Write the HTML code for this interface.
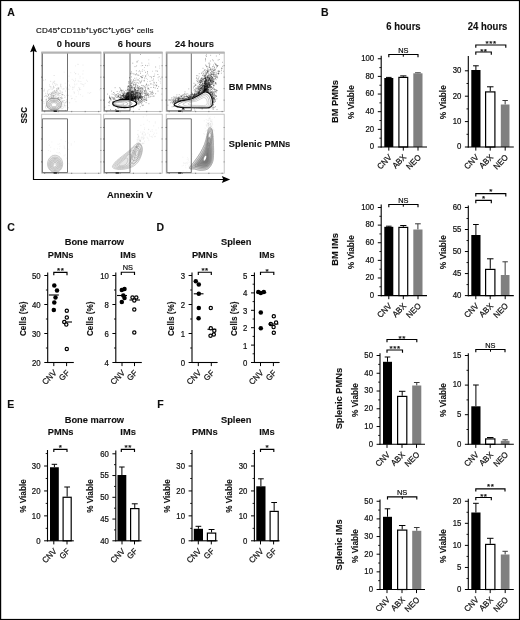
<!DOCTYPE html><html><head><meta charset="utf-8"><title>Figure</title>
<style>html,body{margin:0;padding:0;background:#fff;}svg{display:block;font-family:"Liberation Sans",sans-serif;}</style></head><body>
<svg width="520" height="620" viewBox="0 0 520 620">
<rect x="0" y="0" width="520" height="620" fill="#fff"/>
<defs><filter id="soft" x="0" y="0" width="520" height="620" filterUnits="userSpaceOnUse"><feGaussianBlur stdDeviation="0.3"/></filter></defs>
<g filter="url(#soft)">
<text transform="translate(7.2 16.3) scale(0.935 1)" font-size="11.24" font-weight="bold" text-anchor="start" fill="#111" stroke="#111" stroke-width="0.12">A</text>
<text transform="translate(321 16.3) scale(0.935 1)" font-size="11.24" font-weight="bold" text-anchor="start" fill="#111" stroke="#111" stroke-width="0.12">B</text>
<text transform="translate(7.2 230.6) scale(0.935 1)" font-size="11.24" font-weight="bold" text-anchor="start" fill="#111" stroke="#111" stroke-width="0.12">C</text>
<text transform="translate(156.5 230.6) scale(0.935 1)" font-size="11.24" font-weight="bold" text-anchor="start" fill="#111" stroke="#111" stroke-width="0.12">D</text>
<text transform="translate(7.2 408.3) scale(0.935 1)" font-size="11.24" font-weight="bold" text-anchor="start" fill="#111" stroke="#111" stroke-width="0.12">E</text>
<text transform="translate(157.3 408.3) scale(0.935 1)" font-size="11.24" font-weight="bold" text-anchor="start" fill="#111" stroke="#111" stroke-width="0.12">F</text>
<text x="36" y="33" font-size="8" fill="#111" stroke="#111" stroke-width="0.2" textLength="117.5" lengthAdjust="spacing">CD45<tspan font-size="5" dy="-2.6">+</tspan><tspan dy="2.6">CD11b</tspan><tspan font-size="5" dy="-2.6">+</tspan><tspan dy="2.6">Ly6C</tspan><tspan font-size="5" dy="-2.6">+</tspan><tspan dy="2.6">Ly6G</tspan><tspan font-size="5" dy="-2.6">+</tspan><tspan dy="2.6"> cells</tspan></text>
<text transform="translate(73.5 47) scale(0.935 1)" font-size="9.95" font-weight="bold" text-anchor="middle" fill="#111" stroke="#111" stroke-width="0.12">0 hours</text>
<text transform="translate(134.5 47) scale(0.935 1)" font-size="9.95" font-weight="bold" text-anchor="middle" fill="#111" stroke="#111" stroke-width="0.12">6 hours</text>
<text transform="translate(194.5 47) scale(0.935 1)" font-size="9.95" font-weight="bold" text-anchor="middle" fill="#111" stroke="#111" stroke-width="0.12">24 hours</text>
<text transform="translate(228.8 90.2) scale(0.935 1)" font-size="9.95" font-weight="bold" text-anchor="start" fill="#111" stroke="#111" stroke-width="0.12">BM PMNs</text>
<text transform="translate(228.8 147.2) scale(0.935 1)" font-size="9.95" font-weight="bold" text-anchor="start" fill="#111" stroke="#111" stroke-width="0.12">Splenic PMNs</text>
<text transform="translate(129.8 197.6) scale(0.935 1)" font-size="9.95" font-weight="bold" text-anchor="middle" fill="#111" stroke="#111" stroke-width="0.12">Annexin V</text>
<text transform="translate(27.2 115.3) rotate(-90) scale(0.935 1)" font-size="8.56" font-weight="bold" text-anchor="middle" fill="#111" stroke="#111" stroke-width="0.12">SSC</text>
<path d="M33.5 50V179.5H224" fill="none" stroke="#000" stroke-width="1.2"/>
<path d="M33.5 44.3L36.9 52.3L33.5 50.9L30.1 52.3Z" fill="#000"/>
<path d="M230.2 179.5L221.8 176.0L223.3 179.5L221.8 183.0Z" fill="#000"/>
<defs><filter id="fb" x="30" y="40" width="210" height="150" filterUnits="userSpaceOnUse"><feGaussianBlur stdDeviation="0.55"/></filter><filter id="fb2" x="30" y="40" width="210" height="150" filterUnits="userSpaceOnUse"><feGaussianBlur stdDeviation="0.7"/></filter></defs>
<path d="M48.9 104.6h0M59.1 100.8h0M48.4 102.7h0M56.7 107.6h0M48.9 97.6h0M57.7 105h0M61.6 107.1h0M54 101.8h0M66.3 101.8h0M50.9 98.2h0M54.9 103.6h0M52.9 102.7h0M55.8 105.9h0M59.5 103.9h0M46.3 105.9h0M48 102.3h0M47.7 103h0M50.9 103.9h0M69.7 102.8h0M58.4 97.4h0M53.2 105.8h0M54.1 104.6h0M55 98.8h0M57.1 99.6h0M63.1 100.9h0M57.7 103h0M58.9 100.5h0M59.1 102.5h0M60.3 105.6h0M55.1 99.7h0M58 105h0M62.1 101.4h0M57.1 105.1h0M55.8 103.9h0M55.3 100.5h0M49.8 101.3h0M57.2 109.3h0M59 107.4h0M58.1 105.9h0M55.3 106.2h0M62.7 101.6h0M55.6 107.1h0M58.5 98.2h0M65.7 110.5h0M55.3 106.2h0M55.1 99.3h0M54 104.6h0M59.6 106h0M54.8 108.7h0M51 106.3h0M59.6 101.8h0M46.3 99.2h0M55.6 105.2h0M61.6 98.8h0M54.5 105.7h0M53.8 93h0M59.1 99.1h0M52.6 103.9h0M65.9 105.6h0M55 109.5h0M51.3 101h0M57.8 109h0M57.5 104.3h0M46.1 100h0M51.7 100.8h0M57.2 101.6h0M58.1 103.3h0M53 103.5h0M56.5 106.6h0M52.3 102h0M48.2 109.7h0M61.2 102.2h0M52.3 97.8h0M55.3 103.9h0M64.5 104h0M50.9 92.7h0M61 103.8h0M47.1 103.8h0M59.6 105.4h0M53.7 94h0M53.9 96.5h0M57.2 94h0M50.3 108.1h0M62.1 98h0M47.4 106.7h0M58.4 98.9h0M51.3 100.1h0M49 100.1h0M60.3 105.9h0M64 102.6h0M53.9 98.9h0M53.9 97.5h0M46.3 105.9h0M61.1 106.5h0M60.6 104.1h0M51.2 103.4h0M52.8 98.3h0M46.7 96.8h0M54.5 103.6h0M52.3 109h0M55.3 105.4h0M60.1 99.6h0M45.4 106.2h0M51.3 108.5h0M56.1 107.2h0M58 94.3h0M57.8 100.2h0M51 101.2h0M58 106.7h0M59.2 96h0M51.8 93h0M54 105.5h0M51 104h0M55.6 107.2h0M50.7 99.5h0M51 110.4h0M59.5 102.5h0M55.5 103.5h0M55.4 102.1h0M53 97.7h0M51.5 109.9h0M57 103.3h0M53.5 103.3h0M56.1 100.3h0M55.4 104h0M51.1 99.7h0M49.9 98.5h0M58.6 93.1h0M53.3 100.4h0M51.6 103.4h0M59.7 103.3h0M53.9 100.4h0M53.9 106.8h0M52.7 98.2h0M48.7 98.4h0M48.1 107.6h0M56.1 102h0M61.2 100.2h0M58 106.4h0M47.4 96.5h0M50.2 106.8h0M60.5 97.8h0M59.3 101.4h0M52.7 100.7h0M53 95.4h0M49.9 97.8h0M67.1 101.6h0M46.6 101.3h0M57.1 99.9h0M58.8 105.3h0M47 100.8h0M53.4 103.1h0M55.1 101.6h0M55.4 100.5h0M50.4 109.4h0M56.2 104.8h0M47.2 102.3h0M58.3 97.6h0M59.5 101.4h0M56.4 102.4h0M55.5 108.1h0M52.6 109.6h0M50.9 99.1h0M57.8 98.5h0M52.8 106.8h0M60.1 95.5h0M60 102h0M51.7 101.8h0M49.2 101.9h0M53.6 102.4h0M59.9 102h0M47.8 107.4h0M49.6 101.1h0M53.9 101.6h0M49.9 102h0M64.5 100.5h0M53.9 107.7h0M57.9 106.2h0M58.5 94.7h0M50.5 103.5h0M56.8 108.4h0M56.7 102h0M54.7 102.1h0M55.6 105.8h0M52.9 99.6h0M50.6 107.6h0M60.4 107.2h0M58.4 106.5h0M54.5 105.8h0M49.7 102.1h0M51.1 106.1h0M51.8 102.5h0M56.3 108.7h0M50.9 99.1h0M58.3 98.4h0M56.6 100.6h0M54 95.4h0M57.8 100.9h0M56.4 101.5h0M55 109.7h0M54.4 104.9h0M56.9 99.2h0M55.1 100.9h0M48.8 106.7h0M57.6 103.3h0M50.3 94.6h0M56.7 102.6h0M46.8 102.7h0M47.5 102.9h0M55.2 104.5h0M55.5 103.7h0M49.3 101.4h0M52.1 102h0M55.7 105.6h0M62 92.2h0M56.3 102.2h0M65 106.9h0M46.9 104.7h0M52.1 107.2h0M49.6 102.6h0M53.9 102.6h0M51.8 95.3h0M56.6 107.2h0M54.2 98.7h0M55.4 105.4h0M53.7 102.9h0M61 98.3h0M51.9 95h0M51.3 99.9h0M50.1 100.1h0M62.8 102.2h0M54.2 95.7h0M56.4 99.1h0M62 97.8h0M51.8 96.3h0M54.9 98.7h0M54.2 101.4h0M51.7 107h0M58.8 103.3h0M50.4 98.5h0M52.4 99.7h0M51.3 98.4h0M50 102.1h0M61.1 103h0M52.2 96.2h0M55.5 102.9h0M48.9 98.4h0M54.3 107.3h0M57.4 103.9h0M53 104.3h0M49.3 101.5h0M60.3 101.9h0M61.1 102.8h0M55.2 101.4h0M48.1 98.9h0M64.7 105.7h0M57.3 107h0M57.1 107.3h0M53.3 102.1h0M59 101.5h0M48.4 102.1h0M52 105.6h0M51.2 98.5h0M53 109.5h0M54.3 103.7h0M54.5 104.2h0M58.8 108.9h0M46.9 108.7h0M54.5 101.7h0M65.5 102.3h0M63.4 107.1h0M49.8 105.1h0M57.9 102.5h0M43.8 101.6h0M53.6 98.3h0M62.9 102h0M52.7 101.7h0M50.9 99.7h0M54.9 104.3h0M52.2 102.6h0M48.1 105.2h0M51.1 103.9h0M50.3 100.8h0M55.5 97.9h0M65.9 102.8h0M54.2 99.9h0M61.8 108.8h0M55.9 97.3h0M52.2 105.6h0M52.1 98h0M49 99.8h0M54.6 100.3h0M62.7 98.6h0M56.1 103.4h0M53.9 107.4h0M53 101.6h0M52.8 102.6h0M60.4 106.3h0M48.3 101.1h0M50.8 106.4h0M56.2 103.2h0M54.7 83.6h0M57.5 98.6h0M57.8 87.9h0M55.4 92.2h0M51.2 99.5h0M56.9 90.8h0M45.6 79.7h0M51.8 104.9h0M54.7 81.2h0M50.3 100h0M64.2 105.2h0M57 98.4h0M49.2 93.8h0M53.2 91.6h0M55.3 94.3h0M56.9 107h0M59.1 99.9h0M53.7 86.4h0M54.4 100.8h0M49.5 105.8h0M53.2 99.6h0M53.2 88.2h0M66.4 88.9h0M60.1 93.1h0M56.5 91.4h0M52.7 103.4h0M65.7 91.1h0M55.1 103.6h0M51.5 102h0M50.7 101.2h0M57.4 105.5h0M57 88.6h0M58.7 89.3h0M59.1 107.6h0M58.3 93.1h0M61.6 98.2h0M48.2 94.5h0M62.8 94.9h0M55.7 94.6h0M45.7 93.4h0M57 98.5h0M54 82.1h0M61.7 102h0M60.6 106.1h0M52.6 92.8h0M56.7 108.7h0M45.7 95.4h0M51.1 100.9h0M63.1 94.9h0M48.2 97.3h0M53.4 86.2h0M59.9 93.3h0M58.8 87.8h0M61 86.9h0M60.8 84.3h0M62.6 94.4h0M46.4 95.4h0M56.9 90.1h0M52.3 98.9h0M54.1 75.5h0M52.6 100h0M56.6 104.1h0M59.4 99.2h0M61 103.7h0M55.6 92.7h0M60.6 100h0M44.6 89.3h0M57.6 97.8h0M56.5 101.5h0M55.8 108.1h0M51.8 94.2h0M56.8 102.2h0M59.3 107.4h0M52.4 105.2h0M57.6 89.7h0M59.3 93.7h0M51.1 97.5h0M67.7 102.2h0M56.7 90.5h0M48.5 95.5h0M52.8 92.7h0M61.2 97.5h0M48.2 106h0M53.3 87.7h0M56.8 100.4h0M53.1 101.9h0M59.5 90.8h0M43.7 80.3h0M54.3 105.6h0M60.5 106.7h0M65.2 97.1h0M60.8 86.3h0M58.8 99.7h0M54.5 93.9h0M48.9 98h0M62 94.4h0M57.9 92.3h0M56.4 89.9h0M57.1 95.5h0M56.7 92.8h0M48.5 94.7h0M60.7 108.1h0M53.2 102.6h0M59.2 99.7h0M46.5 99.3h0M49.7 105.2h0M59.3 101.3h0M58.8 88.1h0M60.3 97.5h0M54 92h0M49.4 94h0M72 98.4h0M56.1 92.5h0M51.6 93.1h0M50.1 103.1h0M53.5 103.1h0M48.6 103.5h0M54.9 101.7h0M54.4 90.8h0M61.7 94h0M54.2 90.8h0M56.1 94.3h0M56.6 99.4h0M51.2 87.1h0M57.4 103.4h0M58.8 89h0M58.3 99.7h0M56.6 100h0M53.2 98.5h0M60.1 93.5h0M47.1 96.3h0M56.1 84.1h0M51.3 101.1h0M54.2 97.6h0M48.1 103.3h0M64.6 95.6h0M51 88.9h0M59.9 97.7h0M50.6 105.5h0M59.2 101.2h0M45.3 96.3h0M58.4 88.4h0M60.1 107h0M60.7 91.9h0M51.1 103.6h0M60.5 105.6h0M61.6 96.3h0M52.7 84h0M52.5 93.7h0M58.6 99.6h0M47.5 92h0M51.1 103h0M65.5 110.3h0M62.8 108.4h0M48.2 94.6h0M51 95h0M69.4 85.2h0M58.1 88.3h0M62.4 106.1h0M55.4 106.1h0M56.7 93.1h0M52.9 96.2h0M58.4 97.9h0M68 95.6h0M52.4 92h0M50.7 86.9h0M49.6 103.3h0M55.3 95.8h0M56.9 104.5h0M58.4 102.4h0M51.9 95.2h0M50.7 96.3h0M50.5 94.4h0M54 95.5h0M53.5 93.6h0M62.2 94.6h0M49.4 98.4h0M49 89.5h0M55.5 85.3h0M60.7 85.3h0M50.1 101h0M44.1 90.9h0M48.4 95.6h0M44.1 103.3h0M54.2 99.1h0M53.2 82.2h0M54.2 87.6h0M55.1 91h0M53.3 95.5h0M59.2 102.4h0M49.5 96.9h0M63 100.5h0M51 96.2h0M53.1 103.6h0M55.2 99.6h0M67.2 87.4h0M49.4 84.9h0M46.2 103h0M56.6 108.4h0M44.1 90.8h0M62.9 104.2h0M59.9 103.1h0M55.2 96.9h0M55.2 102.9h0M54.1 99.2h0M63 89.1h0M50.9 101h0M53.6 95.9h0M66.5 99.9h0M52.7 104.7h0M68.8 89.2h0M51.3 97.8h0M57.9 94.2h0M57.7 91.4h0M51.7 97.7h0M68.1 81.2h0M57.3 106.5h0M59.1 110.5h0M57.5 98h0M54.3 91h0M64 88.7h0M54.3 93.3h0M50.7 81.4h0M52.9 98h0M55.8 102.9h0M54.1 92.5h0M56.7 101.7h0M50 86.4h0M49.4 104.4h0M60.5 90.8h0M55.6 102.9h0M62.3 92.4h0M53.7 106.9h0M68.3 107.7h0M48.7 100.1h0M53.4 96.6h0M51.4 93.6h0M54.9 109.6h0M58.8 100h0M55.1 91.7h0M53.7 105.7h0M56.4 96.9h0M46.1 99.8h0M45.5 107.7h0M51.5 97h0M47.6 93.5h0M49.9 104.9h0M56.4 88.7h0M44.4 96.5h0M52.3 89.2h0M58.2 95.7h0M55.6 92.9h0M51.9 93.8h0M46.2 101.4h0M57.2 84.9h0M55.6 105.1h0M56.3 106.1h0M53.5 97h0M47.9 90.7h0" stroke="#555" stroke-opacity="0.42" stroke-width="0.55" stroke-linecap="round" fill="none"/>
<path d="M64.2 72.2h0M78.7 87.7h0M85.1 83.4h0M70.1 86.7h0M76 101.6h0M90.7 92.6h0M69 76.2h0M78.3 74.2h0M80.7 89.5h0M82.9 84.5h0M70.8 72.7h0M76.1 96.6h0M88 92.8h0M79.5 89.4h0M82.8 96.2h0M83 65.1h0M83.7 86.2h0M73.8 87.8h0M79 81.4h0M65.2 83.2h0M80.9 81.5h0M65.9 87h0M82 84h0M80 78.1h0M72.4 87.8h0M74.5 84h0M99.8 89.8h0M77.9 64.2h0M77.7 90.3h0M72.1 79.4h0M61.2 88.1h0M72.8 89.5h0M86.6 80.2h0M83.9 84.8h0M75.6 78.9h0M71 96.1h0M83.2 70.9h0M82.9 74h0M66.5 95.2h0M68 95h0M78.4 91.9h0M80.6 94.7h0M79.4 88.4h0M78.7 94h0M74.3 93.2h0M87.5 81.3h0M80.1 76.3h0M75 84.9h0M74.6 72.3h0M76.8 84.1h0M79.3 89.8h0M64.6 97.5h0M75.8 73.5h0M74.4 86.9h0M83.1 78h0M78.1 64.4h0M78.2 80.8h0M74 91.7h0M89.6 93.4h0M71.5 98.8h0M74.7 81.6h0M72.9 87h0M80.9 83.6h0M75.5 80.4h0M74.2 92.7h0M73.4 80.4h0M75.5 73.8h0M75.4 65.9h0M79.9 87.9h0M74.9 99.1h0" stroke="#888" stroke-opacity="0.35" stroke-width="0.5" stroke-linecap="round" fill="none"/>
<path d="M61.4 104.3C61.4 105.3 61 106.4 60.4 107.2C59.8 108.1 58.8 108.9 57.7 109.4C56.6 109.9 55.2 110.2 54 110.2C52.8 110.2 51.4 109.9 50.3 109.4C49.2 108.9 48.2 108.1 47.6 107.2C47 106.4 46.6 105.3 46.6 104.3C46.6 103.3 47 102.2 47.6 101.3C48.2 100.5 49.2 99.7 50.3 99.2C51.4 98.7 52.8 98.4 54 98.4C55.2 98.4 56.6 98.7 57.7 99.2C58.8 99.7 59.8 100.5 60.4 101.3C61 102.2 61.4 103.3 61.4 104.3Z" fill="#fff" stroke="#777" stroke-width="0.65"/>
<path d="M60.2 104.7C60.2 105.5 59.9 106.5 59.4 107.2C58.9 107.9 58 108.6 57.1 109C56.2 109.4 55 109.7 54 109.7C53 109.7 51.8 109.4 50.9 109C50 108.6 49.1 107.9 48.6 107.2C48.1 106.5 47.8 105.5 47.8 104.7C47.8 103.9 48.1 102.9 48.6 102.2C49.1 101.5 50 100.8 50.9 100.4C51.8 100 53 99.7 54 99.7C55 99.7 56.2 100 57.1 100.4C58 100.8 58.9 101.5 59.4 102.2C59.9 102.9 60.2 103.9 60.2 104.7Z" fill="none" stroke="#808080" stroke-width="0.55"/>
<path d="M59 104.7C59 105.4 58.8 106.1 58.4 106.7C57.9 107.3 57.2 107.8 56.5 108.2C55.8 108.5 54.8 108.7 54 108.7C53.2 108.7 52.2 108.5 51.5 108.2C50.8 107.8 50.1 107.3 49.6 106.7C49.2 106.1 49 105.4 49 104.7C49 104 49.2 103.3 49.6 102.7C50.1 102.1 50.8 101.6 51.5 101.2C52.2 100.9 53.2 100.7 54 100.7C54.8 100.7 55.8 100.9 56.5 101.2C57.2 101.6 57.9 102.1 58.4 102.7C58.8 103.3 59 104 59 104.7Z" fill="none" stroke="#7d7d7d" stroke-width="0.55"/>
<path d="M57.8 104.7C57.8 105.2 57.7 105.8 57.3 106.2C57 106.7 56.5 107.1 55.9 107.4C55.4 107.6 54.6 107.8 54 107.8C53.4 107.8 52.6 107.6 52.1 107.4C51.5 107.1 51 106.7 50.7 106.2C50.3 105.8 50.2 105.2 50.2 104.7C50.2 104.2 50.3 103.6 50.7 103.2C51 102.7 51.5 102.3 52.1 102C52.6 101.8 53.4 101.6 54 101.6C54.6 101.6 55.4 101.8 55.9 102C56.5 102.3 57 102.7 57.3 103.2C57.7 103.6 57.8 104.2 57.8 104.7Z" fill="none" stroke="#888" stroke-width="0.55"/>
<path d="M56.7 104.7C56.7 105.1 56.5 105.5 56.3 105.8C56.1 106.1 55.7 106.4 55.3 106.5C54.9 106.7 54.4 106.8 54 106.8C53.6 106.8 53.1 106.7 52.7 106.5C52.3 106.4 51.9 106.1 51.7 105.8C51.5 105.5 51.3 105.1 51.3 104.7C51.3 104.3 51.5 103.9 51.7 103.6C51.9 103.3 52.3 103 52.7 102.9C53.1 102.7 53.6 102.6 54 102.6C54.4 102.6 54.9 102.7 55.3 102.9C55.7 103 56.1 103.3 56.3 103.6C56.5 103.9 56.7 104.3 56.7 104.7Z" fill="none" stroke="#999" stroke-width="0.55"/>
<path d="M132.2 94.1h0M131.4 93.2h0M128.2 99.1h0M131.1 94.4h0M132.8 92h0M132.2 94.7h0M141 82.3h0M130.1 94.2h0M138 85.6h0M132.4 87h0M135.5 92.1h0M132.3 82.3h0M146.9 74.7h0M136.3 87.1h0M131.2 94.5h0M128.1 99.9h0M144.4 67.5h0M129 97.8h0M129.3 96.9h0M150.3 83.7h0M128.3 99.4h0M130.6 96.5h0M133.4 84.8h0M137.5 95.4h0M136.2 74.7h0M145.2 86.1h0M135.1 84.4h0M133.1 96.9h0M129.2 97.5h0M130.4 97.5h0M132.6 92.2h0M131.8 91.2h0M141.2 65.8h0M141.7 90.6h0M129.8 97.9h0M130.5 91.6h0M128.7 98.9h0M129.4 97.4h0M134.6 88.5h0M131.3 96h0M160.8 78.7h0M143.7 75.8h0M132.7 90.3h0M132.4 93.9h0M134 89.8h0M130.9 93.4h0M129.3 98.7h0M132.5 97.7h0M138.4 94.9h0M159.7 68.2h0M160.2 81.4h0M132.3 95.9h0M133 92.2h0M130.6 98.7h0M141 76.6h0M129.3 94h0M131.6 92h0M132.2 94.6h0M137.1 92.8h0M131.7 87.9h0M134 85.1h0M147.4 81.6h0M133.1 91.3h0M128.4 98h0M137.2 74.8h0M134.2 88h0M128.4 99.1h0M148.8 63.3h0M147.5 79.4h0M134.9 87.1h0M133.7 87.3h0M141.3 91.9h0M129.6 96.6h0M152.6 71.3h0M134.9 93.5h0M136.4 84.2h0M130.7 97.7h0M159.4 66h0M133.6 74h0M139.5 78.5h0M129 96.5h0M160.8 79h0M142 93.2h0M130.8 95.5h0M139.8 93.6h0M135.7 89.3h0M128.8 98.9h0M154.7 74.1h0M131.3 97.2h0M131.5 89.7h0M135.1 93.5h0M138.2 60.6h0M129.3 97.7h0M129 96.3h0M132 91.6h0M148.1 89.8h0M147 86.9h0M128.7 99.2h0M134 95h0M140.6 71.7h0M129 96.3h0M135.9 94.2h0M131.6 96.8h0M128 99.9h0M129.8 97.6h0M133.4 95.2h0M133.2 89.4h0M129.3 94h0M145.4 87.8h0M139.1 75.3h0M144.6 78.8h0M142.7 69.5h0M159.2 57.7h0M139.4 89.8h0M137.7 86.3h0M141.7 62.9h0M149.1 85.4h0M134.6 91.3h0M133.9 73.6h0M129 98.5h0M134.2 94.4h0M136.6 95.1h0M136 92.2h0M130.6 98.6h0M132.3 83.6h0M138 92.4h0M138 90.3h0M151.6 83.8h0M133.6 80h0M136.7 65.7h0M137.2 87.5h0M132.6 91.5h0M139 93.9h0M136.7 78.1h0M160.7 83.2h0M141.6 92.9h0M134.2 95.8h0M144 87.9h0M148.8 59.8h0M128.8 99h0M129.7 99.2h0M131.5 97.9h0M130.6 97.8h0M131.2 91.2h0M148.5 75.2h0M140 91.7h0M140.4 93.6h0M132.8 83.1h0M143.9 86.2h0M137 88.7h0M141.5 77.7h0M136.5 66.1h0M144.3 70.4h0M131.8 97.3h0M132.2 88.7h0M153.8 87.4h0M133.7 96.5h0M129.2 95.8h0M130.4 93.9h0M131.9 90.7h0M141.9 80.2h0M130.2 95.6h0M129.9 96.7h0M152.9 80.5h0M137.4 93.9h0M143.7 90.5h0M135.8 94.7h0M130.8 87.9h0M128.4 99.5h0M129.8 98.5h0M129.9 97h0M130.7 98.2h0M137.6 80h0M134 94.8h0M140.8 89.4h0M129.7 97.5h0M145.3 88.7h0M145.7 85.3h0M129.8 98.8h0M128.2 99.7h0M143.1 85.5h0M158.1 77.7h0M142.2 93.3h0M130.5 96.4h0M131.6 83.8h0M153.1 84.4h0M149.5 89.3h0M135.6 80h0M129.2 99.4h0M142.1 63.2h0M128.9 97.8h0M128.1 99.7h0M131.6 96.7h0M139.7 91.4h0M147.4 85.8h0M136.3 88.3h0M135.2 84.2h0M130.6 97h0M136 80.8h0M146.4 78.4h0M135.8 94.8h0M131.3 94.6h0M141.7 77.1h0M152 80.3h0M132.3 87.8h0M140.8 81.7h0M128.8 99.4h0M140.9 91.1h0M149.1 65.2h0M131 97.6h0M130.5 97.2h0M139 91.2h0M129.1 97.9h0M139.1 92.5h0M130.5 96.8h0M136.7 84.9h0M129 98.3h0M132 94.7h0M129.3 98.9h0M138.7 80.3h0M132.2 96.5h0M131.6 83.5h0M130.8 94.8h0M134.9 74.3h0M129.5 98h0M128.4 99.6h0M153.8 81.2h0M132.1 97.5h0M137.4 93.7h0M128.6 99.2h0M128.9 98.8h0M134.1 94.5h0M130.5 88.2h0M134.3 94.5h0M130.8 97.6h0M146.4 83.6h0M132 96.2h0M157 85.2h0M133 95.7h0M128.9 98.8h0M138.7 71.7h0M134.4 96.9h0M132.8 87.3h0M131.4 97.5h0M128.2 99.6h0M132.6 97.8h0M147.8 88h0M128.3 99.5h0M130.3 92.5h0M151.4 76.7h0M140.2 83.3h0M146 90.4h0M158.6 80.2h0M136.9 79.9h0M137.5 75.3h0M128.2 99.8h0M128.3 98.6h0M144.9 91.3h0M130.7 87.9h0M128.3 99.8h0" stroke="#333" stroke-opacity="0.42" stroke-width="0.55" stroke-linecap="round" fill="none"/>
<path d="M124 101h0M131.5 101.3h0M131 99.3h0M123.4 95.2h0M137.2 97h0M135.4 96.4h0M120.5 90.7h0M131.6 103.6h0M123.3 100.6h0M125.2 101.1h0M129.6 100.6h0M125.7 99h0M130.7 99.9h0M126.5 99.7h0M127.4 93.8h0M138.4 98h0M138 99h0M119.9 99.4h0M127.7 101.1h0M120.8 105.9h0M129.6 104.1h0M119.6 100.3h0M123.7 102.8h0M132 92.6h0M123.5 101.1h0M138.4 90.3h0M132.4 97.4h0M123.6 98.7h0M135 97.4h0M132.1 103.9h0M140.5 97.2h0M131.1 102.7h0M119.8 97.6h0M140.8 88.2h0M121 105.9h0M127.9 92.6h0M145 95.1h0M123.8 95.7h0M126 101h0M124.7 98.2h0M128.2 100.6h0M132.5 99h0M140.5 100.9h0M117.4 101.5h0M138.9 104.1h0M136.3 98.6h0M132.8 94.2h0M130.4 104.4h0M123.7 104.6h0M135.4 93.2h0M127.5 93.2h0M131.8 96.1h0M127.7 96h0M141.1 97.6h0M134.7 97.4h0M120.6 101.9h0M152.4 91.2h0M129.6 96.4h0M127.6 104.7h0M135.7 100.1h0M121.6 97.9h0M125.3 105.3h0M128.8 102.2h0M132.7 87h0M127 93.9h0M133.5 99.8h0M136.1 96.4h0M135.6 100.1h0M126.4 97.7h0M129.6 101.1h0M126.4 100.9h0M146 99.9h0M135 98.9h0M135.9 97.6h0M122.3 99.4h0M128.3 99.2h0M124.3 94.3h0M145.3 93.8h0M131.3 98.9h0M132.8 99h0M130.7 94.8h0M136 97.8h0M140.3 97.6h0M133.9 91.7h0M135.4 90.8h0M134.2 97.7h0M120.3 102.8h0M132 97.6h0M131.6 101.9h0M122.4 93h0M125.7 95.9h0M136.3 95.7h0M123.8 104.4h0M130.1 93.3h0M132.2 99.7h0M125.5 102.1h0M122.4 98.9h0M135.6 95.3h0M148.9 103.7h0M136 97h0M129.1 96h0M121.9 90.5h0M133.6 101.3h0M137.3 102h0M127.1 96.4h0M142.5 92h0M120.1 99.1h0M136.9 92.4h0M126.3 95.1h0M131.9 103.3h0M128.5 98.3h0M120.4 100.9h0M134.7 96.8h0M143.6 96.6h0M128.5 86.6h0M133.3 96.4h0M124.7 98.9h0M119.3 91.9h0M133.3 93.4h0M145.3 99.9h0M130.4 105.3h0M114.9 98h0M128.4 103.9h0M117.3 97.2h0M131.2 105.1h0M131.8 93.2h0M131.8 95.9h0M132.3 98.7h0M140.5 91.6h0M133.8 101.4h0M117.7 93.8h0M135.9 97.5h0M139.7 92.9h0M126.3 95h0M126.8 101.5h0M128.6 103.6h0M132.3 99.9h0M126.4 99h0M140.7 95.2h0M139.1 109.3h0M129.8 94.6h0M126.7 99.8h0M117.3 102.8h0M121.3 100.4h0M123.4 103.9h0M124.7 97.2h0M126.9 106.1h0M130 92.9h0M138.2 99h0M126.4 93.1h0M126.9 99.7h0M130.4 102.3h0M137.2 90.6h0M127 98h0M137 99.5h0M128.5 92.7h0M146.2 90.9h0M124.5 95.5h0M123.7 99.6h0M138.5 97.2h0M123.2 94h0M138.6 99.2h0M127.4 96.2h0M132.4 101.7h0M120.1 103.2h0M136.3 102.5h0M130.2 95.2h0M128.8 91.6h0M129.1 98.5h0M146.5 93.8h0M124.6 102.7h0M141.3 101.6h0M126.4 98.5h0M132.9 99.2h0M126.7 105.1h0M128.2 99.1h0M120.7 100.7h0M132.7 96.5h0M142.4 105.6h0M121.3 102.1h0M138.5 96.5h0M138.9 103.3h0M129.4 96.1h0M134.3 98.2h0M141.7 95.9h0M138.5 98.6h0M130.2 100.1h0M126.1 102.6h0M145.2 90.5h0M126.5 104.7h0M124.8 101.8h0M125.2 102h0M145 99h0M120.6 98.3h0M131.1 99.9h0M126.9 102.7h0M130.5 93.7h0M113.2 105.6h0M124.2 96.7h0M122.2 95.7h0M120.9 99.2h0M133.8 98.4h0M128.7 105.3h0M135.7 94.6h0M129.1 96.8h0M134 94.8h0M136.5 91.3h0M143.2 99.2h0M123.3 95.4h0M129.4 97.7h0M130.7 93h0M129.8 94.2h0M148.2 95.5h0M132.2 93.9h0M124.2 101.8h0M135.7 100h0M134.1 98.7h0M125.4 94.4h0M135.6 100h0M122 101.5h0M142.1 102.6h0M138.8 98.2h0M122.1 91h0M127.6 94.9h0M140.9 101.1h0M125.9 97.3h0M134.3 100.9h0M122.6 98.5h0M134.6 94.7h0M128.6 95.7h0M129.2 93.2h0M144.2 99.7h0M128.7 94.3h0M121.6 100.3h0M130.6 96.4h0M131.7 97.2h0M121.3 97.1h0M141.9 104.9h0M131.7 96.4h0M131.5 100.7h0M127.4 97.2h0M127.7 95h0M129.2 95.1h0M129.6 95.2h0M140.3 97.8h0M128.9 101.2h0M124.1 99.1h0M128.9 103h0M139 103.9h0M122.8 95.9h0M119 98.1h0M131.5 95.1h0M137.5 96.1h0M131.4 102.4h0M128 89.1h0M123.7 97.4h0M134.2 97.2h0M128.8 97.1h0M138.8 100.4h0M137.4 97.3h0M141.5 99.3h0M140.7 98.1h0M124.3 91.7h0M127.3 98.3h0M134.4 102.2h0M125.2 98.7h0M122.5 101.2h0M120.3 99.6h0M126.5 97.8h0M124.1 104.1h0M149.9 94.8h0M142.3 89.9h0M119.8 99.6h0M122.1 95.5h0M138.8 99.8h0M134.3 98.2h0M132.2 97.8h0M136.4 92.4h0M118.7 96.2h0M133.5 97.9h0M145.5 95.6h0M126.7 101.7h0M131.3 95.1h0M123.4 98.3h0M124.9 99.6h0M132.6 100h0M116.6 100.5h0M131.4 103.8h0M124.4 98.4h0M132.8 100.6h0M124.3 104.4h0M133 93.2h0M131 95.2h0M119.6 106.1h0M127.2 99.9h0M132 94.6h0M125.7 100.9h0M130 93.8h0M139.9 97.7h0M146.8 100h0M135 105.5h0M137.2 96h0M138.5 102.2h0M132 100h0M140 93h0M123.1 100h0M127.8 107.6h0M133.4 101.2h0M128.7 100.7h0M120.7 98.4h0M131.3 93.3h0M135.5 99.1h0M125.6 104.9h0M125.8 98.6h0M124.4 97.4h0M139.2 96.6h0M135.6 94.1h0M151.2 92.4h0M131.1 94.2h0M133.1 100h0M130.9 98.9h0M133.4 93.5h0M125.5 99.2h0M129.7 99.4h0M124.9 96.2h0M125.5 96.3h0M138.4 94h0M121.9 98h0M135.5 96.2h0M140.5 90.7h0M136.6 103.1h0M126.4 97.5h0M129.7 100h0M124.6 102.9h0M139 95.1h0M139.9 97.3h0M120.4 96.7h0M138.4 99.9h0M117.1 91.5h0M127.4 99.1h0M132 105.4h0M130 106.7h0M121.4 101.3h0M121.3 99.4h0M135.6 93.8h0M132.3 100.6h0M137.8 87.2h0M124.8 92.3h0M135.8 91.1h0M133.2 94.9h0M132 97.6h0M122.7 104.8h0M146.2 91.8h0M141.4 99.4h0M146.6 95.7h0M135.3 103.3h0M141.6 96.6h0M130.1 96.9h0M132.1 91.2h0M122.6 99.2h0M135.2 98.1h0M132.1 103.7h0M127.2 94.1h0M129.8 100.8h0M123.1 90.3h0M146.3 92.8h0M141.1 95.5h0M131.6 94.6h0M121.3 98.5h0M136.9 93.9h0M130.3 95.3h0M125.3 97.3h0M132.9 98.5h0M123.5 101h0M119.4 101.7h0M119.7 97.4h0M135.5 96h0M140.3 97.1h0M130.8 96.8h0M124.4 97.8h0M129.5 94.9h0M123 94h0M127 99.3h0M146.6 94.3h0M136.2 99h0M126.6 99.4h0M118.7 96.5h0M123.4 94.1h0M142.6 98.8h0M139 98.8h0M137.6 99.2h0M146.1 102.6h0M119.9 99.7h0M134.5 97.6h0M133.4 105.6h0M123.7 101h0M129.8 105.2h0M123.3 100.1h0M123.8 99.9h0M124.7 100.5h0M121.8 100.3h0M123 100h0M144.4 95.8h0M124.3 93.2h0M127.3 89.1h0M126.3 95h0M132.6 104.6h0M137.8 97h0M138.8 97.8h0M129.8 103.7h0M132.9 97.2h0M137.1 90.8h0M119.9 95.9h0M130.3 93.1h0M127.6 93.7h0M134.8 97.6h0M124.7 104.4h0M128.9 103.4h0M125.7 98.8h0M139.8 93.7h0M133.4 94.1h0M123.5 96.2h0M140.9 96.9h0M122.4 104.3h0M126.7 104.3h0M134.2 94.5h0M124.2 102.6h0M122.2 103.1h0M124.4 106.2h0M130.5 100.7h0M142.7 100.6h0M129.7 102.8h0M145.1 98h0M133.5 103.8h0M122 105.9h0M123.7 99.4h0M134.5 93.1h0M136.2 97.4h0M127.2 97h0M125.8 102.2h0M138.8 89.7h0M134.1 101.1h0M134 105.8h0M131.6 101.8h0M130 97.1h0M144.7 99.7h0M127.4 97.6h0M132.4 96.9h0M142.8 97.8h0M128.8 104.1h0M126.6 102.5h0M123.5 97.5h0M130.5 101.5h0M137.4 97.9h0M130 100.2h0M121.1 100h0M140.7 92.9h0M123.9 93.8h0M123.7 100.9h0M120.9 100.1h0M134.6 89.8h0M137.2 98h0M133.7 92.7h0M136.3 105h0M125.5 93.2h0M122.8 100.1h0M148.5 88.2h0M132.1 96.7h0M140.4 96.3h0M124.7 106h0M133.7 97.8h0M135 97.9h0M128 97h0M138.4 95.8h0M121.6 96.3h0M132.3 102.2h0M125.1 103.1h0M136.1 97.9h0M131.2 99.6h0M120.4 107.7h0M139.7 100.6h0M135.6 91.9h0M132.5 98.4h0M133.9 99.9h0M135.2 101.5h0M127.8 101.2h0M135 102.8h0M132.7 97.5h0M119.5 104.2h0M129.4 95.9h0M136.3 97h0M140.9 94.3h0M132.8 100.6h0M137.5 92.5h0M125.1 93.9h0M128.6 93.9h0M122.6 99.2h0M132.3 98.3h0M125.6 101.2h0M115.7 94.9h0M121.1 99.1h0M125.1 97.6h0M130 96.7h0M135.6 98.2h0M136.7 93.1h0M131.4 91.9h0M132.6 96h0M132.4 98.2h0M128 99.6h0M136.7 93.2h0M134.3 98.3h0M131.9 99.8h0M127.4 96.7h0M122.9 98.1h0M121.8 97.1h0M128.3 98.6h0M133 101.3h0M138.6 94h0M121.2 103.2h0M125.8 90.4h0M129.1 101.5h0M133.2 92h0M133.6 101.5h0M130.9 96.3h0M129.5 90.5h0M136.7 92.7h0M135.5 100.8h0M139.9 102.3h0M126 96.4h0M126.4 97h0M145.2 87.7h0M122.3 103.5h0M133.6 95.8h0M130.3 98.4h0M137.6 97.5h0M141.9 96.8h0M129.3 95.5h0M127.8 90.9h0M124.3 100.4h0M125.4 104.7h0M128.7 96.3h0M135.8 97.1h0M131.6 99h0M135.8 103.5h0M120.9 90h0M132.3 98.6h0M136 92.3h0M135.3 94.8h0M129.4 97.6h0M135.2 98.2h0M126.4 98.2h0M133.8 94.7h0M124.4 93.2h0M120.5 97.5h0M120.9 89.6h0M132.2 92.5h0M139.6 97.6h0M122.8 96.2h0M134.5 98.6h0M120.4 88.3h0M128.3 102.6h0M133.2 94.2h0M122.5 99.4h0M138.2 98.6h0M128.5 96.4h0M120.9 101.6h0M124.2 99.9h0M134.7 96h0M137.4 94.5h0M141.5 103.3h0M141.5 99.4h0M120.2 101h0M137.1 96.1h0M131.2 96.3h0M125.3 95.1h0M131.9 95.5h0M123.3 96.2h0M135.2 96.4h0M146.7 100.5h0M125.3 96.4h0M142.2 93.1h0M126.1 98.6h0M145.7 94.3h0M123.9 97.8h0M130 91.6h0M119.7 102.2h0M126.6 99h0M137.7 103.9h0M125.8 95.7h0M140.2 106.7h0M139.1 101.8h0M120.1 94.9h0M145.6 89.4h0M125.9 95.6h0M122.8 103.2h0M121.2 105.2h0M123.6 92.1h0M126.7 96.3h0M142.1 101.2h0M128 102.1h0M137.6 101.8h0M135.8 99.2h0M133 105.9h0M125.2 99.2h0M124.8 100.2h0M141.7 98.1h0M128.1 100.7h0M143 100.2h0M139.3 97.7h0M129.6 99.2h0M117.5 107.8h0M144.7 93.1h0M140.7 102.2h0M127.1 97.9h0M126.6 99.8h0M131.1 92.5h0M132.6 92.3h0M122.4 98.3h0M127.7 92.7h0M134.1 90.7h0M132 99h0M137.2 96.7h0M120.4 100.3h0M131.8 94.6h0M130.6 98h0M144.3 101.3h0M129 105h0M126.4 95.1h0M133.1 102.1h0M128.8 96.7h0M133.7 102.5h0M154.1 96.1h0M127.1 100.1h0M135.5 97.3h0M138.3 89h0M134 99.5h0M144.7 91.7h0M135.7 100.3h0M122.9 93.9h0M122.3 100.7h0M124.5 101.9h0M128.8 95h0M132 99h0M129.2 99.1h0M137.4 98.2h0M128.9 100.3h0M134.7 94.5h0M131.6 98.5h0M132 104.3h0M135 99h0M132 91.7h0M123.3 100h0M132.2 95.1h0M140 94.7h0M135 96.8h0M134.9 104.5h0M127.7 102.5h0M128.2 96h0M136.8 94.1h0M129 101.5h0M140.6 95.3h0M135.9 98.9h0M127.4 100.9h0M138.3 98.7h0M122.2 102h0M142.4 97.6h0M122.7 99.2h0M136.9 98.6h0M132 98.7h0M146.8 97.6h0M121.3 100.8h0M141.8 101.2h0M123.2 99.1h0M140.6 93.3h0M120.9 100.3h0M143.2 99h0M116.2 94.7h0M122.8 99.6h0M135.8 102h0M130.7 93.6h0M124.7 106.4h0M132.6 104.3h0M131.6 95h0M127.2 92.4h0M139.5 95.4h0M123.3 99.4h0M144.5 90.8h0M124.5 99.9h0M136.1 99.9h0M122.1 99.8h0M147.7 93.1h0M133.2 95.4h0M119.4 100.7h0M116 109.5h0M134 98.1h0M128.7 90.9h0M131 101.1h0M135.5 95.9h0M151.4 94h0M124.1 98.7h0M126.8 95.6h0M143.4 105.2h0M133.5 107.7h0M144.2 93.4h0M135 93.2h0M128.8 91h0M133.2 98.3h0M119.2 101.3h0M127.8 94.9h0M146.1 100.1h0M133.4 93.8h0M119 101.1h0M131 98.4h0M130.7 101h0M119.9 102.3h0M129.8 97.6h0M120.4 95.2h0M126.1 101.5h0M129.1 97.2h0M140.6 94.1h0M137.7 88.2h0M139.4 97h0M121.9 95.4h0M124.7 96.4h0M135.9 92.9h0M139.4 97.1h0M129.5 98.7h0M115.7 109.5h0M128.6 104.3h0M127.8 102.2h0M123.7 96.5h0M118.8 108.5h0M124.9 98.2h0M125.1 106.6h0M120.8 99.5h0M127.6 98.2h0M127.3 105.6h0M127.2 93.5h0M130.3 96.9h0M130.3 90.7h0M131.2 95.9h0M122.8 95.2h0M139.9 96.3h0M138.3 97h0M127.5 95.8h0M127 103.6h0M121.6 91.8h0M144.3 91.1h0M132.1 96.5h0M133.8 98.7h0M139.4 101.8h0M144.7 96.8h0M141.7 92.3h0M128.7 98.7h0M140 98.4h0M128.8 96.6h0M128.4 95.1h0M123.2 97h0M129.4 101.5h0M122.5 104.5h0M130.7 98.4h0M130.7 87.1h0M134.9 98.7h0M122 95.5h0M128.8 101.1h0M131.7 98.8h0M123.8 100.7h0M124.7 105.5h0M132.1 98.6h0M132.3 97.1h0M131.8 104h0M129.6 95.4h0M147.9 94.7h0M128 98.1h0M133 97.2h0M146.4 98.7h0M137 99.4h0M120.4 101.4h0M138.6 100.1h0M116.9 102.1h0M133.1 95.3h0M130.7 97.9h0M128.6 95.8h0M124 99.2h0M140.9 100.4h0M134.4 98.4h0M140.1 90.7h0M135.4 97.5h0M135.6 96.7h0M132.8 99.1h0M123.3 96.2h0M127.8 96.8h0M120.9 96h0M132.5 96.1h0M136.3 101.2h0M138.7 93h0M137.4 91.3h0M129 99.5h0M131.2 90h0M129 103.7h0M121.7 90.4h0M136.8 101.6h0M127.3 98.9h0M135.9 91.8h0M122.2 100.2h0M133 93h0M135.9 101.1h0M132.9 99.1h0M140.3 102.8h0M137.3 93.8h0M128 105.8h0M123.6 94.5h0M133.1 101.9h0M140.5 95.4h0M140.3 98.7h0M135.4 96.6h0M132.4 98.1h0M133.7 96.2h0M125.2 97.4h0M141.8 93.7h0M125.3 96.7h0M129.7 106.2h0M136.2 95.4h0M125.1 97.2h0M129 100.1h0M125.9 96.8h0M131.2 96h0M129.4 102h0M137.7 90.9h0M124.3 97.1h0M125 97.5h0M138.9 92.6h0M138 98.1h0M136.2 93.6h0M122.5 95.9h0M121 97.4h0M136.6 100.5h0M136.8 96.5h0M121.8 98.6h0M131.3 96.5h0M129.5 100.9h0M139 99.6h0M123.7 94.7h0M119.6 100h0M118.6 100.7h0M129.4 93.1h0M123 95.7h0M128.7 102.1h0M129.3 92.1h0M152.2 92.9h0M141.6 96.9h0M131.8 98.5h0M128.3 93.1h0M118.4 101.9h0M123.8 95.2h0M127.3 97.9h0M128.1 94.5h0M125.7 99h0M127.5 100.3h0M136.1 103.2h0M143.9 101h0M147.8 95.3h0M124.7 95.5h0M125.2 102.1h0M138 100.7h0M117.1 97.3h0M121.6 107.8h0M129.2 103.2h0M141.6 98.7h0M129.4 100.6h0M122.8 100.5h0M129.1 103.7h0M134.6 91h0M140.5 96.5h0M130.1 104.4h0M128 95.7h0M129 106.2h0M122 102.1h0M120.7 97.7h0M130.3 96.5h0M133.1 98.1h0M130.2 99.2h0M115.1 100h0M131.1 98.7h0M126.8 102.7h0M121.1 93h0M140.6 94.1h0M124.1 102.1h0M138.7 95.3h0M116 100h0M127.5 97.6h0M134.1 102.1h0M132.2 104h0M130.6 85.3h0M139.3 97.2h0M132 99.5h0M132.2 98.7h0M125.4 98h0M131.4 93.9h0M119.4 87.8h0M131.8 95.3h0M135.9 83.1h0M126.4 98h0M125.5 99.9h0M132.8 98.6h0M133.8 97.6h0M154 85.3h0M140.1 88.7h0M126.7 94.3h0M128.5 94h0M126.2 100.1h0M141.6 76.9h0M127.4 97.3h0M128.5 97.4h0M138.8 90.9h0M132.5 99.9h0M126.3 99.7h0M126.6 98.1h0M127.6 99h0M129.1 96h0M128.4 95.6h0M129 92.7h0M132.5 98.9h0M128.6 99.2h0M126.8 93.7h0M125.9 99.3h0M125.9 99.8h0M126.4 100.4h0M152 96.3h0M126.1 95.9h0M140 98.6h0M125.3 100.6h0M125.4 100.3h0M140.7 93.7h0M126.4 98.3h0M138.2 88h0M130.3 94.3h0M125.8 100.7h0M133 97.9h0M129.5 95.5h0M130.6 93.3h0M128.5 96h0M128.2 92.9h0M140.6 54.5h0M131.5 85.3h0M129.9 93.2h0M126.1 100.5h0M126.9 98.3h0M130.6 93.8h0M129 95.9h0M128.8 99.2h0M138.2 79.8h0M128.7 98.8h0M129.9 96.8h0M134.6 88h0M133.6 84h0M145.4 65.4h0M130.2 96.6h0M127.5 97.5h0M127.4 95.2h0M130.6 94.7h0M125.1 100.9h0M131.6 97.5h0M125.4 99.4h0M137.1 61.4h0M126.6 97.6h0M149.1 97h0M129 100.1h0M128.2 88.5h0M133 82h0M132.5 98.1h0M130.3 99.6h0M139.1 87.5h0M136.1 94.9h0M128.2 99.9h0M134.8 98.9h0M134.2 90h0M150 81.3h0M129.8 92.6h0M125.7 98.8h0M133.1 96.5h0M147.4 73.1h0M125.3 100.5h0M126.8 94h0M140.2 94.6h0M138.3 83.2h0M127.3 98.5h0M130.4 96.2h0M133.4 95.5h0M128.2 99.9h0M125.3 100.9h0M135.7 90h0M146.4 84.9h0M132.6 91.3h0M148.1 88.4h0M143 89.3h0M156.5 85.9h0M126.2 99.1h0M126 99.3h0M129.4 97.8h0M129.4 98.3h0M130.5 99h0M142.7 96.4h0M136.9 93.1h0M157.9 74.5h0M129.5 87.7h0M135.3 74.8h0M126.6 95.1h0M125.5 100.4h0M128.8 98.4h0M125.1 100.9h0M125.4 100.2h0M131 96.3h0M129.2 90.3h0M137 97h0M135 96.3h0M153.4 79h0M127.8 98.6h0M156.4 82.7h0M127.7 99.3h0M133.8 91.7h0M125.2 100.1h0M137.6 93.2h0M134.8 91.7h0M125.6 100.1h0M127.2 100.5h0M127 99.8h0M126.2 100.3h0M133.4 99.5h0M125.9 99.2h0M139.5 97.2h0M126.7 100.6h0M127.9 98.2h0M128.5 93.7h0M128.8 97.1h0M144.5 97.6h0M141.3 89.1h0M131.3 99.2h0M126.3 99.6h0M155.7 93.7h0M135.3 89.9h0M129.7 95.2h0M136.1 96.9h0M135 92.6h0M128.9 100.2h0M140.9 96.4h0M127.9 98.4h0M128.7 93.4h0M130 98.2h0M125.7 100.9h0M161.9 94.1h0M127.9 92.4h0M127.2 92.4h0M125.7 99.9h0M133.4 94.1h0M134.7 93.6h0M135.3 94.4h0M132.1 98h0M131.7 95.6h0M128.1 100.3h0M126.1 99.2h0M134.4 89h0M142.7 65.5h0M129.7 97.6h0M125.1 100.7h0M127.7 98.6h0M135.1 89.7h0M127.8 93.4h0M125.5 100.2h0M142.3 75.8h0M129.7 94.9h0M129.3 96.7h0M127.4 100.1h0M128.5 93.4h0M135.8 98.9h0M129.6 89.8h0M157.6 88.5h0M132.6 98.1h0M126.6 99.6h0M127.1 99.9h0M125.5 100.8h0M132.3 90.7h0M156.3 85.7h0M130.5 96.6h0M128.2 89.4h0M136.8 90.5h0M127 97.3h0M139.8 97.6h0M130 91.7h0M140 96.6h0M142.2 94.5h0M132 91.7h0M130.1 99.8h0M125.7 99.8h0M131 99.9h0M129 90.3h0M125.9 100.6h0M132.9 81.3h0M126.4 98.7h0M125.1 100.9h0M129.2 99.5h0M125.1 100.6h0M139.3 95.9h0M126.6 97.8h0M146.5 95.8h0M130.8 74.1h0M125.7 100.2h0M130.8 90.4h0M131.2 85.8h0M156 70.9h0M130.1 96.5h0M135.5 86.6h0M145.8 76h0M148.1 88.9h0M126.6 96.4h0M135.4 99.2h0M147.4 71.6h0M134.9 90h0M126 99.1h0M128.7 95.5h0M128.4 99.5h0M137.6 92.4h0M128 97.7h0M142.4 97.3h0M134.7 82.6h0M125.3 100.3h0M131.3 97.6h0M142.4 91.2h0M125.2 100.9h0M125.5 100.6h0M135.6 99.1h0M130.6 94h0M134.2 98.9h0M127.9 98h0M126.8 100.2h0M128.9 97.4h0M133.3 91.1h0M134.5 96h0M139.1 94h0M134.6 97h0M134 84.8h0M144.3 80.8h0M128.4 83.2h0M128 99h0M125.9 99.7h0M126.1 100.6h0M128.2 96.4h0M130.1 82.8h0M128.3 97.5h0M125.5 100.7h0M147.7 94.5h0M125.1 101h0M126.1 95.6h0M128.1 94.8h0M125.2 100.1h0M133.9 93h0M153.3 96.1h0M136 94h0M125.9 100.8h0M142.3 96.6h0M132 73.4h0M125.8 100.2h0M128.6 93.7h0M130 90.6h0M126.4 99.4h0M125.9 100.7h0M128 98.5h0M125.1 100.4h0M125.7 99.7h0M153.4 93.2h0M134.5 96.8h0M128.8 96.5h0M126.5 100h0M127.8 96.5h0M137.3 85.7h0M131.2 99.5h0M150.8 84h0M126.5 99h0M125.1 100.9h0M125.6 100.4h0M132.8 98.5h0M126.9 99h0M127.8 97.7h0M125.3 100.5h0M127.5 94.6h0M128.7 99.6h0M125.7 100.1h0M125.8 98.2h0M125.7 100.5h0M153.3 76.5h0M127.1 100.2h0M133 92.4h0M127.7 100.1h0M127 98.5h0M138.4 98.6h0M131.3 83.2h0M126 98.4h0M134.1 95.7h0M131.9 92h0M127.1 98.7h0M125.9 100.6h0M134.8 98.9h0M148.3 95.1h0M125.4 99.2h0M127.4 90h0M130.5 100.2h0M128.5 98.6h0M128.1 100.3h0M131.8 99.9h0M127.2 98.9h0M131.6 76.9h0M138.4 88.1h0M138.4 92.1h0M127.2 96.5h0M127.4 96.6h0M130.9 98.8h0M139 96.9h0M132.1 97.5h0M129.2 91.4h0M129.2 86.7h0M133.3 87.9h0M140.4 76.6h0M132.9 91.4h0M130.9 94.5h0M126 97h0M132.4 98h0M137.4 93.7h0M125 101h0M135.2 96.7h0M135.5 93.2h0M126 100.1h0M147.3 65.7h0M135.7 98.2h0M131.7 92.4h0M130.8 95.3h0M129.4 77.8h0M139.9 88.8h0M135.5 85.4h0M125.2 100.2h0M127.8 99.8h0M136.6 73.7h0M132 97.9h0M129.5 87h0M141.5 81.2h0M125.3 99.9h0M125.9 97.1h0M134.9 88.3h0M128.7 99h0M130.2 83.7h0M125.2 99.9h0M134.3 88.6h0M128.4 86.5h0M126.1 100.4h0M128.2 99.8h0M127.9 97.6h0M126 100.7h0M135.5 84.7h0M132.9 98.6h0M126 96h0M138.2 87.1h0M148.4 97h0M131.8 87.3h0M131.5 96.8h0M125.2 100.3h0M136.4 98.2h0M125.4 99.2h0M131.6 98.4h0M129.1 92.4h0M125.3 100.5h0M134.4 97.1h0M125.5 100h0M129.2 99.9h0M128.7 98.1h0M125.8 100.7h0M145.5 72.3h0M142.1 77.7h0M135.5 97.8h0M142.8 88.8h0M131.9 92.5h0M135 66.6h0M131.3 99h0M134.2 98.7h0M137.6 95.4h0M125.1 101h0M125.5 99.5h0M132.5 97.1h0M141.6 97.4h0M125.7 99.8h0M126 99.7h0M125.8 100.2h0M131.1 97.7h0M133.3 92h0M126.2 96.5h0M127.3 99.5h0M127.5 96.4h0M127.3 100h0M141.3 88.1h0M139.9 88.7h0M132.5 94.3h0M130.4 98.3h0M125.5 100.1h0M127.5 98.8h0M129.2 98.7h0M134.1 97.3h0M128.1 100.4h0M127 100h0M130 88.6h0M125.5 99.4h0M129 99.4h0M139.7 86.5h0M133.4 80h0M125.3 100.9h0M130.4 97.6h0M129.9 100.3h0M147.7 94h0M129.1 99.3h0M145.3 93.4h0M131.4 99.2h0M128 99.7h0M127.6 86.8h0M127.4 96.6h0M132.8 63.2h0M126.8 98.6h0M133.9 99.2h0M141.7 85.4h0M128.4 81.8h0M125.3 100.6h0M158.7 86.7h0M131.5 86.9h0M125.2 100.8h0M126 97.1h0M129 93h0M131.3 95.1h0M130.7 81.1h0M142.7 87.9h0M129.6 99.3h0M125.5 100.7h0M125 101h0M129.2 81.9h0M125.5 100.5h0M140.2 93.3h0M126 100.4h0M132.7 94.8h0M130.2 99.4h0M135.5 89.3h0M139.3 93.9h0M152.6 94.3h0M126.5 99.4h0M134.8 78.3h0M148.5 93.7h0M126.1 96.1h0M131.2 87.7h0M128.7 96.8h0M141.8 91.1h0M139.5 70.9h0M134.5 98.8h0M126.5 98.6h0M150.4 96.7h0M131.2 88.1h0M130.6 97.5h0M125.5 100h0M132.1 88.8h0M151.4 77.8h0M139.7 81.1h0M130.6 98.7h0M131.9 97.1h0M131.2 79.9h0M128.1 86.1h0M125.5 100h0M131.1 96.3h0M150.7 93.8h0M127.6 99.2h0M133.6 98.9h0M153.8 82.8h0M128.8 95.8h0M125.5 100.8h0M130.8 91.8h0M130.9 95.4h0M146.6 84.4h0M128 100.4h0M126.8 97h0M130.5 97.6h0M139.3 93h0M134 98.6h0M127.5 96.8h0M127.5 96.6h0M125.8 100h0M133.1 96.1h0M129.4 95.4h0M133.8 99.3h0M126.2 97.6h0M135.3 96.6h0M126.1 100.5h0M136 98.4h0M130.4 84.9h0M140.2 82.6h0M126.3 97.6h0M159.1 76.7h0M127.9 89.6h0M127.9 97.1h0M129.4 99.8h0M135.4 96.2h0M131.5 91.6h0M125 101h0M126.1 100.5h0M148.2 85h0M138.8 88.7h0M129.7 99.2h0M126.7 97.4h0M130.2 91.8h0M125.2 100.7h0M128.1 98.8h0M126.8 90.9h0M129 94.5h0M128.4 96.5h0M128.5 99.2h0M137.4 95.4h0M126.4 100.6h0M130.5 89.6h0M126.3 98.7h0M125.1 100.9h0M125.3 100.7h0M126.4 100.6h0M131.2 97h0M125.8 100.6h0M158 91.1h0M130.4 73.3h0M127.5 100.2h0M125.1 100.8h0M136.4 97.1h0M131.5 71.9h0M126.6 96.9h0M140.5 73.3h0M137 62.2h0M133.1 85.2h0M128.3 95.6h0M144.9 77.9h0M125.2 100.8h0M143 85.8h0M128.9 94.5h0M129.1 85.3h0M137.7 95.3h0M125 100.9h0M126.6 94.7h0M125.1 100.9h0M128.6 98.9h0M136.3 96.1h0M130 90h0M125.4 99.7h0M130.2 98.2h0M131.5 87h0M129.4 77.7h0M135.7 89.8h0M128.3 93.2h0M137.1 82.5h0M125.7 99.2h0M138.9 98.5h0M126 98.8h0M130.8 85.8h0M126.8 100.3h0M131.4 91.8h0M150.9 91.8h0M143.9 92.8h0M125.4 99.6h0M129.8 93.2h0M126.9 94.5h0M127.4 99.1h0M126.6 96.9h0M125.1 100.6h0M125.1 100.8h0M142.2 71.2h0M133.8 95.7h0M125.6 100.5h0M127.9 93.7h0M125.2 100.6h0M127.8 100h0M125.1 100.8h0M130.4 100.1h0M142.5 88.4h0M126.1 98h0M127.4 96.5h0M130.6 89.9h0M132.1 99.4h0M130.5 96.6h0M134 91h0M131.7 95.9h0M130 88.9h0M126.6 100.4h0M155.8 84.9h0M144.7 86.7h0M128 87.5h0M137.9 92.1h0M150.1 76.6h0M133.4 92.9h0M131.2 91.4h0M134 97.6h0M135.2 92.8h0M126.2 98.6h0M127.8 99.1h0M126.7 93.4h0M154.3 76.1h0M134.8 80.7h0M126.1 99.9h0M125.8 100.4h0M130.5 96.9h0M157.5 71.2h0M126.4 99.5h0M137.2 96.3h0M129.3 96.7h0M129.4 96.8h0M130.7 92.4h0M132.7 99.4h0M134 96.6h0M137.4 90.1h0M128.4 85.8h0M130 94.5h0M139.5 96.8h0M130.1 98.9h0M127.3 98.3h0M128.1 92.5h0M125.1 100.7h0M128.4 98h0M132.8 91.9h0M145.5 76.1h0M129.1 97.6h0M129.4 92.8h0M151 87.5h0M125.8 100.6h0M144 80.8h0M131.8 82.7h0M130.1 94.5h0M126.8 100h0M140.8 87.8h0M155.7 67h0M128.7 92.8h0M129 96.2h0M130.9 81.3h0M149.9 91.5h0M127.8 96.7h0M128 95.5h0M129.3 94.2h0M142.4 77.6h0M127.3 93.8h0M136.7 92.5h0M125.6 100h0M127.7 98.4h0M126.2 99.3h0M127.9 99.4h0M133.5 96.5h0M129 89.9h0M134.6 87.6h0M130.2 97.2h0M126.5 98.8h0M138.6 75.2h0M125.2 100.3h0M125.8 98.2h0M135.5 97.7h0M126.9 99.8h0M130.5 94.1h0M130.7 95h0M135.5 87.3h0M132.1 88.8h0M127.8 94.2h0M125.8 99.9h0M131.7 99.3h0M126.7 98.4h0M125.9 97.2h0M130.3 96h0M125.4 99.1h0M135.4 95.9h0M129 98.3h0M152.3 92.4h0M132.6 94.6h0M153.5 87.3h0M138.2 97.3h0M133.5 99.1h0M154.6 82.9h0M141.2 87.6h0M128 100.5h0M126 95.8h0M128.4 100.4h0M132.1 96.2h0M128.4 98.6h0M130.4 96.1h0M132.8 98h0M131.4 93.5h0M128.3 94.9h0M155.2 88h0M129 99.8h0M129.8 97.2h0M145.8 92.1h0M132.9 96.5h0M126 99.7h0M126.3 100h0M135.3 90h0M136.3 70.8h0M131.8 99h0M128 96.5h0M126.9 93.4h0M125.3 100.2h0M109.3 103h0M116.4 95h0M118.3 93.8h0M108.6 102.3h0M112.1 98.8h0M120.2 94.4h0M116.3 97.2h0M114.2 97.9h0M110.6 99h0M110.1 98.9h0M109.9 97.7h0M114.3 93.2h0M113.5 101.6h0M114.3 102.5h0M109.8 101.2h0M115.1 87.7h0M113.8 102.3h0M113.5 98.9h0M113.3 98.2h0M109.6 96h0M104.9 107.2h0M113.7 99.7h0M116.3 100.8h0M113.5 92.5h0M109 105.6h0M115.5 101.5h0M109.5 96.9h0M114.9 95.7h0M118.6 95.7h0M112.1 94.1h0M115.2 104h0M114.7 98.8h0M112.3 102h0M113.8 105.9h0M112.7 97.3h0M111.7 91.1h0M114.7 99.3h0M107.4 94.1h0M109.5 97.5h0M109.7 101.9h0M118.6 96.2h0M113.9 94.5h0M119.1 94.4h0M110.6 98.8h0M110.5 109.6h0M113 97.8h0M109.8 98.5h0M111.3 97.1h0M117.8 96.4h0M115.5 96.3h0M117.8 95.7h0M109.9 97.8h0M118.8 97.2h0M110.3 98.2h0M110.9 99.8h0M111.1 100.1h0M117.4 100.8h0M119.8 100h0M121.2 103.9h0M112.7 101.9h0" stroke="#111" stroke-opacity="0.62" stroke-width="0.6" stroke-linecap="round" fill="none"/>
<path d="M136.7 103.6C136.7 104.2 136.3 104.8 135.5 105.3C134.8 105.9 133.5 106.4 132.2 106.7C130.8 107.1 129.1 107.4 127.4 107.5C125.7 107.6 123.7 107.6 122 107.5C120.3 107.4 118.6 107.1 117.2 106.7C115.9 106.4 114.6 105.9 113.9 105.3C113.1 104.8 112.7 104.2 112.7 103.6C112.7 103 113.1 102.4 113.9 101.9C114.6 101.3 115.9 100.8 117.2 100.5C118.6 100.1 120.3 99.8 122 99.7C123.7 99.6 125.7 99.6 127.4 99.7C129.1 99.8 130.8 100.1 132.2 100.5C133.5 100.8 134.8 101.3 135.5 101.9C136.3 102.4 136.7 103 136.7 103.6Z" fill="#fff" stroke="#000" stroke-width="1.25"/>
<path d="M132 103.6C132 104.1 131.5 104.7 130.7 105.1C130 105.5 128.7 105.9 127.3 106.2C125.9 106.4 124.2 106.6 122.6 106.6C121 106.6 119.3 106.4 117.9 106.2C116.5 105.9 115.2 105.5 114.5 105.1C113.7 104.7 113.2 104.1 113.2 103.6C113.2 103.1 113.7 102.5 114.5 102.1C115.2 101.7 116.5 101.3 117.9 101C119.3 100.8 121 100.6 122.6 100.6C124.2 100.6 125.9 100.8 127.3 101C128.7 101.3 130 101.7 130.7 102.1C131.5 102.5 132 103.1 132 103.6Z" fill="none" stroke="#555" stroke-width="0.5"/>
<path d="M127.8 103.7C127.8 104.1 127.4 104.5 126.9 104.8C126.3 105.1 125.3 105.4 124.3 105.6C123.3 105.8 122 105.9 120.8 105.9C119.6 105.9 118.3 105.8 117.3 105.6C116.3 105.4 115.3 105.1 114.7 104.8C114.2 104.5 113.8 104.1 113.8 103.7C113.8 103.3 114.2 102.9 114.7 102.6C115.3 102.3 116.3 102 117.3 101.8C118.3 101.6 119.6 101.5 120.8 101.5C122 101.5 123.3 101.6 124.3 101.8C125.3 102 126.3 102.3 126.9 102.6C127.4 102.9 127.8 103.3 127.8 103.7Z" fill="none" stroke="#777" stroke-width="0.5"/>
<path d="M124.1 103.8C124.1 104 123.9 104.3 123.5 104.5C123.1 104.6 122.5 104.8 121.8 104.9C121.1 105 120.3 105.1 119.5 105.1C118.7 105.1 117.9 105 117.2 104.9C116.5 104.8 115.9 104.6 115.5 104.5C115.1 104.3 114.9 104 114.9 103.8C114.9 103.6 115.1 103.3 115.5 103.1C115.9 103 116.5 102.8 117.2 102.7C117.9 102.6 118.7 102.5 119.5 102.5C120.3 102.5 121.1 102.6 121.8 102.7C122.5 102.8 123.1 103 123.5 103.1C123.9 103.3 124.1 103.6 124.1 103.8Z" fill="none" stroke="#888" stroke-width="0.45"/>
<path d="M207.6 89.4h0M202.6 92.7h0M219.4 54.3h0M208.4 82.3h0M204 82.9h0M199 93.3h0M201.4 100.7h0M206.8 97h0M205.7 75.4h0M207.3 85.6h0M209.5 65.1h0M205.5 96h0M205.5 71.2h0M207.3 87.6h0M212.4 83.6h0M199.9 99.1h0M208.8 91.3h0M204.2 94.3h0M194.2 86.3h0M208.3 94.6h0M208.1 84.6h0M204.3 83.8h0M210.9 68.2h0M206.6 95.5h0M196.5 77.9h0M200 90.7h0M208 79.5h0M209.2 78.7h0M196.8 100.8h0M205.1 81.3h0M196.6 75.7h0M199.6 96.2h0M200.4 80.7h0M201.1 93.9h0M208.2 92h0M200.6 100.9h0M213.4 81.7h0M210.6 93.1h0M207.2 78.1h0M207.9 86.2h0M208.8 101.6h0M205.4 84.2h0M211.6 80.5h0M198.7 94.2h0M210.4 69.8h0M214.1 91.9h0M199.3 93.1h0M207.2 88.3h0M206.6 89.8h0M201.1 88h0M204.7 89.7h0M215.4 83.3h0M199.7 93.7h0M215.2 91.8h0M214.1 78.8h0M209.1 83.9h0M199.3 91.8h0M203.1 78.9h0M204.4 84h0M203.9 92.5h0M199.6 91.7h0M207.1 86.4h0M206.6 85.4h0M196.9 78.7h0M202.1 86h0M200.3 84.9h0M203.1 100.3h0M204.6 92.4h0M208.7 84.2h0M210.3 77.5h0M204.2 78.5h0M204.5 93h0M200.5 89.7h0M203.8 86.9h0M203 90h0M198.7 92.9h0M213.9 70.3h0M209.4 77.2h0M202.2 101.7h0M208.7 87.4h0M213.8 83h0M204.6 70.1h0M208.9 94.9h0M202.9 79.5h0M196.2 98.4h0M192.6 100.1h0M209.4 78.9h0M199.7 89h0M213.3 70.4h0M201 93.6h0M201.8 98.4h0M201.3 80.8h0M197.3 91.5h0M210.9 81h0M202.1 77.9h0M206.5 80h0M217.3 66.6h0M198 83.3h0M206.1 89.3h0M206.3 93.4h0M208.8 78.5h0M214 72.5h0M206.2 85.4h0M211.1 80.4h0M206.9 70.4h0M204.7 87.4h0M213.1 66.5h0M198.8 97.7h0M217.3 76.2h0M194 83.3h0M203.2 81.5h0M207.7 91.3h0M209.2 75.6h0M201.4 88h0M207.3 88.1h0M203 95.3h0M208.9 80.5h0M206.2 96.5h0M208.5 80.9h0M203.4 94.5h0M207.1 85.3h0M201.3 87.6h0M206 97.9h0M198.3 93h0M200.2 80.6h0M217.1 66.1h0M211.5 87.7h0M207.6 84.2h0M204.9 89.8h0M207.2 88.3h0M208.5 71.3h0M198.4 91.8h0M204.9 76.6h0M210.1 85.1h0M206.7 92.1h0M208.4 82.3h0M202 97.1h0M202.6 83.1h0M200.2 95.5h0M206.5 83.7h0M210.1 75.6h0M209.5 78.4h0M204.3 85.3h0M206.3 95h0M202 96.2h0M211.6 79.1h0M201.7 80.9h0M204.8 106.9h0M204.2 87.8h0M200.2 93.6h0M206.5 91.9h0M216.1 83.5h0M200.8 89h0M198.4 89.2h0M197.7 100.8h0M193.7 100.6h0M205.8 74.4h0M209.2 91.6h0M214.4 75.8h0M209.1 83.9h0M212.7 79.2h0M211 73.5h0M201.6 81.4h0M204.2 77.9h0M205.9 81.2h0M197.8 94.3h0M211.1 84.4h0M206.9 82.7h0M204.2 75.5h0M215.4 64.8h0M200.4 82.8h0M199.5 92.2h0M201.2 85.6h0M207 75.7h0M199.3 94.6h0M202.5 75.2h0M208.2 72.8h0M205 86.2h0M206.6 86.6h0M202.9 87.7h0M196.4 95.7h0M195.2 100.1h0M201.2 95.7h0M204.7 90h0M202.6 86.4h0M207.6 88.4h0M203 68.3h0M205.8 90.4h0M211.7 78.2h0M210.7 55.3h0M202.9 83.4h0M215.9 74.5h0M218.6 74.1h0M202.7 83.9h0M200.7 90.9h0M205.8 78.2h0M214.4 85.2h0M203.4 91.2h0M204.1 83.2h0M200.5 85.3h0M214.4 89.8h0M204.4 84.3h0M211 74.5h0M208.9 71.5h0M207.2 89.5h0M209.4 93.4h0M211.4 77.2h0M197.8 75.7h0M199.4 90h0M202.1 109h0M207.4 87h0M205.7 84h0M207 92.4h0M205.4 92.6h0M212.6 80.8h0M208.8 85.2h0M211.4 86.7h0M206.3 93.6h0M211.6 82h0M198.8 104.6h0M206.5 90.2h0M206.3 83h0M199 91.9h0M204.2 90.9h0M203.7 87.2h0M209.3 82.5h0M202.1 92.4h0M203.7 80.1h0M199.6 84.8h0M202.1 72.7h0M197.6 88.6h0M203.1 86.8h0M208.2 75.6h0M213.3 81.4h0M192.4 97.2h0M199.9 94.6h0M214.5 67.6h0M205.7 77.7h0M197.3 97.8h0M209.6 77.1h0M203 79.1h0M201.6 87.5h0M204.2 92.1h0M206.2 84.8h0M205.7 90.1h0M208.1 73.5h0M204.1 89.9h0M201 79.2h0M199.8 81.9h0M204 85.9h0M207.9 69.6h0M207.5 89.8h0M219.2 71.3h0M209.1 69.9h0M210.8 92.8h0M206.5 80.4h0M213.1 71.9h0M214.6 69.7h0M207.6 86h0M206.1 80.9h0M199.7 101h0M207.5 77.4h0M198.2 97.9h0M212.3 79.2h0M202.8 92.3h0M207.7 92.5h0M204.3 81.7h0M204.7 76.6h0M199.3 87.3h0M204.2 87.3h0M197.6 90.2h0M215.6 64.1h0M203.2 84.3h0M208.4 77.3h0M217.2 71.2h0M206.4 86h0M212.4 82.6h0M197.7 93h0M201.8 97.3h0M207.9 86.1h0M204.6 81.3h0M210.7 87.6h0M217.1 73.4h0M211.1 73h0M208 83.5h0M199.4 86.7h0M205.7 83.9h0M203.6 85.3h0M205.1 82.9h0M196.1 95h0M214.2 76.5h0M205.9 79.4h0M200.8 83h0M198 92.6h0M200.2 92.6h0M205.6 75.2h0M216.7 72.9h0M205.8 82h0M198.9 91.3h0M207.8 68.4h0M205.2 86.8h0M214.7 63.1h0M201.3 97.5h0M201.2 94.1h0M199.8 82.4h0M209 78.4h0M199.3 91.4h0M211.3 79.6h0M216.9 66.1h0M213.8 80.3h0M209.7 87.2h0M203.6 85.2h0M198 87.2h0M201.3 96.6h0M202.6 90.6h0M204.6 103.2h0M200.8 83.1h0M208.4 70.3h0M205.2 78.6h0M200.6 88.4h0M215.9 82.6h0M209.4 85.4h0M207.7 78.7h0M205.9 84.4h0M208.3 89.3h0M198.9 82h0M212.7 71.2h0M211.3 100.5h0M210.6 83.3h0M204.3 87.9h0M209.8 103.3h0M209.7 80.6h0M213.5 78.3h0M211.9 81.8h0M206.2 90.4h0M204.3 81.9h0M204.7 86.9h0M203.1 93.2h0M206.8 86.5h0M203.2 89.2h0M208.7 80.5h0M203.7 89h0M206.3 80.6h0M209.4 85.2h0M214.9 68.8h0M198.3 94h0M215.1 83.8h0M205.1 80.6h0M206.6 81h0M200.8 90.4h0M201.4 87h0M201.2 88h0M207.5 84.1h0M206.4 77.3h0M197.4 92h0M204.9 90.7h0M197.7 99h0M204.3 78.8h0M201.9 85.4h0M212 76.4h0M206.7 78.1h0M197.8 87.2h0M196.4 91.3h0M203.7 99.5h0M202.4 96.1h0M208.3 88.7h0M206 84h0M207.5 92h0M200.7 80.9h0M201.8 78.5h0M202.6 85.7h0M200.9 88.1h0M211.2 80.7h0M210.8 79.6h0M205.5 75.7h0M211.4 82.3h0M212.6 78.5h0M201.7 103.7h0M199.1 76.9h0M209 74.8h0M198.7 93.4h0M200.7 102.5h0M215.9 91.6h0M202 95.1h0M201.5 85.3h0M203.6 85.7h0M206.7 82h0M212.2 69.5h0M207 72.7h0M207.6 92.1h0M213 83.3h0M205.8 80.5h0M202.9 89h0M201 80h0M211.7 83.6h0M207.4 80.8h0M208.5 79.8h0M207.2 84.4h0M205.1 81.2h0M208.5 77h0M213.3 85h0M203.7 90.5h0M209.4 82.2h0M199.1 93.3h0M203.1 86.2h0M215.9 76.5h0M197.6 97.8h0M210.5 75.2h0M204.8 81.2h0M206.5 92.9h0M218.8 71.9h0M205.8 95.2h0M203.8 93.6h0M200.7 95.2h0M213.6 85.3h0M213.4 85.3h0M205.2 91h0M209.7 83.5h0M209.7 79.9h0M200.8 100h0M206.1 96.9h0M215 74.1h0M213.8 81.2h0M207.3 71.7h0M202.8 86.4h0M202 80.4h0M196.2 95h0M207.1 90.4h0M197.5 81.6h0M215.8 75.4h0M204.6 93.8h0M199.3 89.9h0M209.4 85.3h0M209.6 79h0M213 68.6h0M193.5 95h0M205.7 85.2h0M194.1 86.3h0M203.2 93.9h0M211.2 92.4h0M198.6 88.1h0M195.9 85.5h0M198.5 90.9h0M200.6 92.1h0M212.4 77.4h0M202.7 88.1h0M204 85.3h0M201.5 90h0M202.1 91.7h0M205.9 92.7h0M207.9 87.1h0M204.5 83.2h0M208 77.3h0M207.1 96h0M201.4 94h0M208.3 83.1h0M210.6 77.8h0M198.6 95.5h0M207.5 85.9h0M209.8 74.1h0M200.7 102.7h0M203.6 94.8h0M207.2 70.5h0M202.2 108.3h0M206 90.5h0M198.3 91.2h0M199.3 89.1h0M205.7 80h0M197.8 96.7h0M208.1 79.8h0M201.4 95.5h0M204.3 95.1h0M208.5 80.9h0M210.3 68.2h0M200.2 90.8h0M209.8 87.7h0M207.9 77.7h0M204.7 99.6h0M208.7 90.3h0M205.6 77h0M203.1 96.9h0M201 98.6h0M207.7 71.4h0M205.4 82h0M204 97.3h0M197.8 81.2h0M203.3 88.5h0M206.5 85.7h0M200.5 88.5h0M216.1 79.7h0M209.4 84.6h0M206.2 74.3h0M207.6 101.5h0M195.9 98.5h0M198.4 96.8h0M206.7 83.8h0M198.7 87.8h0M211.9 77.8h0M204.8 90.1h0M202.1 87.2h0M197.2 107.4h0M206.4 89.1h0M202 81.3h0M208.9 79.1h0M205.3 78.4h0M216.6 75h0M206.7 90.9h0M199.2 92.5h0M198.3 86.1h0M209.5 90.3h0M207.4 77.3h0M204.5 91.8h0M202.9 85.6h0M206.1 90.9h0M201.8 78.1h0M202.2 87.5h0M203.9 89h0M210.8 80.6h0M207.1 79.6h0M204.5 90.3h0M199 98.4h0M200.6 87.9h0M207.9 87.5h0M205.4 81.2h0M214.9 76.4h0M205.2 86.3h0M205.7 83.5h0M202 81.3h0M199.2 96.2h0M213.6 79.6h0M205.8 83.6h0M203 101.1h0M206 88.9h0M210.3 61h0M208.4 82.6h0M205.5 86.3h0M208.4 87.2h0M213.5 75.4h0M207.2 90.5h0M202.1 87.4h0M208.2 84.8h0M204.6 88.3h0M218.8 70.5h0M199.5 92.2h0M195.7 89.9h0M195.1 103.4h0M209 80.8h0M193.5 87.9h0M197.2 92.9h0M209.3 86.2h0M203 83.8h0M210.1 80.1h0M196.8 88.4h0M201.9 99h0M204 74.7h0M203 93.6h0M200.1 86.6h0M198.4 93.5h0M205.2 81.9h0M205.6 89h0M201.5 88.6h0M208.2 81.1h0M196.6 97.5h0M204.6 89.2h0M206 96.2h0M197.7 106.5h0M207.5 88.8h0M200.3 90.4h0M204.3 89.8h0M196.4 93.4h0M194.8 110.1h0M201.4 84.5h0M202.2 92.8h0M209.9 86.1h0M195.9 91.4h0M206.1 85.8h0M209.1 78.6h0M203.3 73.2h0M204.4 90.9h0M205.8 79.3h0M204.8 86.2h0M200.1 86.6h0M205.9 89.7h0M215 70.3h0M203.3 93.3h0M202.5 93.8h0M195.2 106.9h0M209.9 82.3h0M198.2 89.2h0M200.8 99.6h0M202.3 90.2h0M208 80.7h0M201.6 73.4h0M209.2 92.6h0M205.8 78.8h0M207.5 81.8h0M190.7 96.6h0M194.5 93.1h0M198.9 97.5h0M196.9 94.3h0M204.2 75.5h0M205.2 80.9h0M199.7 80.4h0M204.9 81.6h0M204.2 86.4h0M212.4 77.5h0M205.2 95.5h0M202.5 96.7h0M207.3 70.2h0M212.6 78h0M198.9 89.4h0M205.8 86.8h0M215.8 64h0M206.6 80.5h0M202.6 84.8h0M201 100.9h0M205.7 84.9h0M206.5 73.7h0M204.1 83h0M199.9 100h0M205.9 89.3h0M201.9 89.4h0M204.8 90.4h0M205.6 88.7h0M201 93h0M207.1 87.6h0M203.4 89h0M204.5 88.5h0M204.8 82.5h0M202.2 89.2h0M199.2 73.7h0M204.4 83.7h0M206.1 89.1h0M206.6 82.6h0M205.7 73.2h0M207.8 77.1h0M200.8 93h0M201.6 82.4h0M203.5 80.1h0M208.9 74.5h0M204.3 94h0M206.3 100.6h0M210 83.6h0M198.6 95.9h0M211.2 86.8h0M207.8 87.7h0M204.2 89.3h0M206.8 84.3h0M211.5 74h0M211.3 76.3h0M199.6 88.6h0M200.6 88.1h0M208.1 91.7h0M208.9 63.7h0M210.9 75.4h0M206.9 93h0M210.4 93.2h0M205.2 79h0M200.2 103.7h0M203.1 88.8h0M202.3 81.9h0M212.6 88.6h0M205.8 89.7h0M201.1 88.5h0M202.2 95.3h0M211.3 76.3h0M196.1 99.6h0M215.4 69.6h0M214.3 79.7h0M206.3 73.8h0M203.9 76.7h0M208.2 98.9h0M206.1 80h0M201.7 88h0M205.7 95.3h0M205.4 86.3h0M199.7 84.2h0M206 84.2h0M204 90.2h0M213.1 72.2h0M208.4 89.5h0M202.3 79.3h0M198.6 92.7h0M205.5 88h0M208.4 90h0M211.7 91.5h0M204.8 87.3h0M200.3 81.9h0M204.8 78.5h0M211.7 74.5h0M213.5 73.3h0M204.2 94.2h0M207 93.9h0M200.6 95.1h0M202.8 91.2h0M197.9 86.2h0M203.4 90.5h0M199.5 84.4h0M195.7 90.4h0M213.2 74.3h0M195 85.2h0M199.2 87.9h0M206.2 90.9h0M202.3 92.6h0M204.5 90.9h0M210.3 86.8h0M196.4 98.8h0M203.1 71.5h0M207.1 82.3h0M198.5 78.2h0M207.5 85.7h0M208.2 83.7h0M215.1 72.1h0M205.3 86.2h0M213.1 87.5h0M202 97h0M201.5 94.8h0M196.8 80.7h0M210 84.4h0M202.9 75.7h0M202.1 84.5h0M208.7 83.5h0M194.7 89.7h0M199 86.3h0M198.6 99.7h0M210.8 79.3h0M201 82.7h0M204.7 101.7h0M209.8 85h0M211 76.3h0M202.3 91.6h0M199 99.9h0M202 79.7h0M209.7 79.6h0M203.4 97.1h0M212.4 74.6h0M211.1 70.1h0M212.3 80.8h0M205.2 96.5h0M207.2 71.5h0M206.8 90.7h0M210.4 92.3h0M203.1 79h0M196.9 89.8h0M201.9 90.1h0M213.6 74.8h0M198.3 92.3h0M206 90.1h0M212.2 83h0M206.6 79.5h0M206.9 91.4h0M203.2 99.3h0M205.1 91.4h0M196.5 101.6h0M204.4 83.1h0M206.1 86.8h0M201.3 80.3h0M207.1 89.1h0M206 83.3h0M203.9 73.8h0M202.4 83.2h0M204.2 70.7h0M198.2 88.6h0M195.4 85h0M212.6 77.5h0M202.3 88.7h0M199.6 91.5h0M202.4 80.9h0M205.2 90.6h0M205 76.8h0M205.4 81h0M202.6 89.4h0M207.2 89.8h0M203 105.2h0M209.9 86.8h0M214 86h0M213.2 87.1h0M203 93.9h0M211 86.4h0M211.9 84.4h0M200.9 88.5h0M200.2 81.3h0M215.5 82.8h0M211.6 71.1h0M209.2 79.2h0M208.8 88h0M211.8 74.6h0M211.7 87.5h0M207.1 76.8h0M198.7 80.1h0M196.9 99.1h0M196.7 88.1h0M206.7 81.2h0M207.6 92.4h0M202.5 93.1h0M210.6 81h0M210.3 81.1h0M206.1 91.7h0M204 85.9h0M208.1 90.8h0M199.7 99h0M206.3 86.7h0M212.4 73.2h0M200.6 82.4h0M206 88.8h0M197.6 96.3h0M199 93.3h0M216.1 84.3h0M205.3 92.7h0M209.3 66h0M201.2 95.2h0M208.2 76.2h0M207.7 87h0M204.8 86.7h0M215.2 82.7h0M209.9 70.1h0M203.4 93.6h0M206.6 83.7h0M200.5 92.8h0M204.7 75.5h0M218.5 73.1h0M195.9 84.3h0M202.1 85.8h0M200.9 89.4h0M212.9 72h0M211 86.7h0M199.5 81.4h0M209.2 89.7h0M209.2 86.9h0M201.9 93.9h0M199.8 95.4h0M209.9 87.2h0M212.2 84.5h0M210.8 82.6h0M214.1 78.1h0M213 74.6h0M199.4 93.2h0M205.1 83.1h0M201.3 95.7h0M207.7 90.5h0M203.3 90.6h0M200.3 86.2h0M209.5 88.2h0M206 94.2h0M201.5 99.4h0M204.7 86h0M200.5 100.3h0M200.4 100.6h0M212.7 66.8h0M205.1 78.5h0M202.8 88.3h0M203.9 92.3h0M207.7 71.7h0M199 82.6h0M198.3 96.4h0M204.5 87.4h0M194.5 93.4h0M193.8 96.3h0M202 92.3h0M208 89.7h0M204.1 90h0M200.1 106.7h0M206 77.8h0M205.6 93.8h0M201.4 97.8h0M203.6 97h0M205.4 79.9h0M206.2 94h0M195.4 88.2h0M207.2 76.7h0M195.9 94.7h0M202.7 86.5h0M203.1 90.1h0M200.6 79.1h0M203.9 85.2h0M204.2 87.5h0M201.5 78.3h0M207.5 94.5h0M207.8 84.7h0M208.3 80.9h0M197.8 79.2h0M205.6 77.7h0M200.3 93.4h0M210.1 91.7h0M196.2 92.4h0M201.2 90.1h0M204.9 89.7h0M203.8 78.8h0M194.3 108.4h0M201.8 93.9h0M205.7 91h0M205.1 94.4h0M199.9 94.5h0M207.5 78.1h0M200.1 85.1h0M211.6 76.9h0M209.5 79.2h0M206.2 89.4h0M206.1 81.9h0M202.5 101.6h0M205.5 96.4h0M189.6 98.9h0M208.9 92.8h0M195 98.1h0M191.1 97.2h0M200.7 95.1h0M192.9 97.9h0M183.8 99h0M202.7 98.2h0M179.2 99.2h0M208.2 92.1h0M187.2 99h0M188.7 96h0M188.2 98.5h0M196.2 97.5h0M182.3 95.1h0M200.3 95.7h0M194.9 97.8h0M205.7 97.7h0M189.6 99.7h0M198.2 99.8h0M201.1 101.4h0M212.1 94.6h0M186.7 99.7h0M188.1 98h0M202.4 94.1h0M178.4 98.4h0M185.9 94.5h0M199 97.5h0M196.2 99.4h0M192.7 102.4h0M196 99h0M188.2 99.2h0M191.6 94.7h0M196.1 94.5h0M201.8 91.7h0M178.6 103h0M199.1 95.3h0M178.6 98.1h0M196.1 101.5h0M189.1 102.1h0M180.2 103.5h0M199.6 94.4h0M205.1 95.3h0M187.9 97.2h0M201.2 94.5h0M188.4 97.7h0M192.8 94.2h0M205.5 99.5h0M193.2 98.4h0M192.6 94.8h0M196.9 94.1h0M182 97.8h0M197.4 95.4h0M201 97.6h0M202.1 99.1h0M189.9 99.6h0M199.5 97h0M189.9 99.2h0M195.6 98.6h0M193.3 95.9h0M182.4 98.9h0M208.7 95h0M194.3 95.1h0M196.9 96.8h0M195.6 96.2h0M185.7 96.4h0M189.2 95.6h0M185.5 99.3h0M194.2 95.9h0M192.9 100h0M184.5 100.3h0M177.6 103.8h0M198 101.6h0M208.6 94.9h0M199.3 97.3h0M178.4 102.2h0M200.4 98h0M196.3 93.9h0M188.8 88.9h0M196 94.9h0M189.4 100.5h0M194 90.2h0M202 92.1h0M184.3 96.3h0M203.9 92.1h0M196.7 98.1h0M176.8 103.5h0M188.2 102.1h0M190.5 101.3h0M210.7 88.8h0M184.3 97.3h0M201.7 99.8h0M195 98h0M200.3 93.6h0M188.9 98.3h0M204.8 93.4h0M199.2 94.3h0M184.5 99h0M195.3 97h0M187.8 96.8h0M201.4 92.3h0M188.9 95.1h0M194.6 100.1h0M190.9 95.9h0M191 97.7h0M190 95.4h0M196.5 100.3h0M195.7 95.1h0M204.6 95.3h0M197.3 96.1h0M197.5 93.3h0M193.6 96.7h0M192.1 97.8h0M216.5 90.7h0M191.5 94.3h0M194.6 95.6h0M201.9 95.4h0M192.9 97.4h0M210 96.9h0M197.2 99.1h0M192 93.5h0M182.5 100.3h0M196.7 95.1h0M186.1 100.5h0M190.3 94.7h0M199.9 96.3h0M184 102.6h0M189.3 96.5h0M187.9 97.2h0M206.1 94.1h0M199.8 94.3h0M203.6 98.5h0M200.6 100.1h0M195.8 91.9h0M183.7 97.3h0M200.4 96.2h0M196.1 97.2h0M191.2 97.3h0M189.3 97.9h0M199.4 100.1h0M205.3 94.7h0M190.2 96.7h0M179 101.9h0M201 96.8h0M194.3 98.7h0M201.6 98.9h0M181.7 105.1h0M188.5 101.4h0M185 101.7h0M215.4 95.8h0M194.2 100.9h0M193.3 97.5h0M190 97.4h0M195.1 95.2h0M203.5 96.3h0M184.2 96.9h0M193.4 96.3h0M206 92.4h0M194 96.7h0M192.6 98.8h0M198.7 94.9h0M189.6 98.8h0M193.5 95.9h0M180.9 100.2h0M190.3 99h0M188.8 97.8h0M191.9 93h0M194.2 97.7h0M193.2 97.4h0M205.6 90.1h0M185.9 96.8h0M187.6 96.9h0M183.3 98h0M197.9 94.7h0M199.2 98.2h0M200.6 96.5h0M178.3 99.4h0M173.9 96.7h0M199.1 89.3h0M199.3 94.6h0M199.3 99.5h0M193.4 94.6h0M198.9 93h0M194.2 96.8h0M202.8 91.3h0M195.6 101.3h0M192.7 101.9h0M201.5 91.7h0M198.4 97.1h0M188.4 97.5h0M179.2 103.8h0M198.1 95.5h0M200.9 99.5h0M193 97h0M198.9 95.8h0M208.3 97.1h0M195.7 95.7h0M177 97.3h0M211.5 93.8h0M204 90.4h0M183.9 101h0M203.1 91.9h0M181.5 96.5h0M194.9 91.4h0M207.5 91.9h0M196.9 98.5h0M193.3 97.1h0M190.6 102.4h0M203.2 95h0M190.1 97.6h0M175.9 98.9h0M189.8 101h0M197.6 93.9h0M182.5 100.6h0M197.2 98.4h0M194.3 97.8h0M194.6 101.5h0M193.9 94.5h0M201.2 97.6h0M191.5 100.8h0M198.7 94.4h0M187 102.2h0M201.6 92.7h0M184.7 103.4h0M216 96h0M193.5 96.2h0M200.9 99.6h0M197.3 96h0M182.4 95.8h0M184.8 93.8h0M197.6 95.3h0M208.5 97.1h0M194.4 101.9h0M201.6 95h0M194.6 95.2h0M189.9 97.6h0M190.9 96.6h0M192.4 97.5h0M205 94.6h0M191 99h0M196 93.9h0M191.9 97.1h0M188.1 100.1h0M196.9 95.1h0M203.5 96.3h0M194.5 97.6h0M201.1 97.5h0M188.4 98.8h0M193.3 96.4h0M191.5 100.2h0M194.8 103.2h0M189.3 100.1h0M203.2 94.5h0M194.9 99.6h0M209.1 94.1h0M192.8 98.1h0M200 95h0M201.3 97h0M194.6 94.6h0M200.2 90.5h0M186.2 93.9h0M191.1 97h0M191.3 95.8h0M200.1 91.1h0M181.8 99.9h0M204 96.2h0M184.4 94.1h0M198.8 96.8h0M194.8 93.5h0M173.7 102.5h0M208.6 96.6h0M198.5 97.4h0M192.6 96.6h0M194.7 94.8h0M197.1 93.3h0M193.5 101.4h0M206.3 92.7h0M201.2 97.2h0M202 96.7h0M192 100.3h0M202.9 92.5h0M194.7 96.1h0M185.7 98.7h0M191.4 92.4h0M209.9 94.4h0M193 97.7h0M186.8 96.2h0M208 93.5h0M180.4 100.2h0M201.4 93.8h0M189.2 101.1h0M201.5 92.6h0M190.5 96.6h0M192.6 94h0M192.5 94.6h0M200 96.4h0M190.1 96.9h0M190.2 99.9h0M198.1 97.8h0M177.2 101.6h0M193.3 96h0M182.7 101.8h0M206.6 94.8h0M192.8 95.4h0M200.9 96h0M188.4 101.1h0M198.3 96.9h0M193.6 96.4h0M187.6 96.8h0M189.8 99.9h0M186.3 102h0M203 93.8h0M187.8 93.8h0M201 97.5h0M207.2 95.4h0M197.4 95.6h0M184.1 100.3h0M191.4 97.3h0M187.9 99.3h0M180.5 96.3h0M202.8 96.9h0M186.3 98.9h0M197.1 98.9h0M202.8 97.9h0M189.5 102.5h0M194.2 98.6h0M198.9 99.8h0M202.7 91.4h0M182.7 98.6h0M187.9 100.4h0M206.3 98h0M185.8 99.7h0M201.7 97.4h0M201.6 102.2h0M200.7 96.9h0M198.7 96.9h0M191 97.5h0M186.8 95.8h0M194.7 94.7h0M189.2 96.2h0M185 91.9h0M199.3 99.4h0M195.8 94.9h0M203.1 96.3h0M183 98.7h0M194.5 94.7h0M198.4 92.6h0M194.2 98.7h0M178.9 101h0M201 93.7h0M184.8 98.1h0M194 96.5h0M191.5 94.6h0M179.5 97.7h0M201.5 97.5h0M199.7 95.5h0M189.2 96.5h0M195.3 93.3h0M196.8 97.5h0M189 100h0M199.6 90.5h0M190.7 97.2h0M175.4 101.7h0M201.6 96.9h0M192.8 100.7h0M194.6 97.6h0M197.8 99.1h0M180.4 101.6h0M196.7 99.9h0M195.6 96.5h0M188.5 98h0M189.3 99h0M194.3 95.1h0M199.4 95.9h0M190.8 100.9h0M197.5 97.4h0M188 101.1h0M198.6 93.3h0M191.7 100.4h0M201.6 95.4h0M195.7 97.1h0M175.3 102h0M205.5 93.6h0M194.9 99.2h0M196 99.2h0M194.3 96.3h0M188.5 97.7h0M183.6 95.9h0M194.7 94.6h0M195.1 96.6h0M192.7 98.5h0M190.3 95.1h0M191.8 96.9h0M204.6 97.6h0M183.3 94.5h0M184.1 100.1h0M179.2 101.7h0M191.4 100.2h0M195.8 94.4h0M190.7 98h0M203.2 94.7h0M189.3 98.1h0M187.7 99.3h0M197 98.6h0M187 101h0M216.5 96.5h0M194.6 96.6h0M181.5 100.3h0M210.3 95.4h0M197 96.3h0M184.7 104.3h0M191.2 101.4h0M194.2 96.7h0M186.9 98.5h0M195.5 95.9h0M193.1 96.7h0M186.9 96.5h0M215.1 90.2h0M199.5 92.7h0M175.2 103.3h0M172.7 102.9h0M187.3 100.4h0M183.8 103.5h0M169.5 99.9h0M177.8 103.3h0M177.7 97.8h0M173.2 101.1h0M180.3 102.1h0M174.3 102.2h0M179.3 98.5h0M173.5 106.4h0M182.9 100.1h0M182.8 99.2h0M188.5 102.4h0M168.6 100h0M178.7 101.3h0M174 103.4h0M180.7 104.6h0M181 104.7h0M187.8 101.3h0M181.4 103.4h0M182.3 100.8h0M191.7 104h0M182.5 98h0M174.5 100.6h0M174.3 97.4h0M183.1 102.8h0M177.1 101h0M185.6 103.3h0M189.1 100.5h0M178.1 103.1h0M189.3 100.6h0M178.3 100.4h0M185.7 104h0M175 103.7h0M183.9 104.3h0M177.6 100.9h0M182.6 102.4h0M175.1 102.9h0M183.1 100.5h0M182.1 103.9h0M180.1 101.3h0M174.9 100.9h0M176.5 98.6h0M184.8 102.2h0M181.7 101.5h0M186.9 96.8h0M187.8 99.9h0M175.5 99.1h0M175.7 100.7h0M183.9 99h0M184 99.8h0M180 104.6h0M178.4 98.2h0M180.4 102h0M178.2 100h0M183.1 98.7h0M179.3 99h0M183.1 100h0M181.8 101h0M179.7 98.9h0M186.3 99.7h0M179.4 97.9h0M180.4 99h0M174.7 103.6h0M183.8 101.8h0M181 102.5h0M180 101.6h0M175.1 100.1h0M179.2 94.7h0M174 98.9h0M190.1 97.1h0M170.6 102.8h0M175 102.2h0M179.8 105.1h0M180 103.2h0M179.1 101.2h0M180.1 100.9h0M187.1 105h0M180.2 100.5h0M181 103.5h0M183.6 101.2h0M172.1 106.8h0M187.3 102.2h0M181.7 104.4h0M188.3 101.3h0M181.6 100.6h0M189.8 100.2h0M177.9 103.7h0M183.2 101.1h0M184.3 101.8h0M180 101.9h0M182.9 101.6h0M182.5 101.5h0M182.8 98.8h0M188.5 103.6h0M181.7 102.6h0M189.2 102.3h0M173.8 102.1h0M170.2 100.6h0M187.3 98.4h0M172.4 100.2h0M182.1 105.9h0M178.9 100.9h0M174.1 106.3h0M179.3 102.2h0M185.3 100.8h0M175.8 99.9h0M179.7 103.2h0M185.3 99.8h0M178.4 97.6h0M180.3 106.4h0M182.4 100.3h0M187.7 102.2h0M185.9 105.1h0M174 101.2h0M179 104.1h0M179.7 101.4h0M170.1 99.9h0M177.2 98.6h0M180.9 100.4h0M181.1 103.3h0M182.1 101.2h0M181.7 98.3h0M178.2 99.7h0M189.5 98h0M178.2 102.4h0M177.7 102.7h0M174.4 103.5h0M181.1 95.7h0M173 97.9h0M178.8 100.2h0M181.7 102.6h0M183 102.2h0M176 97.4h0M174 102h0M175.2 98.1h0M175.7 102h0M173.5 100.6h0M183.6 103.1h0M171.5 101h0M177.2 107.2h0M178.8 97.6h0M176.9 101h0M177.7 102.8h0M178.1 101.1h0M197 102.1h0M184.2 101.1h0M167.9 105.2h0M177.8 102.7h0M173 101.3h0M185.4 98.3h0M189.6 103.5h0M182 100.4h0M184.7 96h0M186.3 96.1h0M177.5 104.3h0M181.7 96.4h0M171.7 97.9h0M177.4 98.9h0M184.8 100.1h0M188.8 104.4h0M173.9 104.2h0M186.6 98.1h0M178.4 98.9h0M175 100.9h0M181.6 99h0M172 102.6h0M186.7 103.9h0M172.9 99.7h0M178.4 99.3h0M185.3 98.8h0M178.5 101.9h0M180.4 101.6h0M179.3 102.3h0M181.6 101.2h0M182.8 102.1h0M183.5 102.2h0M182.3 101.9h0M175.8 99.8h0M178.5 99.3h0M177.6 99.3h0M176.6 101.8h0M194.9 105.8h0M180 101.2h0M178.7 100.4h0M182.9 102.1h0M181.4 103.3h0M177.8 102.8h0M180.9 98.6h0M186.3 98.7h0M184 99.2h0M176.6 103.8h0M182 101h0M176.1 96.8h0M177.6 100.6h0M184.5 101h0M185 99.7h0M184.6 103.1h0M178.8 103.1h0M188.3 97.6h0M173.5 99.3h0M177.2 98.7h0M180.8 97.6h0M189 100.8h0M181 100.6h0M177.2 101.3h0M179.3 101.9h0M183.7 99h0M171.2 99.4h0M181.2 96h0M182.2 101.3h0M173.4 101.5h0M184.6 100.8h0M182.4 102.4h0M185.8 103.9h0M176.4 100.5h0M180.2 98.5h0M180.6 101.9h0M181.6 96.4h0M176.9 94.9h0M180.5 100.9h0M183.9 103.2h0M175.4 100.8h0M180.8 102.9h0M185.8 100.6h0M172.8 103h0M179 96.5h0M180.9 98.9h0M180.2 104h0M179.7 99h0M182.1 100.3h0M180.5 103.5h0M181.2 102.2h0M179.8 101.3h0M174.9 99.1h0M185.1 104.2h0M174.6 102.7h0M184.4 99h0M183.5 102.4h0M186 105.3h0M180.1 102h0M175.7 101.7h0M180.2 100.5h0M180.7 103.1h0M184.7 102.9h0M188.9 97.5h0M179.4 100.8h0M178.2 99.9h0M209.8 77.6h0M205 78.6h0M204.8 90.8h0M205.5 85.2h0M210.5 81.3h0M208.1 77.7h0M213.3 60.8h0M208.8 75.5h0M207.7 86.3h0M204.5 86h0M204.5 87.2h0M207.5 80.8h0M209.6 86.3h0M212.5 81.7h0M204.2 87.2h0M204.7 89.2h0M213.5 80.1h0M204.8 86.3h0M207.4 76h0M216.4 76.9h0M205.6 89.5h0M204.2 91.5h0M204.1 91.4h0M205.7 77.6h0M204 91.3h0M209 83h0M215.5 77.4h0M205.6 82.7h0M208.4 87.3h0M204.1 91.8h0M206.6 72.6h0M211.6 83.9h0M207.1 85.9h0M204.6 90.6h0M206.8 86.6h0M221.6 68.9h0M211.1 72.9h0M205.3 88.2h0M205.8 89.3h0M205.8 86.4h0M221.5 70.7h0M213.2 76.6h0M204.2 87.5h0M204.8 85.6h0M207.6 83h0M210.8 74.9h0M205.6 84.5h0M212.7 59.8h0M208 82.7h0M205.4 89.1h0M205.6 87.4h0M207.5 86.5h0M208.3 77.8h0M204.3 89.9h0M205.7 89.4h0M209 85.8h0M209.9 64.1h0M215.8 76.1h0M209.8 84.3h0M206.8 88.6h0M207.5 72.1h0M218.1 60.1h0M207.6 87.7h0M204.6 89.9h0M207.9 84h0M207.1 87.9h0M211 81.6h0M210.8 80.4h0M214.5 74.5h0M205.9 76.8h0M205.6 82.1h0M204.7 91h0M204.4 90.5h0M207.5 83.8h0M210.6 84.9h0M216.4 77.3h0M205.3 83.4h0M206.9 84.5h0M212.3 80.1h0M210 85.4h0M210.2 81h0M205.8 89.4h0M214.3 67h0M204.5 83.5h0M207.5 86.9h0M204.4 89.7h0M205.1 81.1h0M209.3 77h0M204.8 88.3h0M210.3 80.9h0M210.3 72.5h0M206 89.1h0M206.4 83.5h0M207.1 66.8h0M221.3 73.2h0M204.5 89h0M204.5 91.4h0M207.4 86h0M205.8 89.2h0M216.7 65.2h0M211.2 84.4h0M206.1 65.6h0M213.3 82.3h0M205.6 89.9h0M204 91.7h0M208.6 87.3h0M204.9 90.4h0M205 82h0M204 91.3h0M204.7 90.4h0M206 55.7h0M208.5 86.7h0M204.8 77.6h0M211 78.7h0M216.5 65h0M213 81.7h0M204 91.5h0M208.5 84.6h0M213.4 65h0M204.5 90.7h0M204.2 88.7h0M204.3 90.1h0M215.4 78.7h0M218 65.5h0M205.2 90.7h0M210.3 84.9h0M205.7 89.8h0M214.3 70.3h0M205.6 84h0M206.4 87.8h0M206 84.8h0M204.5 90.1h0M211.3 81.7h0M205.4 83h0M208.9 86.2h0M207.5 86h0M205.1 89.8h0M204.9 91.1h0M206.2 89.3h0M205.1 89.8h0M212.7 81.1h0M205.8 87.1h0M207.1 80.2h0M222.7 66.3h0M204.8 89.7h0M204.3 91.3h0M222.4 62.3h0M209.2 82.2h0M210.4 85.3h0M204.1 90.1h0M204.8 87.5h0M207.4 82.2h0M206 89.2h0M205.5 59.5h0M216.5 67.8h0M205.9 84.7h0M209.1 62.9h0M205.9 88.6h0M207 66.7h0M211 82.3h0M218.6 73.5h0M204.8 84.8h0M205 82.4h0M216.3 56h0M204.1 91.9h0M210.5 81.4h0M204.8 88.5h0M204 92h0M206.6 89.4h0M204.7 83.3h0M205.8 89.3h0M206 88h0M209.7 84.1h0M204.3 91.4h0M217.5 77.2h0M209.5 78.7h0M204.4 86.4h0M209.1 85.3h0M206.5 56.4h0M211.7 71.6h0M209.2 83.7h0M212.6 80.1h0M206.6 79.1h0M204.6 87.7h0M207.8 72.7h0M205.7 79.3h0M208.1 85.4h0M205.3 86.7h0M205.1 72.7h0M204.3 83.3h0M213.3 70.1h0M204.1 90.3h0M207.5 85.7h0M215.7 78.4h0M207.3 85.3h0M221.6 68.1h0M209.8 84.8h0M204.5 91.2h0M205.3 90.6h0M207.1 88.8h0M210.8 80.9h0M205.2 80.6h0M205.2 83.6h0M204.7 87.7h0M206 88.4h0M209.2 82.5h0M205.1 69.6h0M206.5 87.3h0M207.8 76.3h0M208 87.4h0M206.3 88.4h0M205.8 88.6h0M206.1 87.4h0M205.2 90.7h0M206.4 89h0M205.7 65h0M204.5 91.5h0M219.7 71.4h0M205.1 85.4h0M204.9 83.9h0M212 69.3h0M206.8 79.1h0M205.5 89.5h0M205.4 58.4h0M204.1 91.7h0M210.5 76.7h0M208.3 79.5h0M207.2 81.6h0M211.4 78.4h0M204.4 86.5h0M204.1 91.9h0M206.7 88.8h0M204.2 91.6h0M205.4 78.6h0M208.7 84.6h0M206.4 54.2h0M205 86.8h0M204 91.7h0M212.1 82.4h0M205.3 90.6h0M204.4 85.2h0M222.2 68.3h0M206.4 87.7h0M204.7 87.8h0M204.1 90.8h0M205.7 90.2h0M204.4 87h0M208.1 86h0M214.1 81.5h0M217.5 65.6h0M205.7 80.6h0M204.5 90.8h0M218 73.8h0M204 91.7h0M219 73.3h0M204.4 89.4h0M210.9 79.3h0M206.9 84.1h0M204.6 86.5h0M204.3 86.7h0M208.8 84.1h0M204.1 91.2h0M206.5 66.6h0M207.8 83.6h0M209.6 67.2h0M204.3 91.3h0M206.6 86.7h0M219.2 59.5h0M213.5 74.1h0M210.4 69.4h0M205 87.7h0M206.1 85.1h0M204.1 89.9h0M205.5 90.3h0M205.3 90.7h0M210.7 79h0M204.4 91.1h0M204.3 91.6h0M205.7 86.9h0M206.4 85.8h0M205.4 82.1h0M218.6 71.5h0M210.2 78.2h0M204.1 90.8h0M207.4 86.1h0M204.4 91.4h0M214.7 73h0M205.5 60.9h0M204.5 88.6h0M213.6 81.5h0M204 91.4h0M207.2 85.4h0M209 67h0M209.3 67.4h0M217.7 77.9h0M204.9 85.9h0M223.6 71.3h0M204 91.7h0M206 86.7h0M206.7 81.6h0M214.5 89.1h0M213 105.7h0M212.6 100.4h0M211.2 92.2h0M215.9 89.7h0M213 91.8h0M213.3 102.1h0M214.6 98.4h0M212.2 96.4h0M212.2 97.9h0M213.9 97.2h0M209.5 99h0M217.5 90.6h0M215.2 99.5h0M214.4 102.3h0M208.9 103.8h0M211.4 89.5h0M213.1 92.3h0M211.7 100.1h0M208.9 102.9h0M213.8 99h0M214.1 97.8h0M215.4 95.8h0M212.5 102.4h0M213.1 89.2h0M211.4 105h0M211 89.6h0M213.1 92.6h0M214.8 94.5h0M206.9 91h0M209.7 94.1h0M212.7 98.6h0M214 93.4h0M211 100.4h0M213.1 103.1h0M208.8 99.3h0M213 101.2h0M211.4 99.6h0M208.4 92.2h0M214.5 93.1h0M208.5 92.2h0M212.3 99.9h0M212.4 99.1h0M209.4 96.3h0M214.2 91.8h0M211.6 98h0M214 94.2h0M214.9 99.9h0M212.6 96.8h0M210.7 91.1h0M213.7 98h0M213.8 102.6h0M210.2 98.8h0M210.6 87.2h0M214.2 98.7h0M212.3 105.3h0M209.6 104.9h0M211 100.2h0M212.2 93.2h0M208.9 104.3h0M211.1 100.4h0M211 99.5h0M211.6 97.7h0M213.8 107.8h0M209.9 94.7h0M212.9 96.1h0M211.9 102.7h0M212 92.1h0M213.9 99.1h0M213 99h0M208.1 105.4h0M210.4 104.9h0M209.4 98.6h0M212.7 94.7h0M213 101.3h0M210.9 101.9h0M212.2 101.9h0M210.3 94.6h0M211.1 95.2h0M211.2 101.3h0M212.8 93.8h0M211.6 100.9h0M210.4 96.1h0M211.1 92.6h0M209.8 93.7h0M213.5 95.9h0M212.9 94.9h0M208.9 95h0M213.9 98.7h0M210.9 99.9h0M212 95.1h0M210.7 99.8h0M211.1 89.1h0M212.7 90.9h0M208.2 90h0M207.4 105.4h0M211.4 104h0M212.7 96.3h0M208.7 101.2h0M211.6 97.3h0M209.1 105.9h0M210.2 100h0M212 108h0M215.6 100.9h0M211.5 104.7h0M213.9 88.6h0M212.2 94.3h0M214.8 107.4h0M210.3 96.1h0M210.2 101.4h0M214 89.4h0M208.6 101.9h0M212.6 93.4h0M212.9 104.8h0M215.3 101.4h0M210.7 103.1h0M213.2 95.1h0M215.3 106.5h0M216.9 98.9h0M211.4 97.1h0M212.3 93.3h0M209.1 108.5h0M213.7 100.8h0M214.3 95h0M211.4 97.2h0M215.1 97.6h0M212.7 95.8h0M213.1 101.7h0M212.1 96h0M216.2 92.8h0M210.5 102.5h0M209.9 92.6h0M213.1 103.6h0M217 109.6h0M213.1 109.5h0M209.5 97.3h0M208.8 106.5h0M210.9 99.5h0M211.3 99.6h0M211.4 102.3h0M214.4 96.2h0M212 96.7h0M210.4 107.7h0M207.9 87.6h0M208.5 105.5h0M213.4 104.5h0M209.6 97.4h0M216.5 90.6h0M207.7 89.9h0M211.4 103.3h0M213.9 97.3h0M212.8 97.8h0M211.2 106.2h0M212.3 97.2h0M212.1 99.3h0M213.1 104.6h0M212.1 101h0M211.4 95.1h0M216.3 95.8h0M215.9 89.7h0M215.9 91.7h0M212 98.8h0M212.2 98.3h0M210.6 103h0M211.5 92.1h0M213.9 101.1h0M210.7 90.7h0M214.3 99h0M211.7 94.4h0M209.6 106.4h0M213 93.9h0M213.4 100h0M212.4 88.1h0M213.2 102.2h0M209.8 101.3h0M211.6 99.5h0M209.9 102.8h0M212.1 97.8h0M212.8 92.2h0M213.1 108.3h0M213.5 98.2h0M210.2 99.5h0M212 96.5h0M211 97.7h0M213.5 98.7h0M212.9 99.8h0M213.7 97.5h0M212.1 104h0M213.3 107.2h0M209 99.1h0M210.6 99.8h0M212.8 100.7h0M210.1 102.4h0M214.2 99.3h0M212.4 107.1h0M214.2 95.6h0M214.6 101h0M210.1 94.6h0M208.1 93.6h0M212.2 103.7h0" stroke="#111" stroke-opacity="0.6" stroke-width="0.6" stroke-linecap="round" fill="none"/>
<path d="M174.7 103.9C175.6 103.1 178.2 101.7 181 100.9C183.8 100.1 188.2 99.9 191.2 98.9C194.2 98 196.5 96.4 198.8 95.2C201.1 94 203.3 92.2 205.1 92C206.9 91.8 208.4 92.6 209.6 93.7C210.8 94.8 211.7 96.9 212.1 98.8C212.5 100.7 212.6 103.6 212.1 105.1C211.6 106.6 211 107.1 209 107.6C207 108.1 203.1 107.9 200.1 107.9C197.1 107.9 194.4 107.8 191.2 107.7C188 107.6 183.7 107.7 181 107.4C178.3 107.1 176.4 106.5 175.3 105.9C174.2 105.3 173.8 104.7 174.7 103.9Z" fill="#fff" stroke="#111" stroke-width="1.2"/>
<path d="M178.9 104C179.7 103.3 181.9 102.2 184.2 101.5C186.5 100.8 190.3 100.6 192.8 99.8C195.3 99 197.2 97.6 199.2 96.7C201.1 95.7 202.9 94.2 204.4 94C206 93.8 207.2 94.5 208.2 95.4C209.2 96.4 210 98.1 210.3 99.7C210.7 101.3 210.8 103.8 210.3 105C209.9 106.2 209.4 106.7 207.7 107.1C206 107.5 202.7 107.3 200.2 107.3C197.8 107.3 195.4 107.2 192.8 107.2C190.1 107.1 186.4 107.2 184.2 106.9C182 106.7 180.3 106.1 179.4 105.7C178.5 105.2 178.1 104.7 178.9 104Z" fill="none" stroke="#666" stroke-width="0.5"/>
<path d="M183.3 103.8C184 103.2 185.7 102.3 187.6 101.7C189.5 101.1 192.5 101 194.5 100.4C196.6 99.7 198.1 98.6 199.7 97.8C201.3 97.1 202.8 95.8 204 95.7C205.2 95.5 206.3 96 207 96.8C207.8 97.6 208.5 99 208.7 100.3C209 101.6 209.1 103.6 208.7 104.6C208.4 105.6 208 106 206.6 106.3C205.3 106.6 202.6 106.5 200.6 106.5C198.6 106.5 196.7 106.4 194.5 106.3C192.4 106.3 189.4 106.3 187.6 106.1C185.8 105.9 184.4 105.5 183.7 105.1C183 104.7 182.7 104.3 183.3 103.8Z" fill="none" stroke="#999" stroke-width="0.5"/>
<path d="M188.3 103.5C188.8 103.1 190.1 102.4 191.5 102C192.9 101.6 195.1 101.5 196.6 101C198.1 100.5 199.2 99.7 200.4 99.1C201.6 98.6 202.7 97.7 203.6 97.5C204.5 97.4 205.2 97.8 205.8 98.4C206.4 99 206.8 100 207.1 101C207.3 101.9 207.3 103.4 207.1 104.1C206.8 104.8 206.5 105.1 205.5 105.3C204.5 105.6 202.5 105.5 201.1 105.5C199.6 105.5 198.2 105.4 196.6 105.4C195 105.4 192.8 105.4 191.5 105.2C190.2 105.1 189.2 104.8 188.7 104.5C188.1 104.2 187.9 103.9 188.3 103.5Z" fill="none" stroke="#aaa" stroke-width="0.5"/>
<path d="M181.6 109.6L183.2 106.9L184.8 109.6Z" fill="#111"/>
<g filter="url(#fb)">
<path d="M62.7 163.9C62.7 165.3 62.3 167 61.7 168.2C61 169.5 60 170.7 58.9 171.4C57.8 172.2 56.4 172.6 55.1 172.6C53.8 172.6 52.4 172.2 51.3 171.4C50.2 170.7 49.2 169.5 48.5 168.2C47.9 167 47.5 165.3 47.5 163.9C47.5 162.5 47.9 160.8 48.5 159.6C49.2 158.3 50.2 157.1 51.3 156.4C52.4 155.6 53.8 155.2 55.1 155.2C56.4 155.2 57.8 155.6 58.9 156.4C60 157.1 61 158.3 61.7 159.6C62.3 160.8 62.7 162.5 62.7 163.9Z" fill="#e9e9e9" stroke="#b0b0b0" stroke-width="0.6"/>
<path d="M61.6 164.5C61.6 165.7 61.2 167.1 60.7 168.2C60.2 169.3 59.3 170.3 58.3 170.9C57.4 171.5 56.2 171.9 55.1 171.9C54 171.9 52.8 171.5 51.9 170.9C50.9 170.3 50 169.3 49.5 168.2C49 167.1 48.6 165.7 48.6 164.5C48.6 163.3 49 161.9 49.5 160.8C50 159.7 50.9 158.7 51.9 158.1C52.8 157.5 54 157.1 55.1 157.1C56.2 157.1 57.4 157.5 58.3 158.1C59.3 158.7 60.2 159.7 60.7 160.8C61.2 161.9 61.6 163.3 61.6 164.5Z" fill="#e4e4e4" fill-opacity="0.5" stroke="#a8a8a8" stroke-width="0.55"/>
<path d="M60.4 164.5C60.4 165.5 60.2 166.7 59.7 167.5C59.3 168.4 58.5 169.3 57.8 169.8C57 170.3 56 170.6 55.1 170.6C54.2 170.6 53.2 170.3 52.4 169.8C51.7 169.3 50.9 168.4 50.5 167.5C50 166.7 49.8 165.5 49.8 164.5C49.8 163.5 50 162.3 50.5 161.5C50.9 160.6 51.7 159.7 52.4 159.2C53.2 158.7 54.2 158.4 55.1 158.4C56 158.4 57 158.7 57.8 159.2C58.5 159.7 59.3 160.6 59.7 161.5C60.2 162.3 60.4 163.5 60.4 164.5Z" fill="#e4e4e4" fill-opacity="0.5" stroke="#a0a0a0" stroke-width="0.55"/>
<path d="M59.3 164.5C59.3 165.3 59.1 166.2 58.7 166.9C58.4 167.6 57.8 168.2 57.2 168.6C56.6 169 55.8 169.3 55.1 169.3C54.4 169.3 53.6 169 53 168.6C52.4 168.2 51.8 167.6 51.5 166.9C51.1 166.2 50.9 165.3 50.9 164.5C50.9 163.7 51.1 162.8 51.5 162.1C51.8 161.4 52.4 160.8 53 160.4C53.6 160 54.4 159.7 55.1 159.7C55.8 159.7 56.6 160 57.2 160.4C57.8 160.8 58.4 161.4 58.7 162.1C59.1 162.8 59.3 163.7 59.3 164.5Z" fill="#e4e4e4" fill-opacity="0.5" stroke="#a0a0a0" stroke-width="0.55"/>
<path d="M58.1 164.5C58.1 165.1 58 165.7 57.7 166.2C57.5 166.7 57.1 167.2 56.6 167.5C56.2 167.8 55.6 168 55.1 168C54.6 168 54 167.8 53.6 167.5C53.1 167.2 52.7 166.7 52.5 166.2C52.2 165.7 52.1 165.1 52.1 164.5C52.1 163.9 52.2 163.3 52.5 162.8C52.7 162.3 53.1 161.8 53.6 161.5C54 161.2 54.6 161 55.1 161C55.6 161 56.2 161.2 56.6 161.5C57.1 161.8 57.5 162.3 57.7 162.8C58 163.3 58.1 163.9 58.1 164.5Z" fill="#e4e4e4" fill-opacity="0.5" stroke="#a8a8a8" stroke-width="0.55"/>
<path d="M57 164.5C57 164.9 56.9 165.3 56.7 165.6C56.6 165.9 56.3 166.2 56.1 166.4C55.8 166.6 55.4 166.7 55.1 166.7C54.8 166.7 54.4 166.6 54.2 166.4C53.9 166.2 53.6 165.9 53.5 165.6C53.3 165.3 53.2 164.9 53.2 164.5C53.2 164.1 53.3 163.7 53.5 163.4C53.6 163.1 53.9 162.8 54.1 162.6C54.4 162.4 54.8 162.3 55.1 162.3C55.4 162.3 55.8 162.4 56.1 162.6C56.3 162.8 56.6 163.1 56.7 163.4C56.9 163.7 57 164.1 57 164.5Z" fill="#e4e4e4" fill-opacity="0.5" stroke="#b0b0b0" stroke-width="0.55"/>
<circle cx="54.6" cy="165.6" r="1.0" fill="#fff"/>
</g>
<path d="M59.9 146.3h0M58.1 144.3h0M57 167.7h0M61.1 139.7h0M59.7 143.8h0M51.9 142h0M74.5 141.8h0M54.1 149h0M68.9 171.8h0M65.1 154.9h0M57.6 148.8h0M71.2 143.8h0M65.5 141.5h0M59.5 148.9h0M67.2 132.5h0M48.3 150.5h0M61.3 158.1h0M49.1 160.1h0M64.9 148.5h0M71.2 145h0M68.9 163.7h0M59.4 152.5h0M56.9 152.6h0M64.2 146.1h0M60.2 153.9h0M50.5 151.3h0M61.5 165.7h0M64.2 147.4h0M59.6 156.6h0M52.6 155.2h0M53.9 160.2h0M68.7 142.9h0M66.7 158.2h0M50.8 147.3h0M59.8 159.8h0M55.1 161.8h0M68.6 149.3h0M58.2 153h0M63.9 155.8h0M49.3 145.2h0" stroke="#999" stroke-opacity="0.3" stroke-width="0.5" stroke-linecap="round" fill="none"/>
<g filter="url(#fb)">
<path d="M112.7 165.8C113.2 164.6 114.8 162.5 116.5 160.8C118.2 159.1 120.7 157.4 122.8 155.7C124.9 154 127.3 152.3 129.2 150.6C131.1 148.9 132.8 146.7 134.3 145.5C135.8 144.3 136.9 143.3 138.1 143.2C139.2 143.1 140.5 143.9 141.2 144.9C141.9 145.9 142.5 147.5 142.5 149.3C142.5 151.1 141.9 153.6 141.2 155.7C140.5 157.8 139.5 160.2 138.1 162C136.7 163.8 135.1 165.3 133 166.5C130.9 167.7 127.9 168.5 125.4 169C122.9 169.5 119.8 169.6 117.8 169.4C115.8 169.2 114.1 168.7 113.3 168.1C112.5 167.5 112.2 167 112.7 165.8Z" fill="#eeeeee" stroke="#b0b0b0" stroke-width="0.6"/>
<path d="M114.1 165.5C114.6 164.5 115.9 162.8 117.3 161.3C118.7 159.9 120.8 158.5 122.6 157.1C124.4 155.6 126.4 154.2 128 152.8C129.6 151.3 131 149.5 132.3 148.5C133.5 147.5 134.5 146.6 135.4 146.6C136.4 146.5 137.4 147.1 138 148C138.7 148.8 139.1 150.2 139.1 151.7C139.1 153.2 138.7 155.3 138 157.1C137.4 158.8 136.6 160.8 135.4 162.4C134.3 163.9 132.9 165.2 131.2 166.1C129.4 167.1 126.9 167.8 124.8 168.2C122.6 168.6 120.1 168.7 118.4 168.6C116.7 168.4 115.3 168 114.6 167.5C113.9 167 113.7 166.6 114.1 165.5Z" fill="#e6e6e6" fill-opacity="0.45" stroke="#aaa" stroke-width="0.5"/>
<path d="M115.7 165.3C116 164.5 117.1 163.1 118.2 162C119.3 160.8 121 159.7 122.4 158.6C123.8 157.5 125.3 156.3 126.6 155.2C127.8 154.1 129 152.7 129.9 151.9C130.9 151 131.7 150.4 132.5 150.3C133.2 150.3 134 150.8 134.5 151.5C135 152.1 135.4 153.2 135.4 154.4C135.4 155.6 135 157.2 134.5 158.6C134 160 133.4 161.6 132.5 162.7C131.6 163.9 130.5 164.9 129.1 165.7C127.7 166.5 125.7 167 124.1 167.4C122.4 167.7 120.4 167.7 119.1 167.6C117.7 167.5 116.6 167.2 116.1 166.8C115.5 166.4 115.3 166.1 115.7 165.3Z" fill="#e6e6e6" fill-opacity="0.45" stroke="#a4a4a4" stroke-width="0.5"/>
<path d="M117.3 165C117.5 164.4 118.3 163.4 119.1 162.6C119.9 161.8 121.1 160.9 122.1 160.1C123.1 159.3 124.3 158.5 125.2 157.7C126.1 156.9 126.9 155.8 127.6 155.2C128.4 154.6 128.9 154.2 129.5 154.1C130 154.1 130.6 154.4 131 154.9C131.3 155.4 131.6 156.2 131.6 157C131.6 157.9 131.3 159.1 131 160.1C130.6 161.1 130.1 162.3 129.5 163.1C128.8 164 128 164.7 127 165.3C126 165.9 124.6 166.3 123.4 166.5C122.2 166.7 120.7 166.8 119.7 166.7C118.8 166.6 118 166.4 117.6 166.1C117.2 165.8 117 165.6 117.3 165Z" fill="#e6e6e6" fill-opacity="0.45" stroke="#a4a4a4" stroke-width="0.5"/>
<path d="M118.9 164.7C119 164.3 119.5 163.7 120 163.2C120.5 162.7 121.3 162.2 121.9 161.6C122.5 161.1 123.2 160.6 123.8 160.1C124.4 159.6 124.9 159 125.3 158.6C125.8 158.2 126.1 157.9 126.5 157.9C126.8 157.9 127.2 158.1 127.4 158.4C127.6 158.7 127.8 159.2 127.8 159.7C127.8 160.3 127.6 161 127.4 161.6C127.2 162.3 126.9 163 126.5 163.5C126.1 164.1 125.6 164.5 125 164.9C124.3 165.2 123.4 165.5 122.7 165.6C121.9 165.8 121 165.8 120.4 165.8C119.8 165.7 119.3 165.6 119 165.4C118.8 165.2 118.7 165 118.9 164.7Z" fill="#e6e6e6" fill-opacity="0.45" stroke="#aaa" stroke-width="0.5"/>
<path d="M130.5 161.5C130.2 160.1 130.8 157.2 131.5 155C132.2 152.8 133.5 150.3 134.6 148.5C135.7 146.7 137.2 144.7 138.3 144.2C139.4 143.7 140.4 144.6 141 145.6C141.6 146.6 141.9 148.3 141.8 150C141.7 151.7 141.3 153.8 140.6 155.5C139.9 157.2 138.8 159.2 137.6 160.5C136.4 161.8 134.8 163.2 133.6 163.4C132.4 163.6 130.8 162.9 130.5 161.5Z" fill="none" stroke="#8c8c8c" stroke-width="0.5"/>
<path d="M132.2 159.2C132 158.2 132.5 156 133 154.4C133.5 152.8 134.4 150.9 135.3 149.6C136.1 148.2 137.2 146.7 138 146.4C138.8 146 139.6 146.7 140 147.4C140.4 148.1 140.7 149.5 140.6 150.7C140.6 151.9 140.2 153.5 139.7 154.7C139.2 156 138.4 157.5 137.5 158.4C136.6 159.4 135.4 160.5 134.5 160.6C133.7 160.7 132.5 160.2 132.2 159.2Z" fill="none" stroke="#808080" stroke-width="0.5"/>
<path d="M133.8 157.1C133.7 156.4 134 154.9 134.3 153.8C134.7 152.7 135.3 151.5 135.9 150.6C136.5 149.7 137.2 148.6 137.8 148.4C138.3 148.2 138.8 148.6 139.1 149.1C139.4 149.6 139.5 150.5 139.5 151.3C139.5 152.1 139.2 153.2 138.9 154.1C138.5 154.9 138 155.9 137.4 156.6C136.8 157.2 136 157.9 135.4 158C134.8 158.1 134 157.8 133.8 157.1Z" fill="none" stroke="#8a8a8a" stroke-width="0.5"/>
<path d="M135.4 155C135.3 154.6 135.5 153.8 135.7 153.2C135.8 152.7 136.2 152 136.5 151.5C136.8 151 137.2 150.5 137.5 150.3C137.8 150.2 138.1 150.4 138.2 150.7C138.4 151 138.5 151.5 138.4 151.9C138.4 152.3 138.3 152.9 138.1 153.4C137.9 153.9 137.6 154.4 137.3 154.7C137 155.1 136.5 155.5 136.2 155.5C135.9 155.6 135.5 155.4 135.4 155Z" fill="none" stroke="#9c9c9c" stroke-width="0.5"/>
</g>
<path d="M147.9 133.2h0M136.5 143.2h0M137.9 140.2h0M137.2 146.9h0M142.8 137.6h0M143.6 138.7h0M136.2 147.5h0M143.1 139.4h0M136.4 146.6h0M137.8 144h0M137.1 139.4h0M138 130.5h0M138.1 144.4h0M138.4 145.6h0M138.9 136.6h0M161.6 128.3h0M141.6 138.9h0M156 130h0M140.9 144.9h0M155.3 121.9h0M140.3 140.3h0M143.1 138.3h0M155.2 136.3h0M137.2 141.3h0M140.7 141.4h0M144.5 132.3h0M137.4 143.5h0M158.5 127.9h0M147.9 138.4h0M137.7 145.2h0M137.2 146.8h0M140 140.4h0M143.1 143h0M136.7 145.1h0M138.5 142.4h0M144.6 141.4h0M137.7 134.7h0M137.5 137.7h0M136.4 146.7h0M137.4 147.1h0M143.8 124.3h0M141 143.8h0M138.7 135.7h0M155.2 123.1h0M136.2 147.4h0M139.7 140.8h0M140.2 140h0M140.7 132.1h0M156.7 133.2h0M145.1 134.4h0M139.7 144.6h0M137.9 134.3h0M140 143.7h0M149.4 135.9h0M142.7 133.8h0M136.1 147.8h0M138.3 145.3h0M138.6 144.7h0M150.4 131.4h0M139.8 145.6h0M137.9 144.6h0M142.1 134.3h0M144.5 138h0M140.3 143.5h0M136.3 146.8h0M139.8 141.4h0M136.9 145.3h0M139.5 140.1h0M140.9 125.4h0M138.2 139.7h0M149.3 134.5h0M138.5 144.7h0M152.1 129.7h0M153.4 134.6h0M142.2 133.2h0M144.6 129.5h0M142.7 143.8h0M137.4 144.4h0M136.2 146.6h0M137.2 146.4h0M143.2 131.9h0M154.2 133.2h0M148.8 129.6h0M143.2 135.2h0M139.9 143.8h0M153.7 125.9h0M147.1 137.3h0M147.3 120.2h0M138.1 138.9h0M138.5 136.3h0M136.2 147.7h0M149.3 121.7h0M137.2 146.9h0M152.2 131.3h0M143.3 116.9h0M139.8 139.1h0M140 140.7h0M148.6 129.3h0M151.1 136.5h0M145.4 134h0M136.5 145.6h0M152.2 137.4h0M144.1 143.2h0M140.5 144.5h0M144.7 128h0M137.8 142.7h0M138.4 137.1h0M138.9 137.8h0M154.9 136.6h0M140.5 140.9h0M146.7 115.7h0M140.6 141.4h0M138.5 143.5h0M152.1 136.2h0M136.9 147.2h0M148.8 140h0M143.4 136.9h0M141.9 136.8h0M136 148h0M138.4 145.6h0M136.4 147.5h0M136.8 143.9h0M136.4 147.1h0M141.3 137.6h0M136.9 147.4h0M145.1 135.6h0M142.1 143.3h0M143.2 143.7h0M136.3 146.1h0M139.3 142.7h0" stroke="#888" stroke-opacity="0.32" stroke-width="0.5" stroke-linecap="round" fill="none"/>
<g filter="url(#fb2)">
<path d="M189.5 168.2C189.5 167 192.4 164.1 194.2 161.6C196 159.1 198.4 156 200.1 153.1C201.8 150.2 203.3 147.2 204.5 144.3C205.7 141.4 206.3 138 207 135.4C207.7 132.8 207.8 129.7 208.6 128.6C209.4 127.5 211 127.5 211.7 128.6C212.4 129.7 212.6 132.6 212.9 135.4C213.2 138.2 213.4 142.1 213.5 145.5C213.6 148.9 213.7 152.7 213.5 155.7C213.3 158.7 213.1 161.1 212.1 163.3C211.1 165.5 209.7 167.8 207.7 169C205.7 170.2 202.3 170.3 200.1 170.3C197.9 170.3 196.2 169.3 194.4 169C192.6 168.7 189.5 169.4 189.5 168.2Z" fill="#dcdcdc" stroke="#bbb" stroke-width="0.8"/>
<path d="M192.1 167.1C192.1 166.1 194.6 163.7 196.1 161.5C197.6 159.4 199.6 156.8 201.1 154.3C202.5 151.8 203.9 149.3 204.8 146.8C205.8 144.3 206.4 141.5 207 139.3C207.5 137 207.6 134.4 208.3 133.5C209 132.5 210.3 132.5 210.9 133.5C211.6 134.4 211.7 136.9 212 139.3C212.2 141.6 212.4 145 212.5 147.8C212.6 150.7 212.7 154 212.5 156.5C212.3 159 212.1 161.1 211.3 163C210.5 164.9 209.2 166.8 207.6 167.8C205.9 168.8 203 168.9 201.1 168.9C199.2 168.9 197.7 168.1 196.2 167.8C194.7 167.5 192.1 168.2 192.1 167.1Z" fill="#bdbdbd" stroke="none"/>
<path d="M194.7 166.1C194.6 165.2 196.7 163.2 198 161.5C199.2 159.7 200.9 157.5 202.1 155.5C203.3 153.5 204.4 151.4 205.2 149.3C206 147.3 206.4 144.9 206.9 143.1C207.4 141.3 207.5 139.1 208 138.3C208.6 137.6 209.7 137.6 210.2 138.3C210.7 139.1 210.8 141.1 211 143.1C211.3 145.1 211.4 147.8 211.5 150.2C211.5 152.5 211.6 155.2 211.5 157.3C211.3 159.4 211.2 161.1 210.5 162.6C209.8 164.2 208.8 165.8 207.4 166.6C206 167.4 203.6 167.5 202.1 167.5C200.5 167.5 199.3 166.9 198.1 166.6C196.9 166.4 194.7 166.9 194.7 166.1Z" fill="#a6a6a6" stroke="none"/>
<path d="M197.2 165C197.2 164.3 198.9 162.8 199.8 161.4C200.8 160 202.1 158.3 203.1 156.7C204 155.1 204.9 153.5 205.5 151.9C206.1 150.2 206.5 148.4 206.9 147C207.2 145.5 207.3 143.8 207.7 143.2C208.2 142.6 209.1 142.6 209.4 143.2C209.8 143.8 209.9 145.4 210.1 147C210.3 148.5 210.4 150.7 210.4 152.5C210.5 154.4 210.6 156.5 210.4 158.1C210.3 159.8 210.2 161.1 209.7 162.3C209.1 163.5 208.3 164.8 207.2 165.4C206.1 166.1 204.3 166.2 203.1 166.2C201.9 166.2 200.9 165.6 199.9 165.4C199 165.3 197.3 165.7 197.2 165Z" fill="#909090" stroke="none"/>
<path d="M199.8 163.9C199.8 163.4 201 162.3 201.7 161.3C202.4 160.3 203.4 159.1 204.1 157.9C204.7 156.7 205.4 155.6 205.8 154.4C206.3 153.2 206.5 151.9 206.8 150.8C207.1 149.8 207.1 148.6 207.5 148.1C207.8 147.6 208.4 147.6 208.7 148.1C209 148.6 209.1 149.7 209.2 150.8C209.3 151.9 209.4 153.5 209.4 154.9C209.5 156.2 209.5 157.8 209.4 158.9C209.3 160.1 209.2 161.1 208.9 162C208.5 162.9 207.9 163.8 207.1 164.3C206.3 164.7 204.9 164.8 204.1 164.8C203.2 164.8 202.5 164.4 201.8 164.3C201.1 164.1 199.8 164.4 199.8 163.9Z" fill="#828282" stroke="none"/>
<path d="M202.4 162.9C202.4 162.6 203.1 161.9 203.6 161.2C204 160.6 204.6 159.8 205.1 159.1C205.5 158.4 205.9 157.6 206.2 156.9C206.4 156.2 206.6 155.3 206.8 154.7C206.9 154 207 153.3 207.2 153C207.4 152.7 207.8 152.7 208 153C208.1 153.3 208.2 154 208.2 154.7C208.3 155.4 208.4 156.4 208.4 157.2C208.4 158 208.5 159 208.4 159.8C208.3 160.5 208.3 161.1 208.1 161.6C207.8 162.2 207.5 162.8 207 163.1C206.5 163.4 205.6 163.4 205.1 163.4C204.5 163.4 204.1 163.2 203.6 163.1C203.2 163 202.4 163.2 202.4 162.9Z" fill="#787878" stroke="none"/>
</g>
<g filter="url(#fb)">
<path d="M205.9 158.6C205.7 159 205.4 159.6 205.2 159.9C204.9 160.3 204.6 160.5 204.4 160.6C204.1 160.7 203.9 160.6 203.8 160.4C203.7 160.2 203.6 159.7 203.7 159.3C203.7 158.9 203.9 158.3 204.1 157.8C204.3 157.4 204.6 156.8 204.8 156.5C205.1 156.1 205.4 155.9 205.6 155.8C205.9 155.7 206.1 155.8 206.2 156C206.3 156.2 206.4 156.7 206.3 157.1C206.3 157.5 206.1 158.1 205.9 158.6Z" fill="#fff"/>
<path d="M211.1 134.8C211 135.3 210.8 135.9 210.6 136.3C210.4 136.7 210 137.1 209.7 137.2C209.4 137.3 209 137.3 208.8 137.1C208.5 136.9 208.3 136.5 208.2 136C208.1 135.6 208 134.9 208.1 134.4C208.2 133.9 208.4 133.3 208.6 132.9C208.8 132.5 209.2 132.1 209.5 132C209.8 131.9 210.2 131.9 210.4 132.1C210.7 132.3 210.9 132.7 211 133.2C211.1 133.6 211.2 134.3 211.1 134.8Z" fill="#f4f4f4" stroke="#aaa" stroke-width="0.5"/>
<path d="M189.5 168.2C189.5 167 192.4 164.1 194.2 161.6C196 159.1 198.4 156 200.1 153.1C201.8 150.2 203.3 147.2 204.5 144.3C205.7 141.4 206.3 138 207 135.4C207.7 132.8 207.8 129.7 208.6 128.6C209.4 127.5 211 127.5 211.7 128.6C212.4 129.7 212.6 132.6 212.9 135.4C213.2 138.2 213.4 142.1 213.5 145.5C213.6 148.9 213.7 152.7 213.5 155.7C213.3 158.7 213.1 161.1 212.1 163.3C211.1 165.5 209.7 167.8 207.7 169C205.7 170.2 202.3 170.3 200.1 170.3C197.9 170.3 196.2 169.3 194.4 169C192.6 168.7 189.5 169.4 189.5 168.2Z" fill="none" stroke="#909090" stroke-opacity="0.85" stroke-width="0.5"/>
<path d="M192.1 167.1C192.1 166.1 194.6 163.7 196.1 161.5C197.6 159.4 199.6 156.8 201.1 154.3C202.5 151.8 203.9 149.3 204.8 146.8C205.8 144.3 206.4 141.5 207 139.3C207.5 137 207.6 134.4 208.3 133.5C209 132.5 210.3 132.5 210.9 133.5C211.6 134.4 211.7 136.9 212 139.3C212.2 141.6 212.4 145 212.5 147.8C212.6 150.7 212.7 154 212.5 156.5C212.3 159 212.1 161.1 211.3 163C210.5 164.9 209.2 166.8 207.6 167.8C205.9 168.8 203 168.9 201.1 168.9C199.2 168.9 197.7 168.1 196.2 167.8C194.7 167.5 192.1 168.2 192.1 167.1Z" fill="none" stroke="#7c7c7c" stroke-opacity="0.85" stroke-width="0.5"/>
<path d="M194.7 166.1C194.6 165.2 196.7 163.2 198 161.5C199.2 159.7 200.9 157.5 202.1 155.5C203.3 153.5 204.4 151.4 205.2 149.3C206 147.3 206.4 144.9 206.9 143.1C207.4 141.3 207.5 139.1 208 138.3C208.6 137.6 209.7 137.6 210.2 138.3C210.7 139.1 210.8 141.1 211 143.1C211.3 145.1 211.4 147.8 211.5 150.2C211.5 152.5 211.6 155.2 211.5 157.3C211.3 159.4 211.2 161.1 210.5 162.6C209.8 164.2 208.8 165.8 207.4 166.6C206 167.4 203.6 167.5 202.1 167.5C200.5 167.5 199.3 166.9 198.1 166.6C196.9 166.4 194.7 166.9 194.7 166.1Z" fill="none" stroke="#707070" stroke-opacity="0.85" stroke-width="0.5"/>
<path d="M197.2 165C197.2 164.3 198.9 162.8 199.8 161.4C200.8 160 202.1 158.3 203.1 156.7C204 155.1 204.9 153.5 205.5 151.9C206.1 150.2 206.5 148.4 206.9 147C207.2 145.5 207.3 143.8 207.7 143.2C208.2 142.6 209.1 142.6 209.4 143.2C209.8 143.8 209.9 145.4 210.1 147C210.3 148.5 210.4 150.7 210.4 152.5C210.5 154.4 210.6 156.5 210.4 158.1C210.3 159.8 210.2 161.1 209.7 162.3C209.1 163.5 208.3 164.8 207.2 165.4C206.1 166.1 204.3 166.2 203.1 166.2C201.9 166.2 200.9 165.6 199.9 165.4C199 165.3 197.3 165.7 197.2 165Z" fill="none" stroke="#6c6c6c" stroke-opacity="0.85" stroke-width="0.5"/>
<path d="M212.5 137.8C212.3 139.2 212 140.8 211.7 142C211.4 143.2 210.9 144.3 210.4 145C210 145.6 209.4 146 209 146C208.6 145.9 208.1 145.4 207.8 144.7C207.5 143.9 207.3 142.7 207.2 141.5C207.1 140.2 207.2 138.6 207.3 137.2C207.5 135.8 207.8 134.2 208.1 133C208.4 131.8 208.9 130.7 209.4 130C209.8 129.4 210.4 129 210.8 129C211.2 129.1 211.7 129.6 212 130.3C212.3 131.1 212.5 132.3 212.6 133.5C212.7 134.8 212.6 136.4 212.5 137.8Z" fill="none" stroke="#777" stroke-opacity="0.8" stroke-width="0.5"/>
<path d="M211.8 137.3C211.7 138.3 211.4 139.4 211.2 140.3C210.9 141.2 210.6 142 210.3 142.4C210 142.9 209.6 143.2 209.3 143.2C208.9 143.1 208.6 142.8 208.4 142.3C208.2 141.7 208 140.8 208 140C207.9 139.1 207.9 137.9 208 136.9C208.1 135.9 208.4 134.7 208.6 133.9C208.9 133 209.2 132.2 209.5 131.7C209.8 131.2 210.2 131 210.5 131C210.9 131 211.2 131.4 211.4 131.9C211.6 132.4 211.8 133.3 211.8 134.2C211.9 135.1 211.9 136.3 211.8 137.3Z" fill="none" stroke="#808080" stroke-opacity="0.8" stroke-width="0.5"/>
</g>
<path d="M210.4 129.8h0M208 123.1h0M208.1 125.1h0M208.8 131.7h0M211.1 124.7h0M213.8 140.9h0M211.7 126.5h0M209.3 117.9h0M212.7 124.7h0M211.7 130.7h0M213.7 129.4h0M209.5 124.6h0M205.7 131.2h0M207.9 135h0M212.1 130h0M214.6 130.8h0M211.3 122.9h0M211 127.5h0M212.7 127.7h0M204.6 134.4h0M212 119.6h0M209.4 130.8h0M211.3 121.5h0M207.7 124.6h0M208.4 123.9h0M209.9 118.4h0M210.4 121.3h0M208.3 123.5h0M211.2 129.2h0M208.3 130.6h0M207.2 129.6h0M209.9 128.4h0M206.6 130.5h0M210.7 130.7h0M208.4 135.2h0M213.5 136.5h0M210.1 139.8h0M207.8 115.9h0M207.6 123.4h0M208.1 127.1h0M210.2 125.9h0M207.2 125.8h0M210.5 121.1h0M206.3 124.9h0M208.7 151.1h0M210.1 123.9h0M208.7 123.6h0M211.1 143.2h0M210.5 124.1h0M209.9 146.5h0M207.5 123.6h0M208.4 125h0M204.3 120.8h0M208.8 133.4h0M207.2 120.1h0M208.7 118.7h0M205.2 128.2h0M210.2 125h0M210.4 131.6h0M211.2 126.3h0M210.6 124.1h0M209.9 133.9h0M213.3 131h0M208.4 124.2h0M206.9 133.5h0M212.2 122.8h0M208.5 126.9h0M206.2 119.5h0M210.6 123.3h0M210.7 130.6h0M212.5 123.4h0M212.6 125h0M209.5 137h0M208.4 120.1h0M211 125.8h0M206 137.1h0M208 133.5h0M209.3 122.5h0M209.7 118.4h0M211.9 121h0M209.6 144.9h0M208.9 128h0M206.5 138.8h0M210 129.5h0M206.3 125.2h0M209.1 125h0M207.1 142.9h0M210.3 133.9h0M206.8 136.8h0M208.3 125.5h0M209.8 127h0M210.9 120.5h0M209.7 119.8h0M214.6 117.2h0M212.5 136.5h0M209 126.9h0M209.1 131.3h0M210.7 131.2h0M211.2 130.3h0M207.5 132.3h0M208.2 120.6h0M210.3 126.5h0M203.7 133.5h0M209.5 131.1h0M206.6 126.4h0M208.1 127.5h0M211.9 121.4h0M208.6 125.3h0M210.2 116.9h0M210.9 123.8h0M212.5 136.3h0M208.8 123.6h0M208.5 123h0M211.6 141.4h0M206.7 122.3h0M209.8 129.5h0M210.4 119.1h0M211.2 125.6h0M210.8 126.4h0M206.4 134.2h0" stroke="#999" stroke-opacity="0.3" stroke-width="0.5" stroke-linecap="round" fill="none"/>
<path d="M187.3 162.1h0M183.8 162.9h0M191.6 171h0M190.1 162.2h0M188.4 166.1h0M186.2 163.1h0M188.6 160.3h0M187.2 159.4h0M186 162.4h0M189.1 167.8h0M185.8 165.6h0M192.3 154.1h0M187.5 157.6h0M191.6 167.3h0M189.4 166.6h0M183 170.8h0M187.1 164.2h0M183.5 165.3h0M182.9 157.2h0M195 163.7h0M194.8 172.2h0M191.8 155h0M193 165.4h0M190.6 169.2h0M184.7 163.4h0M189.9 164.6h0M182.1 165.9h0M187.8 163.4h0M188.9 162.4h0M192 156.4h0M185.8 167.7h0M191.1 159h0M190.6 163.2h0M192.2 169.9h0M185.3 163.6h0M188.5 159h0M183.4 163h0M190.2 172h0M189.4 166h0M186.7 171.8h0" stroke="#aaa" stroke-opacity="0.3" stroke-width="0.5" stroke-linecap="round" fill="none"/>
<rect x="41.7" y="52.4" width="59.2" height="59" fill="none" stroke="#b4b4b4" stroke-width="0.8"/>
<line x1="41.3" y1="52.7" x2="101.3" y2="52.7" stroke="#b4b4b4" stroke-width="2.2" stroke-linecap="butt"/>
<line x1="41" y1="100.12" x2="42.5" y2="100.12" stroke="#555" stroke-width="0.7" stroke-linecap="butt"/>
<line x1="100.1" y1="100.12" x2="101.6" y2="100.12" stroke="#888" stroke-width="0.7" stroke-linecap="butt"/>
<line x1="41" y1="88.64" x2="42.5" y2="88.64" stroke="#555" stroke-width="0.7" stroke-linecap="butt"/>
<line x1="100.1" y1="88.64" x2="101.6" y2="88.64" stroke="#888" stroke-width="0.7" stroke-linecap="butt"/>
<line x1="41" y1="77.16" x2="42.5" y2="77.16" stroke="#555" stroke-width="0.7" stroke-linecap="butt"/>
<line x1="100.1" y1="77.16" x2="101.6" y2="77.16" stroke="#888" stroke-width="0.7" stroke-linecap="butt"/>
<line x1="41" y1="65.67" x2="42.5" y2="65.67" stroke="#555" stroke-width="0.7" stroke-linecap="butt"/>
<line x1="100.1" y1="65.67" x2="101.6" y2="65.67" stroke="#888" stroke-width="0.7" stroke-linecap="butt"/>
<line x1="44.7" y1="112.2" x2="44.7" y2="110.9" stroke="#666" stroke-width="0.7" stroke-linecap="butt"/>
<line x1="58.2" y1="112.2" x2="58.2" y2="110.9" stroke="#666" stroke-width="0.7" stroke-linecap="butt"/>
<line x1="71.7" y1="112.2" x2="71.7" y2="110.9" stroke="#666" stroke-width="0.7" stroke-linecap="butt"/>
<line x1="85.2" y1="112.2" x2="85.2" y2="110.9" stroke="#666" stroke-width="0.7" stroke-linecap="butt"/>
<line x1="98.7" y1="112.2" x2="98.7" y2="110.9" stroke="#666" stroke-width="0.7" stroke-linecap="butt"/>
<path d="M42.4 53.5V110.8H67.5V53.5" fill="none" stroke="#555" stroke-width="0.85"/>
<line x1="53.6" y1="111.2" x2="56.9" y2="111.2" stroke="#111" stroke-width="1.3" stroke-linecap="butt"/>
<rect x="41.7" y="114.2" width="59.2" height="59" fill="none" stroke="#b4b4b4" stroke-width="0.8"/>
<line x1="41" y1="161.92" x2="42.5" y2="161.92" stroke="#555" stroke-width="0.7" stroke-linecap="butt"/>
<line x1="100.1" y1="161.92" x2="101.6" y2="161.92" stroke="#888" stroke-width="0.7" stroke-linecap="butt"/>
<line x1="41" y1="150.44" x2="42.5" y2="150.44" stroke="#555" stroke-width="0.7" stroke-linecap="butt"/>
<line x1="100.1" y1="150.44" x2="101.6" y2="150.44" stroke="#888" stroke-width="0.7" stroke-linecap="butt"/>
<line x1="41" y1="138.96" x2="42.5" y2="138.96" stroke="#555" stroke-width="0.7" stroke-linecap="butt"/>
<line x1="100.1" y1="138.96" x2="101.6" y2="138.96" stroke="#888" stroke-width="0.7" stroke-linecap="butt"/>
<line x1="41" y1="127.47" x2="42.5" y2="127.47" stroke="#555" stroke-width="0.7" stroke-linecap="butt"/>
<line x1="100.1" y1="127.47" x2="101.6" y2="127.47" stroke="#888" stroke-width="0.7" stroke-linecap="butt"/>
<line x1="44.7" y1="174" x2="44.7" y2="172.7" stroke="#666" stroke-width="0.7" stroke-linecap="butt"/>
<line x1="58.2" y1="174" x2="58.2" y2="172.7" stroke="#666" stroke-width="0.7" stroke-linecap="butt"/>
<line x1="71.7" y1="174" x2="71.7" y2="172.7" stroke="#666" stroke-width="0.7" stroke-linecap="butt"/>
<line x1="85.2" y1="174" x2="85.2" y2="172.7" stroke="#666" stroke-width="0.7" stroke-linecap="butt"/>
<line x1="98.7" y1="174" x2="98.7" y2="172.7" stroke="#666" stroke-width="0.7" stroke-linecap="butt"/>
<path d="M42.4 118.8V172.6H67.5V118.8" fill="none" stroke="#555" stroke-width="0.85"/>
<line x1="42.4" y1="118.8" x2="67.5" y2="118.8" stroke="#666" stroke-width="0.85" stroke-linecap="butt"/>
<line x1="53.6" y1="173" x2="56.9" y2="173" stroke="#111" stroke-width="1.3" stroke-linecap="butt"/>
<rect x="103.7" y="52.4" width="58.5" height="59" fill="none" stroke="#b4b4b4" stroke-width="0.8"/>
<line x1="103.3" y1="52.7" x2="162.6" y2="52.7" stroke="#b4b4b4" stroke-width="2.2" stroke-linecap="butt"/>
<line x1="103" y1="100.12" x2="104.5" y2="100.12" stroke="#555" stroke-width="0.7" stroke-linecap="butt"/>
<line x1="161.4" y1="100.12" x2="162.9" y2="100.12" stroke="#888" stroke-width="0.7" stroke-linecap="butt"/>
<line x1="103" y1="88.64" x2="104.5" y2="88.64" stroke="#555" stroke-width="0.7" stroke-linecap="butt"/>
<line x1="161.4" y1="88.64" x2="162.9" y2="88.64" stroke="#888" stroke-width="0.7" stroke-linecap="butt"/>
<line x1="103" y1="77.16" x2="104.5" y2="77.16" stroke="#555" stroke-width="0.7" stroke-linecap="butt"/>
<line x1="161.4" y1="77.16" x2="162.9" y2="77.16" stroke="#888" stroke-width="0.7" stroke-linecap="butt"/>
<line x1="103" y1="65.67" x2="104.5" y2="65.67" stroke="#555" stroke-width="0.7" stroke-linecap="butt"/>
<line x1="161.4" y1="65.67" x2="162.9" y2="65.67" stroke="#888" stroke-width="0.7" stroke-linecap="butt"/>
<line x1="106.7" y1="112.2" x2="106.7" y2="110.9" stroke="#666" stroke-width="0.7" stroke-linecap="butt"/>
<line x1="120.04" y1="112.2" x2="120.04" y2="110.9" stroke="#666" stroke-width="0.7" stroke-linecap="butt"/>
<line x1="133.38" y1="112.2" x2="133.38" y2="110.9" stroke="#666" stroke-width="0.7" stroke-linecap="butt"/>
<line x1="146.73" y1="112.2" x2="146.73" y2="110.9" stroke="#666" stroke-width="0.7" stroke-linecap="butt"/>
<line x1="160.07" y1="112.2" x2="160.07" y2="110.9" stroke="#666" stroke-width="0.7" stroke-linecap="butt"/>
<path d="M104.4 53.5V110.8H130V53.5" fill="none" stroke="#555" stroke-width="0.85"/>
<line x1="115.6" y1="111.2" x2="118.9" y2="111.2" stroke="#111" stroke-width="1.3" stroke-linecap="butt"/>
<rect x="103.7" y="114.2" width="58.5" height="59" fill="none" stroke="#b4b4b4" stroke-width="0.8"/>
<line x1="103" y1="161.92" x2="104.5" y2="161.92" stroke="#555" stroke-width="0.7" stroke-linecap="butt"/>
<line x1="161.4" y1="161.92" x2="162.9" y2="161.92" stroke="#888" stroke-width="0.7" stroke-linecap="butt"/>
<line x1="103" y1="150.44" x2="104.5" y2="150.44" stroke="#555" stroke-width="0.7" stroke-linecap="butt"/>
<line x1="161.4" y1="150.44" x2="162.9" y2="150.44" stroke="#888" stroke-width="0.7" stroke-linecap="butt"/>
<line x1="103" y1="138.96" x2="104.5" y2="138.96" stroke="#555" stroke-width="0.7" stroke-linecap="butt"/>
<line x1="161.4" y1="138.96" x2="162.9" y2="138.96" stroke="#888" stroke-width="0.7" stroke-linecap="butt"/>
<line x1="103" y1="127.47" x2="104.5" y2="127.47" stroke="#555" stroke-width="0.7" stroke-linecap="butt"/>
<line x1="161.4" y1="127.47" x2="162.9" y2="127.47" stroke="#888" stroke-width="0.7" stroke-linecap="butt"/>
<line x1="106.7" y1="174" x2="106.7" y2="172.7" stroke="#666" stroke-width="0.7" stroke-linecap="butt"/>
<line x1="120.04" y1="174" x2="120.04" y2="172.7" stroke="#666" stroke-width="0.7" stroke-linecap="butt"/>
<line x1="133.38" y1="174" x2="133.38" y2="172.7" stroke="#666" stroke-width="0.7" stroke-linecap="butt"/>
<line x1="146.73" y1="174" x2="146.73" y2="172.7" stroke="#666" stroke-width="0.7" stroke-linecap="butt"/>
<line x1="160.07" y1="174" x2="160.07" y2="172.7" stroke="#666" stroke-width="0.7" stroke-linecap="butt"/>
<path d="M104.4 118.8V172.6H130V118.8" fill="none" stroke="#555" stroke-width="0.85"/>
<line x1="104.4" y1="118.8" x2="130" y2="118.8" stroke="#666" stroke-width="0.85" stroke-linecap="butt"/>
<line x1="115.6" y1="173" x2="118.9" y2="173" stroke="#111" stroke-width="1.3" stroke-linecap="butt"/>
<rect x="166.2" y="52.4" width="58" height="59" fill="none" stroke="#b4b4b4" stroke-width="0.8"/>
<line x1="165.8" y1="52.7" x2="224.6" y2="52.7" stroke="#b4b4b4" stroke-width="2.2" stroke-linecap="butt"/>
<line x1="165.5" y1="100.12" x2="167" y2="100.12" stroke="#555" stroke-width="0.7" stroke-linecap="butt"/>
<line x1="223.4" y1="100.12" x2="224.9" y2="100.12" stroke="#888" stroke-width="0.7" stroke-linecap="butt"/>
<line x1="165.5" y1="88.64" x2="167" y2="88.64" stroke="#555" stroke-width="0.7" stroke-linecap="butt"/>
<line x1="223.4" y1="88.64" x2="224.9" y2="88.64" stroke="#888" stroke-width="0.7" stroke-linecap="butt"/>
<line x1="165.5" y1="77.16" x2="167" y2="77.16" stroke="#555" stroke-width="0.7" stroke-linecap="butt"/>
<line x1="223.4" y1="77.16" x2="224.9" y2="77.16" stroke="#888" stroke-width="0.7" stroke-linecap="butt"/>
<line x1="165.5" y1="65.67" x2="167" y2="65.67" stroke="#555" stroke-width="0.7" stroke-linecap="butt"/>
<line x1="223.4" y1="65.67" x2="224.9" y2="65.67" stroke="#888" stroke-width="0.7" stroke-linecap="butt"/>
<line x1="169.2" y1="112.2" x2="169.2" y2="110.9" stroke="#666" stroke-width="0.7" stroke-linecap="butt"/>
<line x1="182.43" y1="112.2" x2="182.43" y2="110.9" stroke="#666" stroke-width="0.7" stroke-linecap="butt"/>
<line x1="195.66" y1="112.2" x2="195.66" y2="110.9" stroke="#666" stroke-width="0.7" stroke-linecap="butt"/>
<line x1="208.89" y1="112.2" x2="208.89" y2="110.9" stroke="#666" stroke-width="0.7" stroke-linecap="butt"/>
<line x1="222.12" y1="112.2" x2="222.12" y2="110.9" stroke="#666" stroke-width="0.7" stroke-linecap="butt"/>
<path d="M166.9 53.5V110.8H191.3V53.5" fill="none" stroke="#555" stroke-width="0.85"/>
<line x1="178.1" y1="111.2" x2="181.4" y2="111.2" stroke="#111" stroke-width="1.3" stroke-linecap="butt"/>
<rect x="166.2" y="114.2" width="58" height="59" fill="none" stroke="#b4b4b4" stroke-width="0.8"/>
<line x1="165.5" y1="161.92" x2="167" y2="161.92" stroke="#555" stroke-width="0.7" stroke-linecap="butt"/>
<line x1="223.4" y1="161.92" x2="224.9" y2="161.92" stroke="#888" stroke-width="0.7" stroke-linecap="butt"/>
<line x1="165.5" y1="150.44" x2="167" y2="150.44" stroke="#555" stroke-width="0.7" stroke-linecap="butt"/>
<line x1="223.4" y1="150.44" x2="224.9" y2="150.44" stroke="#888" stroke-width="0.7" stroke-linecap="butt"/>
<line x1="165.5" y1="138.96" x2="167" y2="138.96" stroke="#555" stroke-width="0.7" stroke-linecap="butt"/>
<line x1="223.4" y1="138.96" x2="224.9" y2="138.96" stroke="#888" stroke-width="0.7" stroke-linecap="butt"/>
<line x1="165.5" y1="127.47" x2="167" y2="127.47" stroke="#555" stroke-width="0.7" stroke-linecap="butt"/>
<line x1="223.4" y1="127.47" x2="224.9" y2="127.47" stroke="#888" stroke-width="0.7" stroke-linecap="butt"/>
<line x1="169.2" y1="174" x2="169.2" y2="172.7" stroke="#666" stroke-width="0.7" stroke-linecap="butt"/>
<line x1="182.43" y1="174" x2="182.43" y2="172.7" stroke="#666" stroke-width="0.7" stroke-linecap="butt"/>
<line x1="195.66" y1="174" x2="195.66" y2="172.7" stroke="#666" stroke-width="0.7" stroke-linecap="butt"/>
<line x1="208.89" y1="174" x2="208.89" y2="172.7" stroke="#666" stroke-width="0.7" stroke-linecap="butt"/>
<line x1="222.12" y1="174" x2="222.12" y2="172.7" stroke="#666" stroke-width="0.7" stroke-linecap="butt"/>
<path d="M166.9 118.8V172.6H191.3V118.8" fill="none" stroke="#555" stroke-width="0.85"/>
<line x1="166.9" y1="118.8" x2="191.3" y2="118.8" stroke="#666" stroke-width="0.85" stroke-linecap="butt"/>
<line x1="178.1" y1="173" x2="181.4" y2="173" stroke="#111" stroke-width="1.3" stroke-linecap="butt"/>
<text transform="translate(94.4 244.6) scale(0.935 1)" font-size="9.95" font-weight="bold" text-anchor="middle" fill="#111" stroke="#111" stroke-width="0.12">Bone marrow</text>
<text transform="translate(60.6 258.2) scale(0.935 1)" font-size="9.95" font-weight="bold" text-anchor="middle" fill="#111" stroke="#111" stroke-width="0.12">PMNs</text>
<text transform="translate(128.1 258.2) scale(0.935 1)" font-size="9.95" font-weight="bold" text-anchor="middle" fill="#111" stroke="#111" stroke-width="0.12">IMs</text>
<text transform="translate(236.2 244.6) scale(0.935 1)" font-size="9.95" font-weight="bold" text-anchor="middle" fill="#111" stroke="#111" stroke-width="0.12">Spleen</text>
<text transform="translate(204.8 258.2) scale(0.935 1)" font-size="9.95" font-weight="bold" text-anchor="middle" fill="#111" stroke="#111" stroke-width="0.12">PMNs</text>
<text transform="translate(267 258.2) scale(0.935 1)" font-size="9.95" font-weight="bold" text-anchor="middle" fill="#111" stroke="#111" stroke-width="0.12">IMs</text>
<line x1="47.7" y1="272.4" x2="47.7" y2="363.05" stroke="#000" stroke-width="1.1" stroke-linecap="butt"/>
<line x1="44.3" y1="362.5" x2="47.7" y2="362.5" stroke="#000" stroke-width="1.0" stroke-linecap="butt"/>
<text transform="translate(40.7 365.95) scale(0.92 1)" font-size="8.48" text-anchor="end" fill="#111" stroke="#111" stroke-width="0.22">20</text>
<line x1="44.3" y1="333.5" x2="47.7" y2="333.5" stroke="#000" stroke-width="1.0" stroke-linecap="butt"/>
<text transform="translate(40.7 336.95) scale(0.92 1)" font-size="8.48" text-anchor="end" fill="#111" stroke="#111" stroke-width="0.22">30</text>
<line x1="44.3" y1="304.5" x2="47.7" y2="304.5" stroke="#000" stroke-width="1.0" stroke-linecap="butt"/>
<text transform="translate(40.7 307.95) scale(0.92 1)" font-size="8.48" text-anchor="end" fill="#111" stroke="#111" stroke-width="0.22">40</text>
<line x1="44.3" y1="275.5" x2="47.7" y2="275.5" stroke="#000" stroke-width="1.0" stroke-linecap="butt"/>
<text transform="translate(40.7 278.95) scale(0.92 1)" font-size="8.48" text-anchor="end" fill="#111" stroke="#111" stroke-width="0.22">50</text>
<line x1="45.9" y1="348" x2="47.7" y2="348" stroke="#000" stroke-width="0.9" stroke-linecap="butt"/>
<line x1="45.9" y1="319" x2="47.7" y2="319" stroke="#000" stroke-width="0.9" stroke-linecap="butt"/>
<line x1="45.9" y1="290" x2="47.7" y2="290" stroke="#000" stroke-width="0.9" stroke-linecap="butt"/>
<line x1="46.95" y1="362.5" x2="73.8" y2="362.5" stroke="#000" stroke-width="1.1" stroke-linecap="butt"/>
<line x1="53.8" y1="362.5" x2="53.8" y2="366.1" stroke="#000" stroke-width="1.0" stroke-linecap="butt"/>
<text transform="translate(57.3 373.4) rotate(-45) scale(0.95 1)" font-size="8.3" text-anchor="end" fill="#111" stroke="#111" stroke-width="0.22">CNV</text>
<line x1="66.6" y1="362.5" x2="66.6" y2="366.1" stroke="#000" stroke-width="1.0" stroke-linecap="butt"/>
<text transform="translate(70.1 373.4) rotate(-45) scale(0.95 1)" font-size="8.3" text-anchor="end" fill="#111" stroke="#111" stroke-width="0.22">GF</text>
<text transform="translate(25.6 318.8) rotate(-90) scale(0.935 1)" font-size="8.77" font-weight="bold" text-anchor="middle" fill="#111" stroke="#111" stroke-width="0.12">Cells (%)</text>
<line x1="48.8" y1="295" x2="58.8" y2="295" stroke="#000" stroke-width="1.1" stroke-linecap="butt"/>
<line x1="62" y1="322" x2="72" y2="322" stroke="#000" stroke-width="1.1" stroke-linecap="butt"/>
<circle cx="54.3" cy="285.5" r="2.25" fill="#000"/>
<circle cx="57" cy="290.5" r="2.25" fill="#000"/>
<circle cx="55.5" cy="297.5" r="2.25" fill="#000"/>
<circle cx="54.3" cy="302.5" r="2.25" fill="#000"/>
<circle cx="53.8" cy="310" r="2.25" fill="#000"/>
<circle cx="66.8" cy="310.8" r="1.63" fill="#fff" stroke="#000" stroke-width="1.2"/>
<circle cx="66.8" cy="317.5" r="1.63" fill="#fff" stroke="#000" stroke-width="1.2"/>
<circle cx="64.3" cy="322" r="1.63" fill="#fff" stroke="#000" stroke-width="1.2"/>
<circle cx="66.3" cy="324.6" r="1.63" fill="#fff" stroke="#000" stroke-width="1.2"/>
<circle cx="66.8" cy="349" r="1.63" fill="#fff" stroke="#000" stroke-width="1.2"/>
<path d="M53.8 275.2V272.4H67V275.2" fill="none" stroke="#000" stroke-width="1.15"/>
<text transform="translate(60.7 273) scale(1 1)" font-size="8" font-weight="bold" text-anchor="middle" fill="#111" stroke="#111" stroke-width="0.12" letter-spacing="0.55">**</text>
<line x1="115.8" y1="272.4" x2="115.8" y2="363.05" stroke="#000" stroke-width="1.1" stroke-linecap="butt"/>
<line x1="112.4" y1="362.5" x2="115.8" y2="362.5" stroke="#000" stroke-width="1.0" stroke-linecap="butt"/>
<text transform="translate(108.8 365.95) scale(0.92 1)" font-size="8.48" text-anchor="end" fill="#111" stroke="#111" stroke-width="0.22">4</text>
<line x1="112.4" y1="333.5" x2="115.8" y2="333.5" stroke="#000" stroke-width="1.0" stroke-linecap="butt"/>
<text transform="translate(108.8 336.95) scale(0.92 1)" font-size="8.48" text-anchor="end" fill="#111" stroke="#111" stroke-width="0.22">6</text>
<line x1="112.4" y1="304.5" x2="115.8" y2="304.5" stroke="#000" stroke-width="1.0" stroke-linecap="butt"/>
<text transform="translate(108.8 307.95) scale(0.92 1)" font-size="8.48" text-anchor="end" fill="#111" stroke="#111" stroke-width="0.22">8</text>
<line x1="112.4" y1="275.5" x2="115.8" y2="275.5" stroke="#000" stroke-width="1.0" stroke-linecap="butt"/>
<text transform="translate(108.8 278.95) scale(0.92 1)" font-size="8.48" text-anchor="end" fill="#111" stroke="#111" stroke-width="0.22">10</text>
<line x1="114" y1="348" x2="115.8" y2="348" stroke="#000" stroke-width="0.9" stroke-linecap="butt"/>
<line x1="114" y1="319" x2="115.8" y2="319" stroke="#000" stroke-width="0.9" stroke-linecap="butt"/>
<line x1="114" y1="290" x2="115.8" y2="290" stroke="#000" stroke-width="0.9" stroke-linecap="butt"/>
<line x1="115.25" y1="362.5" x2="141.8" y2="362.5" stroke="#000" stroke-width="1.1" stroke-linecap="butt"/>
<line x1="122" y1="362.5" x2="122" y2="366.1" stroke="#000" stroke-width="1.0" stroke-linecap="butt"/>
<text transform="translate(125.5 373.4) rotate(-45) scale(0.95 1)" font-size="8.3" text-anchor="end" fill="#111" stroke="#111" stroke-width="0.22">CNV</text>
<line x1="134.5" y1="362.5" x2="134.5" y2="366.1" stroke="#000" stroke-width="1.0" stroke-linecap="butt"/>
<text transform="translate(138 373.4) rotate(-45) scale(0.95 1)" font-size="8.3" text-anchor="end" fill="#111" stroke="#111" stroke-width="0.22">GF</text>
<text transform="translate(93.2 318.8) rotate(-90) scale(0.935 1)" font-size="8.77" font-weight="bold" text-anchor="middle" fill="#111" stroke="#111" stroke-width="0.12">Cells (%)</text>
<line x1="117" y1="295.5" x2="127" y2="295.5" stroke="#000" stroke-width="1.1" stroke-linecap="butt"/>
<line x1="129.5" y1="300" x2="140" y2="300" stroke="#000" stroke-width="1.1" stroke-linecap="butt"/>
<circle cx="124.5" cy="289" r="2.25" fill="#000"/>
<circle cx="121.8" cy="290" r="2.25" fill="#000"/>
<circle cx="123.3" cy="295.5" r="2.25" fill="#000"/>
<circle cx="124.5" cy="298" r="2.25" fill="#000"/>
<circle cx="121.8" cy="302" r="2.25" fill="#000"/>
<circle cx="132.5" cy="297.5" r="1.63" fill="#fff" stroke="#000" stroke-width="1.2"/>
<circle cx="136.3" cy="297.5" r="1.63" fill="#fff" stroke="#000" stroke-width="1.2"/>
<circle cx="134.3" cy="300.5" r="1.63" fill="#fff" stroke="#000" stroke-width="1.2"/>
<circle cx="134.3" cy="309.5" r="1.63" fill="#fff" stroke="#000" stroke-width="1.2"/>
<circle cx="134.3" cy="332.5" r="1.63" fill="#fff" stroke="#000" stroke-width="1.2"/>
<path d="M121.3 275V272.2H134.5V275" fill="none" stroke="#000" stroke-width="1.15"/>
<text transform="translate(127.9 270.2) scale(0.92 1)" font-size="8.06" text-anchor="middle" fill="#111" stroke="#111" stroke-width="0.22">NS</text>
<line x1="192" y1="272.4" x2="192" y2="363.05" stroke="#000" stroke-width="1.1" stroke-linecap="butt"/>
<line x1="188.6" y1="362.5" x2="192" y2="362.5" stroke="#000" stroke-width="1.0" stroke-linecap="butt"/>
<text transform="translate(185 365.95) scale(0.92 1)" font-size="8.48" text-anchor="end" fill="#111" stroke="#111" stroke-width="0.22">0</text>
<line x1="188.6" y1="333.5" x2="192" y2="333.5" stroke="#000" stroke-width="1.0" stroke-linecap="butt"/>
<text transform="translate(185 336.95) scale(0.92 1)" font-size="8.48" text-anchor="end" fill="#111" stroke="#111" stroke-width="0.22">1</text>
<line x1="188.6" y1="304.5" x2="192" y2="304.5" stroke="#000" stroke-width="1.0" stroke-linecap="butt"/>
<text transform="translate(185 307.95) scale(0.92 1)" font-size="8.48" text-anchor="end" fill="#111" stroke="#111" stroke-width="0.22">2</text>
<line x1="188.6" y1="275.5" x2="192" y2="275.5" stroke="#000" stroke-width="1.0" stroke-linecap="butt"/>
<text transform="translate(185 278.95) scale(0.92 1)" font-size="8.48" text-anchor="end" fill="#111" stroke="#111" stroke-width="0.22">3</text>
<line x1="190.2" y1="348" x2="192" y2="348" stroke="#000" stroke-width="0.9" stroke-linecap="butt"/>
<line x1="190.2" y1="319" x2="192" y2="319" stroke="#000" stroke-width="0.9" stroke-linecap="butt"/>
<line x1="190.2" y1="290" x2="192" y2="290" stroke="#000" stroke-width="0.9" stroke-linecap="butt"/>
<line x1="191.45" y1="362.5" x2="217.6" y2="362.5" stroke="#000" stroke-width="1.1" stroke-linecap="butt"/>
<line x1="198.3" y1="362.5" x2="198.3" y2="366.1" stroke="#000" stroke-width="1.0" stroke-linecap="butt"/>
<text transform="translate(201.8 373.4) rotate(-45) scale(0.95 1)" font-size="8.3" text-anchor="end" fill="#111" stroke="#111" stroke-width="0.22">CNV</text>
<line x1="211.3" y1="362.5" x2="211.3" y2="366.1" stroke="#000" stroke-width="1.0" stroke-linecap="butt"/>
<text transform="translate(214.8 373.4) rotate(-45) scale(0.95 1)" font-size="8.3" text-anchor="end" fill="#111" stroke="#111" stroke-width="0.22">GF</text>
<text transform="translate(174.4 318.8) rotate(-90) scale(0.935 1)" font-size="8.77" font-weight="bold" text-anchor="middle" fill="#111" stroke="#111" stroke-width="0.12">Cells (%)</text>
<line x1="193.8" y1="293.8" x2="203.5" y2="293.8" stroke="#000" stroke-width="1.1" stroke-linecap="butt"/>
<line x1="207.5" y1="329.3" x2="216.3" y2="329.3" stroke="#000" stroke-width="1.1" stroke-linecap="butt"/>
<circle cx="195.8" cy="281.3" r="2.25" fill="#000"/>
<circle cx="198.8" cy="284.5" r="2.25" fill="#000"/>
<circle cx="198.8" cy="293.8" r="2.25" fill="#000"/>
<circle cx="198.8" cy="308" r="2.25" fill="#000"/>
<circle cx="198.6" cy="318.2" r="2.25" fill="#000"/>
<circle cx="210.8" cy="308" r="1.63" fill="#fff" stroke="#000" stroke-width="1.2"/>
<circle cx="210.8" cy="328.3" r="1.63" fill="#fff" stroke="#000" stroke-width="1.2"/>
<circle cx="214.3" cy="330.8" r="1.63" fill="#fff" stroke="#000" stroke-width="1.2"/>
<circle cx="213.8" cy="334.5" r="1.63" fill="#fff" stroke="#000" stroke-width="1.2"/>
<circle cx="210.5" cy="335.8" r="1.63" fill="#fff" stroke="#000" stroke-width="1.2"/>
<path d="M198.3 275V272.2H211.3V275" fill="none" stroke="#000" stroke-width="1.15"/>
<text transform="translate(205.1 273.3) scale(1 1)" font-size="8" font-weight="bold" text-anchor="middle" fill="#111" stroke="#111" stroke-width="0.12" letter-spacing="0.55">**</text>
<line x1="254.4" y1="272.4" x2="254.4" y2="363.05" stroke="#000" stroke-width="1.1" stroke-linecap="butt"/>
<line x1="251" y1="362.5" x2="254.4" y2="362.5" stroke="#000" stroke-width="1.0" stroke-linecap="butt"/>
<text transform="translate(247.4 365.95) scale(0.92 1)" font-size="8.48" text-anchor="end" fill="#111" stroke="#111" stroke-width="0.22">0</text>
<line x1="251" y1="345.1" x2="254.4" y2="345.1" stroke="#000" stroke-width="1.0" stroke-linecap="butt"/>
<text transform="translate(247.4 348.55) scale(0.92 1)" font-size="8.48" text-anchor="end" fill="#111" stroke="#111" stroke-width="0.22">1</text>
<line x1="251" y1="327.7" x2="254.4" y2="327.7" stroke="#000" stroke-width="1.0" stroke-linecap="butt"/>
<text transform="translate(247.4 331.15) scale(0.92 1)" font-size="8.48" text-anchor="end" fill="#111" stroke="#111" stroke-width="0.22">2</text>
<line x1="251" y1="310.3" x2="254.4" y2="310.3" stroke="#000" stroke-width="1.0" stroke-linecap="butt"/>
<text transform="translate(247.4 313.75) scale(0.92 1)" font-size="8.48" text-anchor="end" fill="#111" stroke="#111" stroke-width="0.22">3</text>
<line x1="251" y1="292.9" x2="254.4" y2="292.9" stroke="#000" stroke-width="1.0" stroke-linecap="butt"/>
<text transform="translate(247.4 296.35) scale(0.92 1)" font-size="8.48" text-anchor="end" fill="#111" stroke="#111" stroke-width="0.22">4</text>
<line x1="251" y1="275.5" x2="254.4" y2="275.5" stroke="#000" stroke-width="1.0" stroke-linecap="butt"/>
<text transform="translate(247.4 278.95) scale(0.92 1)" font-size="8.48" text-anchor="end" fill="#111" stroke="#111" stroke-width="0.22">5</text>
<line x1="252.6" y1="353.8" x2="254.4" y2="353.8" stroke="#000" stroke-width="0.9" stroke-linecap="butt"/>
<line x1="252.6" y1="336.4" x2="254.4" y2="336.4" stroke="#000" stroke-width="0.9" stroke-linecap="butt"/>
<line x1="252.6" y1="319" x2="254.4" y2="319" stroke="#000" stroke-width="0.9" stroke-linecap="butt"/>
<line x1="252.6" y1="301.6" x2="254.4" y2="301.6" stroke="#000" stroke-width="0.9" stroke-linecap="butt"/>
<line x1="252.6" y1="284.2" x2="254.4" y2="284.2" stroke="#000" stroke-width="0.9" stroke-linecap="butt"/>
<line x1="253.85" y1="362.5" x2="279.6" y2="362.5" stroke="#000" stroke-width="1.1" stroke-linecap="butt"/>
<line x1="260.5" y1="362.5" x2="260.5" y2="366.1" stroke="#000" stroke-width="1.0" stroke-linecap="butt"/>
<text transform="translate(264 373.4) rotate(-45) scale(0.95 1)" font-size="8.3" text-anchor="end" fill="#111" stroke="#111" stroke-width="0.22">CNV</text>
<line x1="273.4" y1="362.5" x2="273.4" y2="366.1" stroke="#000" stroke-width="1.0" stroke-linecap="butt"/>
<text transform="translate(276.9 373.4) rotate(-45) scale(0.95 1)" font-size="8.3" text-anchor="end" fill="#111" stroke="#111" stroke-width="0.22">GF</text>
<text transform="translate(237.2 318.8) rotate(-90) scale(0.935 1)" font-size="8.77" font-weight="bold" text-anchor="middle" fill="#111" stroke="#111" stroke-width="0.12">Cells (%)</text>
<line x1="256.3" y1="292.6" x2="266.3" y2="292.6" stroke="#000" stroke-width="1.1" stroke-linecap="butt"/>
<line x1="268.6" y1="324" x2="278.4" y2="324" stroke="#000" stroke-width="1.1" stroke-linecap="butt"/>
<circle cx="258.3" cy="292" r="2.25" fill="#000"/>
<circle cx="260.8" cy="293" r="2.25" fill="#000"/>
<circle cx="263.8" cy="292" r="2.25" fill="#000"/>
<circle cx="260.8" cy="312.5" r="2.25" fill="#000"/>
<circle cx="260.8" cy="328.3" r="2.25" fill="#000"/>
<circle cx="273.8" cy="316.3" r="1.63" fill="#fff" stroke="#000" stroke-width="1.2"/>
<circle cx="270.8" cy="324" r="1.63" fill="#fff" stroke="#000" stroke-width="1.2"/>
<circle cx="276.1" cy="322.6" r="1.63" fill="#fff" stroke="#000" stroke-width="1.2"/>
<circle cx="273.6" cy="327.1" r="1.63" fill="#fff" stroke="#000" stroke-width="1.2"/>
<circle cx="273.8" cy="332.7" r="1.63" fill="#fff" stroke="#000" stroke-width="1.2"/>
<line x1="268.8" y1="324.2" x2="271.6" y2="324.2" stroke="#000" stroke-width="1.6" stroke-linecap="butt"/>
<path d="M260.5 275V272.2H273.8V275" fill="none" stroke="#000" stroke-width="1.15"/>
<text transform="translate(267.45 273.7) scale(1 1)" font-size="8" font-weight="bold" text-anchor="middle" fill="#111" stroke="#111" stroke-width="0.12" letter-spacing="0.55">*</text>
<text transform="translate(94.4 422.6) scale(0.935 1)" font-size="9.95" font-weight="bold" text-anchor="middle" fill="#111" stroke="#111" stroke-width="0.12">Bone marrow</text>
<text transform="translate(60.6 435) scale(0.935 1)" font-size="9.95" font-weight="bold" text-anchor="middle" fill="#111" stroke="#111" stroke-width="0.12">PMNs</text>
<text transform="translate(128.1 435) scale(0.935 1)" font-size="9.95" font-weight="bold" text-anchor="middle" fill="#111" stroke="#111" stroke-width="0.12">IMs</text>
<text transform="translate(236.2 422.6) scale(0.935 1)" font-size="9.95" font-weight="bold" text-anchor="middle" fill="#111" stroke="#111" stroke-width="0.12">Spleen</text>
<text transform="translate(204.8 435) scale(0.935 1)" font-size="9.95" font-weight="bold" text-anchor="middle" fill="#111" stroke="#111" stroke-width="0.12">PMNs</text>
<text transform="translate(267 435) scale(0.935 1)" font-size="9.95" font-weight="bold" text-anchor="middle" fill="#111" stroke="#111" stroke-width="0.12">IMs</text>
<line x1="47.5" y1="450" x2="47.5" y2="541.35" stroke="#000" stroke-width="1.1" stroke-linecap="butt"/>
<line x1="44.1" y1="540.8" x2="47.5" y2="540.8" stroke="#000" stroke-width="1.0" stroke-linecap="butt"/>
<text transform="translate(40.5 543.55) scale(0.92 1)" font-size="8.48" text-anchor="end" fill="#111" stroke="#111" stroke-width="0.22">0</text>
<line x1="44.1" y1="515.87" x2="47.5" y2="515.87" stroke="#000" stroke-width="1.0" stroke-linecap="butt"/>
<text transform="translate(40.5 518.62) scale(0.92 1)" font-size="8.48" text-anchor="end" fill="#111" stroke="#111" stroke-width="0.22">10</text>
<line x1="44.1" y1="490.94" x2="47.5" y2="490.94" stroke="#000" stroke-width="1.0" stroke-linecap="butt"/>
<text transform="translate(40.5 493.69) scale(0.92 1)" font-size="8.48" text-anchor="end" fill="#111" stroke="#111" stroke-width="0.22">20</text>
<line x1="44.1" y1="466.01" x2="47.5" y2="466.01" stroke="#000" stroke-width="1.0" stroke-linecap="butt"/>
<text transform="translate(40.5 468.76) scale(0.92 1)" font-size="8.48" text-anchor="end" fill="#111" stroke="#111" stroke-width="0.22">30</text>
<line x1="45.7" y1="528.33" x2="47.5" y2="528.33" stroke="#000" stroke-width="0.9" stroke-linecap="butt"/>
<line x1="45.7" y1="503.4" x2="47.5" y2="503.4" stroke="#000" stroke-width="0.9" stroke-linecap="butt"/>
<line x1="45.7" y1="478.47" x2="47.5" y2="478.47" stroke="#000" stroke-width="0.9" stroke-linecap="butt"/>
<line x1="45.7" y1="453.54" x2="47.5" y2="453.54" stroke="#000" stroke-width="0.9" stroke-linecap="butt"/>
<line x1="54.4" y1="464.3" x2="54.4" y2="467.26" stroke="#000" stroke-width="1.0" stroke-linecap="butt"/>
<line x1="51.67" y1="464.3" x2="57.13" y2="464.3" stroke="#000" stroke-width="1.0" stroke-linecap="butt"/>
<rect x="50" y="467.26" width="8.8" height="73.54" fill="#000" stroke="none" stroke-width="1"/>
<line x1="67.15" y1="487" x2="67.15" y2="496.67" stroke="#000" stroke-width="1.0" stroke-linecap="butt"/>
<line x1="64.27" y1="487" x2="70.03" y2="487" stroke="#000" stroke-width="1.0" stroke-linecap="butt"/>
<rect x="63.1" y="497.27" width="8.1" height="43.53" fill="#fff" stroke="#000" stroke-width="1.2"/>
<line x1="46.95" y1="540.8" x2="73.8" y2="540.8" stroke="#000" stroke-width="1.1" stroke-linecap="butt"/>
<line x1="53.8" y1="540.8" x2="53.8" y2="544.4" stroke="#000" stroke-width="1.0" stroke-linecap="butt"/>
<text transform="translate(57.3 551.7) rotate(-45) scale(0.95 1)" font-size="8.3" text-anchor="end" fill="#111" stroke="#111" stroke-width="0.22">CNV</text>
<line x1="67" y1="540.8" x2="67" y2="544.4" stroke="#000" stroke-width="1.0" stroke-linecap="butt"/>
<text transform="translate(70.5 551.7) rotate(-45) scale(0.95 1)" font-size="8.3" text-anchor="end" fill="#111" stroke="#111" stroke-width="0.22">GF</text>
<text transform="translate(25.6 496) rotate(-90) scale(0.935 1)" font-size="8.77" font-weight="bold" text-anchor="middle" fill="#111" stroke="#111" stroke-width="0.12">% Viable</text>
<path d="M53.8 452.1V449.3H67V452.1" fill="none" stroke="#000" stroke-width="1.15"/>
<text transform="translate(60.7 449.7) scale(1 1)" font-size="8" font-weight="bold" text-anchor="middle" fill="#111" stroke="#111" stroke-width="0.12" letter-spacing="0.55">*</text>
<line x1="115.8" y1="450.6" x2="115.8" y2="541.35" stroke="#000" stroke-width="1.1" stroke-linecap="butt"/>
<line x1="112.4" y1="540.8" x2="115.8" y2="540.8" stroke="#000" stroke-width="1.0" stroke-linecap="butt"/>
<text transform="translate(108.8 543.55) scale(0.92 1)" font-size="8.48" text-anchor="end" fill="#111" stroke="#111" stroke-width="0.22">40</text>
<line x1="112.4" y1="519.05" x2="115.8" y2="519.05" stroke="#000" stroke-width="1.0" stroke-linecap="butt"/>
<text transform="translate(108.8 521.8) scale(0.92 1)" font-size="8.48" text-anchor="end" fill="#111" stroke="#111" stroke-width="0.22">45</text>
<line x1="112.4" y1="497.3" x2="115.8" y2="497.3" stroke="#000" stroke-width="1.0" stroke-linecap="butt"/>
<text transform="translate(108.8 500.05) scale(0.92 1)" font-size="8.48" text-anchor="end" fill="#111" stroke="#111" stroke-width="0.22">50</text>
<line x1="112.4" y1="475.55" x2="115.8" y2="475.55" stroke="#000" stroke-width="1.0" stroke-linecap="butt"/>
<text transform="translate(108.8 478.3) scale(0.92 1)" font-size="8.48" text-anchor="end" fill="#111" stroke="#111" stroke-width="0.22">55</text>
<line x1="112.4" y1="453.8" x2="115.8" y2="453.8" stroke="#000" stroke-width="1.0" stroke-linecap="butt"/>
<text transform="translate(108.8 456.55) scale(0.92 1)" font-size="8.48" text-anchor="end" fill="#111" stroke="#111" stroke-width="0.22">60</text>
<line x1="114" y1="529.92" x2="115.8" y2="529.92" stroke="#000" stroke-width="0.9" stroke-linecap="butt"/>
<line x1="114" y1="508.17" x2="115.8" y2="508.17" stroke="#000" stroke-width="0.9" stroke-linecap="butt"/>
<line x1="114" y1="486.42" x2="115.8" y2="486.42" stroke="#000" stroke-width="0.9" stroke-linecap="butt"/>
<line x1="114" y1="464.67" x2="115.8" y2="464.67" stroke="#000" stroke-width="0.9" stroke-linecap="butt"/>
<line x1="121.9" y1="467" x2="121.9" y2="475" stroke="#000" stroke-width="1.0" stroke-linecap="butt"/>
<line x1="119.17" y1="467" x2="124.63" y2="467" stroke="#000" stroke-width="1.0" stroke-linecap="butt"/>
<rect x="117.5" y="475" width="8.8" height="65.8" fill="#000" stroke="none" stroke-width="1"/>
<line x1="134.75" y1="503.8" x2="134.75" y2="508" stroke="#000" stroke-width="1.0" stroke-linecap="butt"/>
<line x1="131.81" y1="503.8" x2="137.69" y2="503.8" stroke="#000" stroke-width="1.0" stroke-linecap="butt"/>
<rect x="130.6" y="508.6" width="8.3" height="32.2" fill="#fff" stroke="#000" stroke-width="1.2"/>
<line x1="115.25" y1="540.8" x2="141.5" y2="540.8" stroke="#000" stroke-width="1.1" stroke-linecap="butt"/>
<line x1="122" y1="540.8" x2="122" y2="544.4" stroke="#000" stroke-width="1.0" stroke-linecap="butt"/>
<text transform="translate(125.5 551.7) rotate(-45) scale(0.95 1)" font-size="8.3" text-anchor="end" fill="#111" stroke="#111" stroke-width="0.22">CNV</text>
<line x1="134.5" y1="540.8" x2="134.5" y2="544.4" stroke="#000" stroke-width="1.0" stroke-linecap="butt"/>
<text transform="translate(138 551.7) rotate(-45) scale(0.95 1)" font-size="8.3" text-anchor="end" fill="#111" stroke="#111" stroke-width="0.22">GF</text>
<text transform="translate(93.2 496) rotate(-90) scale(0.935 1)" font-size="8.77" font-weight="bold" text-anchor="middle" fill="#111" stroke="#111" stroke-width="0.12">% Viable</text>
<path d="M121.3 452.1V449.3H134.5V452.1" fill="none" stroke="#000" stroke-width="1.15"/>
<text transform="translate(128.2 450.4) scale(1 1)" font-size="8" font-weight="bold" text-anchor="middle" fill="#111" stroke="#111" stroke-width="0.12" letter-spacing="0.55">**</text>
<line x1="192" y1="450" x2="192" y2="541.35" stroke="#000" stroke-width="1.1" stroke-linecap="butt"/>
<line x1="188.6" y1="540.8" x2="192" y2="540.8" stroke="#000" stroke-width="1.0" stroke-linecap="butt"/>
<text transform="translate(185 543.55) scale(0.92 1)" font-size="8.48" text-anchor="end" fill="#111" stroke="#111" stroke-width="0.22">0</text>
<line x1="188.6" y1="515.87" x2="192" y2="515.87" stroke="#000" stroke-width="1.0" stroke-linecap="butt"/>
<text transform="translate(185 518.62) scale(0.92 1)" font-size="8.48" text-anchor="end" fill="#111" stroke="#111" stroke-width="0.22">10</text>
<line x1="188.6" y1="490.94" x2="192" y2="490.94" stroke="#000" stroke-width="1.0" stroke-linecap="butt"/>
<text transform="translate(185 493.69) scale(0.92 1)" font-size="8.48" text-anchor="end" fill="#111" stroke="#111" stroke-width="0.22">20</text>
<line x1="188.6" y1="466.01" x2="192" y2="466.01" stroke="#000" stroke-width="1.0" stroke-linecap="butt"/>
<text transform="translate(185 468.76) scale(0.92 1)" font-size="8.48" text-anchor="end" fill="#111" stroke="#111" stroke-width="0.22">30</text>
<line x1="190.2" y1="528.33" x2="192" y2="528.33" stroke="#000" stroke-width="0.9" stroke-linecap="butt"/>
<line x1="190.2" y1="503.4" x2="192" y2="503.4" stroke="#000" stroke-width="0.9" stroke-linecap="butt"/>
<line x1="190.2" y1="478.47" x2="192" y2="478.47" stroke="#000" stroke-width="0.9" stroke-linecap="butt"/>
<line x1="190.2" y1="453.54" x2="192" y2="453.54" stroke="#000" stroke-width="0.9" stroke-linecap="butt"/>
<line x1="198.4" y1="526.3" x2="198.4" y2="528.8" stroke="#000" stroke-width="1.0" stroke-linecap="butt"/>
<line x1="195.55" y1="526.3" x2="201.25" y2="526.3" stroke="#000" stroke-width="1.0" stroke-linecap="butt"/>
<rect x="193.8" y="528.8" width="9.2" height="12" fill="#000" stroke="none" stroke-width="1"/>
<line x1="211.55" y1="529.5" x2="211.55" y2="532.5" stroke="#000" stroke-width="1.0" stroke-linecap="butt"/>
<line x1="208.61" y1="529.5" x2="214.5" y2="529.5" stroke="#000" stroke-width="1.0" stroke-linecap="butt"/>
<rect x="207.4" y="533.1" width="8.3" height="7.7" fill="#fff" stroke="#000" stroke-width="1.2"/>
<line x1="191.45" y1="540.8" x2="217.6" y2="540.8" stroke="#000" stroke-width="1.1" stroke-linecap="butt"/>
<line x1="198.3" y1="540.8" x2="198.3" y2="544.4" stroke="#000" stroke-width="1.0" stroke-linecap="butt"/>
<text transform="translate(201.8 551.7) rotate(-45) scale(0.95 1)" font-size="8.3" text-anchor="end" fill="#111" stroke="#111" stroke-width="0.22">CNV</text>
<line x1="211.3" y1="540.8" x2="211.3" y2="544.4" stroke="#000" stroke-width="1.0" stroke-linecap="butt"/>
<text transform="translate(214.8 551.7) rotate(-45) scale(0.95 1)" font-size="8.3" text-anchor="end" fill="#111" stroke="#111" stroke-width="0.22">GF</text>
<text transform="translate(169.8 496) rotate(-90) scale(0.935 1)" font-size="8.77" font-weight="bold" text-anchor="middle" fill="#111" stroke="#111" stroke-width="0.12">% Viable</text>
<line x1="254.4" y1="450" x2="254.4" y2="541.35" stroke="#000" stroke-width="1.1" stroke-linecap="butt"/>
<line x1="251" y1="540.8" x2="254.4" y2="540.8" stroke="#000" stroke-width="1.0" stroke-linecap="butt"/>
<text transform="translate(247.4 543.55) scale(0.92 1)" font-size="8.48" text-anchor="end" fill="#111" stroke="#111" stroke-width="0.22">0</text>
<line x1="251" y1="515.87" x2="254.4" y2="515.87" stroke="#000" stroke-width="1.0" stroke-linecap="butt"/>
<text transform="translate(247.4 518.62) scale(0.92 1)" font-size="8.48" text-anchor="end" fill="#111" stroke="#111" stroke-width="0.22">10</text>
<line x1="251" y1="490.94" x2="254.4" y2="490.94" stroke="#000" stroke-width="1.0" stroke-linecap="butt"/>
<text transform="translate(247.4 493.69) scale(0.92 1)" font-size="8.48" text-anchor="end" fill="#111" stroke="#111" stroke-width="0.22">20</text>
<line x1="251" y1="466.01" x2="254.4" y2="466.01" stroke="#000" stroke-width="1.0" stroke-linecap="butt"/>
<text transform="translate(247.4 468.76) scale(0.92 1)" font-size="8.48" text-anchor="end" fill="#111" stroke="#111" stroke-width="0.22">30</text>
<line x1="252.6" y1="528.33" x2="254.4" y2="528.33" stroke="#000" stroke-width="0.9" stroke-linecap="butt"/>
<line x1="252.6" y1="503.4" x2="254.4" y2="503.4" stroke="#000" stroke-width="0.9" stroke-linecap="butt"/>
<line x1="252.6" y1="478.47" x2="254.4" y2="478.47" stroke="#000" stroke-width="0.9" stroke-linecap="butt"/>
<line x1="252.6" y1="453.54" x2="254.4" y2="453.54" stroke="#000" stroke-width="0.9" stroke-linecap="butt"/>
<line x1="260.9" y1="478.8" x2="260.9" y2="486.3" stroke="#000" stroke-width="1.0" stroke-linecap="butt"/>
<line x1="258.05" y1="478.8" x2="263.75" y2="478.8" stroke="#000" stroke-width="1.0" stroke-linecap="butt"/>
<rect x="256.3" y="486.3" width="9.2" height="54.5" fill="#000" stroke="none" stroke-width="1"/>
<line x1="274.15" y1="502.5" x2="274.15" y2="510.8" stroke="#000" stroke-width="1.0" stroke-linecap="butt"/>
<line x1="271.27" y1="502.5" x2="277.03" y2="502.5" stroke="#000" stroke-width="1.0" stroke-linecap="butt"/>
<rect x="270.1" y="511.4" width="8.1" height="29.4" fill="#fff" stroke="#000" stroke-width="1.2"/>
<line x1="253.85" y1="540.8" x2="279.6" y2="540.8" stroke="#000" stroke-width="1.1" stroke-linecap="butt"/>
<line x1="260.5" y1="540.8" x2="260.5" y2="544.4" stroke="#000" stroke-width="1.0" stroke-linecap="butt"/>
<text transform="translate(264 551.7) rotate(-45) scale(0.95 1)" font-size="8.3" text-anchor="end" fill="#111" stroke="#111" stroke-width="0.22">CNV</text>
<line x1="273.6" y1="540.8" x2="273.6" y2="544.4" stroke="#000" stroke-width="1.0" stroke-linecap="butt"/>
<text transform="translate(277.1 551.7) rotate(-45) scale(0.95 1)" font-size="8.3" text-anchor="end" fill="#111" stroke="#111" stroke-width="0.22">GF</text>
<text transform="translate(232.4 496) rotate(-90) scale(0.935 1)" font-size="8.77" font-weight="bold" text-anchor="middle" fill="#111" stroke="#111" stroke-width="0.12">% Viable</text>
<path d="M260.5 452.1V449.3H273.8V452.1" fill="none" stroke="#000" stroke-width="1.15"/>
<text transform="translate(267.45 449.9) scale(1 1)" font-size="8" font-weight="bold" text-anchor="middle" fill="#111" stroke="#111" stroke-width="0.12" letter-spacing="0.55">*</text>
<text transform="translate(403.5 30) scale(0.935 1)" font-size="10.17" font-weight="bold" text-anchor="middle" fill="#111" stroke="#111" stroke-width="0.12">6 hours</text>
<text transform="translate(487.6 30) scale(0.935 1)" font-size="10.17" font-weight="bold" text-anchor="middle" fill="#111" stroke="#111" stroke-width="0.12">24 hours</text>
<line x1="381.2" y1="55.8" x2="381.2" y2="147.55" stroke="#000" stroke-width="1.1" stroke-linecap="butt"/>
<line x1="377.8" y1="147" x2="381.2" y2="147" stroke="#000" stroke-width="1.0" stroke-linecap="butt"/>
<text transform="translate(374.2 149.3) scale(0.92 1)" font-size="8.48" text-anchor="end" fill="#111" stroke="#111" stroke-width="0.22">0</text>
<line x1="377.8" y1="129.35" x2="381.2" y2="129.35" stroke="#000" stroke-width="1.0" stroke-linecap="butt"/>
<text transform="translate(374.2 131.65) scale(0.92 1)" font-size="8.48" text-anchor="end" fill="#111" stroke="#111" stroke-width="0.22">20</text>
<line x1="377.8" y1="111.7" x2="381.2" y2="111.7" stroke="#000" stroke-width="1.0" stroke-linecap="butt"/>
<text transform="translate(374.2 114) scale(0.92 1)" font-size="8.48" text-anchor="end" fill="#111" stroke="#111" stroke-width="0.22">40</text>
<line x1="377.8" y1="94.05" x2="381.2" y2="94.05" stroke="#000" stroke-width="1.0" stroke-linecap="butt"/>
<text transform="translate(374.2 96.35) scale(0.92 1)" font-size="8.48" text-anchor="end" fill="#111" stroke="#111" stroke-width="0.22">60</text>
<line x1="377.8" y1="76.4" x2="381.2" y2="76.4" stroke="#000" stroke-width="1.0" stroke-linecap="butt"/>
<text transform="translate(374.2 78.7) scale(0.92 1)" font-size="8.48" text-anchor="end" fill="#111" stroke="#111" stroke-width="0.22">80</text>
<line x1="377.8" y1="58.75" x2="381.2" y2="58.75" stroke="#000" stroke-width="1.0" stroke-linecap="butt"/>
<text transform="translate(374.2 61.05) scale(0.92 1)" font-size="8.48" text-anchor="end" fill="#111" stroke="#111" stroke-width="0.22">100</text>
<line x1="379.4" y1="138.18" x2="381.2" y2="138.18" stroke="#000" stroke-width="0.9" stroke-linecap="butt"/>
<line x1="379.4" y1="120.53" x2="381.2" y2="120.53" stroke="#000" stroke-width="0.9" stroke-linecap="butt"/>
<line x1="379.4" y1="102.88" x2="381.2" y2="102.88" stroke="#000" stroke-width="0.9" stroke-linecap="butt"/>
<line x1="379.4" y1="85.22" x2="381.2" y2="85.22" stroke="#000" stroke-width="0.9" stroke-linecap="butt"/>
<line x1="379.4" y1="67.58" x2="381.2" y2="67.58" stroke="#000" stroke-width="0.9" stroke-linecap="butt"/>
<line x1="388.8" y1="77.4" x2="388.8" y2="78" stroke="#000" stroke-width="1.0" stroke-linecap="butt"/>
<line x1="386.01" y1="77.4" x2="391.59" y2="77.4" stroke="#000" stroke-width="1.0" stroke-linecap="butt"/>
<rect x="384.3" y="78" width="9" height="69" fill="#000" stroke="none" stroke-width="1"/>
<line x1="403.3" y1="75.9" x2="403.3" y2="76.8" stroke="#000" stroke-width="1.0" stroke-linecap="butt"/>
<line x1="400.2" y1="75.9" x2="406.4" y2="75.9" stroke="#000" stroke-width="1.0" stroke-linecap="butt"/>
<rect x="398.9" y="77.4" width="8.8" height="69.6" fill="#fff" stroke="#000" stroke-width="1.2"/>
<line x1="417.9" y1="72.8" x2="417.9" y2="73.3" stroke="#3a3a3a" stroke-width="1.0" stroke-linecap="butt"/>
<line x1="415.05" y1="72.8" x2="420.75" y2="72.8" stroke="#3a3a3a" stroke-width="1.0" stroke-linecap="butt"/>
<rect x="413.3" y="73.3" width="9.2" height="73.7" fill="#808080" stroke="none" stroke-width="1"/>
<line x1="380.65" y1="147" x2="427" y2="147" stroke="#000" stroke-width="1.1" stroke-linecap="butt"/>
<line x1="388.8" y1="147" x2="388.8" y2="150.6" stroke="#000" stroke-width="1.0" stroke-linecap="butt"/>
<text transform="translate(392.3 157.9) rotate(-45) scale(0.95 1)" font-size="8.3" text-anchor="end" fill="#111" stroke="#111" stroke-width="0.22">CNV</text>
<line x1="403.3" y1="147" x2="403.3" y2="150.6" stroke="#000" stroke-width="1.0" stroke-linecap="butt"/>
<text transform="translate(406.8 157.9) rotate(-45) scale(0.95 1)" font-size="8.3" text-anchor="end" fill="#111" stroke="#111" stroke-width="0.22">ABX</text>
<line x1="418" y1="147" x2="418" y2="150.6" stroke="#000" stroke-width="1.0" stroke-linecap="butt"/>
<text transform="translate(421.5 157.9) rotate(-45) scale(0.95 1)" font-size="8.3" text-anchor="end" fill="#111" stroke="#111" stroke-width="0.22">NEO</text>
<path d="M388.8 57.3V54.5H418V57.3" fill="none" stroke="#000" stroke-width="1.15"/>
<line x1="403.3" y1="54.5" x2="403.3" y2="56.74" stroke="#000" stroke-width="1.0" stroke-linecap="butt"/>
<text transform="translate(403.4 52.5) scale(0.92 1)" font-size="8.06" text-anchor="middle" fill="#111" stroke="#111" stroke-width="0.22">NS</text>
<text transform="translate(338.4 101.5) rotate(-90) scale(0.935 1)" font-size="9.95" font-weight="bold" text-anchor="middle" fill="#111" stroke="#111" stroke-width="0.12">BM PMNs</text>
<text transform="translate(354.4 102.2) rotate(-90) scale(0.935 1)" font-size="8.88" font-weight="bold" text-anchor="middle" fill="#111" stroke="#111" stroke-width="0.12">% Viable</text>
<line x1="468.3" y1="56" x2="468.3" y2="147.55" stroke="#000" stroke-width="1.1" stroke-linecap="butt"/>
<line x1="464.9" y1="147" x2="468.3" y2="147" stroke="#000" stroke-width="1.0" stroke-linecap="butt"/>
<text transform="translate(461.3 149.3) scale(0.92 1)" font-size="8.48" text-anchor="end" fill="#111" stroke="#111" stroke-width="0.22">0</text>
<line x1="464.9" y1="121.6" x2="468.3" y2="121.6" stroke="#000" stroke-width="1.0" stroke-linecap="butt"/>
<text transform="translate(461.3 123.9) scale(0.92 1)" font-size="8.48" text-anchor="end" fill="#111" stroke="#111" stroke-width="0.22">10</text>
<line x1="464.9" y1="96.2" x2="468.3" y2="96.2" stroke="#000" stroke-width="1.0" stroke-linecap="butt"/>
<text transform="translate(461.3 98.5) scale(0.92 1)" font-size="8.48" text-anchor="end" fill="#111" stroke="#111" stroke-width="0.22">20</text>
<line x1="464.9" y1="70.8" x2="468.3" y2="70.8" stroke="#000" stroke-width="1.0" stroke-linecap="butt"/>
<text transform="translate(461.3 73.1) scale(0.92 1)" font-size="8.48" text-anchor="end" fill="#111" stroke="#111" stroke-width="0.22">30</text>
<line x1="466.5" y1="134.3" x2="468.3" y2="134.3" stroke="#000" stroke-width="0.9" stroke-linecap="butt"/>
<line x1="466.5" y1="108.9" x2="468.3" y2="108.9" stroke="#000" stroke-width="0.9" stroke-linecap="butt"/>
<line x1="466.5" y1="83.5" x2="468.3" y2="83.5" stroke="#000" stroke-width="0.9" stroke-linecap="butt"/>
<line x1="475.9" y1="65.8" x2="475.9" y2="70" stroke="#000" stroke-width="1.0" stroke-linecap="butt"/>
<line x1="473.05" y1="65.8" x2="478.75" y2="65.8" stroke="#000" stroke-width="1.0" stroke-linecap="butt"/>
<rect x="471.3" y="70" width="9.2" height="77" fill="#000" stroke="none" stroke-width="1"/>
<line x1="490.25" y1="86.8" x2="490.25" y2="91.3" stroke="#000" stroke-width="1.0" stroke-linecap="butt"/>
<line x1="487" y1="86.8" x2="493.5" y2="86.8" stroke="#000" stroke-width="1.0" stroke-linecap="butt"/>
<rect x="485.6" y="91.9" width="9.3" height="55.1" fill="#fff" stroke="#000" stroke-width="1.2"/>
<line x1="505.15" y1="100.5" x2="505.15" y2="104.5" stroke="#3a3a3a" stroke-width="1.0" stroke-linecap="butt"/>
<line x1="502.45" y1="100.5" x2="507.85" y2="100.5" stroke="#3a3a3a" stroke-width="1.0" stroke-linecap="butt"/>
<rect x="500.8" y="104.5" width="8.7" height="42.5" fill="#808080" stroke="none" stroke-width="1"/>
<line x1="467.75" y1="147" x2="513.8" y2="147" stroke="#000" stroke-width="1.1" stroke-linecap="butt"/>
<line x1="475.8" y1="147" x2="475.8" y2="150.6" stroke="#000" stroke-width="1.0" stroke-linecap="butt"/>
<text transform="translate(479.3 157.9) rotate(-45) scale(0.95 1)" font-size="8.3" text-anchor="end" fill="#111" stroke="#111" stroke-width="0.22">CNV</text>
<line x1="490.2" y1="147" x2="490.2" y2="150.6" stroke="#000" stroke-width="1.0" stroke-linecap="butt"/>
<text transform="translate(493.7 157.9) rotate(-45) scale(0.95 1)" font-size="8.3" text-anchor="end" fill="#111" stroke="#111" stroke-width="0.22">ABX</text>
<line x1="505.2" y1="147" x2="505.2" y2="150.6" stroke="#000" stroke-width="1.0" stroke-linecap="butt"/>
<text transform="translate(508.7 157.9) rotate(-45) scale(0.95 1)" font-size="8.3" text-anchor="end" fill="#111" stroke="#111" stroke-width="0.22">NEO</text>
<path d="M475.8 54.8V52H491.3V54.8" fill="none" stroke="#000" stroke-width="1.15"/>
<text transform="translate(483.85 53.5) scale(1 1)" font-size="8" font-weight="bold" text-anchor="middle" fill="#111" stroke="#111" stroke-width="0.12" letter-spacing="0.55">**</text>
<path d="M475.8 47.8V45H505.8V47.8" fill="none" stroke="#000" stroke-width="1.15"/>
<text transform="translate(491.1 46.1) scale(1 1)" font-size="8" font-weight="bold" text-anchor="middle" fill="#111" stroke="#111" stroke-width="0.12" letter-spacing="0.55">***</text>
<text transform="translate(445.6 102.2) rotate(-90) scale(0.935 1)" font-size="8.88" font-weight="bold" text-anchor="middle" fill="#111" stroke="#111" stroke-width="0.12">% Viable</text>
<line x1="381.2" y1="204.6" x2="381.2" y2="296.15" stroke="#000" stroke-width="1.1" stroke-linecap="butt"/>
<line x1="377.8" y1="295.6" x2="381.2" y2="295.6" stroke="#000" stroke-width="1.0" stroke-linecap="butt"/>
<text transform="translate(374.2 297.9) scale(0.92 1)" font-size="8.48" text-anchor="end" fill="#111" stroke="#111" stroke-width="0.22">0</text>
<line x1="377.8" y1="277.98" x2="381.2" y2="277.98" stroke="#000" stroke-width="1.0" stroke-linecap="butt"/>
<text transform="translate(374.2 280.28) scale(0.92 1)" font-size="8.48" text-anchor="end" fill="#111" stroke="#111" stroke-width="0.22">20</text>
<line x1="377.8" y1="260.36" x2="381.2" y2="260.36" stroke="#000" stroke-width="1.0" stroke-linecap="butt"/>
<text transform="translate(374.2 262.66) scale(0.92 1)" font-size="8.48" text-anchor="end" fill="#111" stroke="#111" stroke-width="0.22">40</text>
<line x1="377.8" y1="242.74" x2="381.2" y2="242.74" stroke="#000" stroke-width="1.0" stroke-linecap="butt"/>
<text transform="translate(374.2 245.04) scale(0.92 1)" font-size="8.48" text-anchor="end" fill="#111" stroke="#111" stroke-width="0.22">60</text>
<line x1="377.8" y1="225.12" x2="381.2" y2="225.12" stroke="#000" stroke-width="1.0" stroke-linecap="butt"/>
<text transform="translate(374.2 227.42) scale(0.92 1)" font-size="8.48" text-anchor="end" fill="#111" stroke="#111" stroke-width="0.22">80</text>
<line x1="377.8" y1="207.5" x2="381.2" y2="207.5" stroke="#000" stroke-width="1.0" stroke-linecap="butt"/>
<text transform="translate(374.2 209.8) scale(0.92 1)" font-size="8.48" text-anchor="end" fill="#111" stroke="#111" stroke-width="0.22">100</text>
<line x1="379.4" y1="286.79" x2="381.2" y2="286.79" stroke="#000" stroke-width="0.9" stroke-linecap="butt"/>
<line x1="379.4" y1="269.17" x2="381.2" y2="269.17" stroke="#000" stroke-width="0.9" stroke-linecap="butt"/>
<line x1="379.4" y1="251.55" x2="381.2" y2="251.55" stroke="#000" stroke-width="0.9" stroke-linecap="butt"/>
<line x1="379.4" y1="233.93" x2="381.2" y2="233.93" stroke="#000" stroke-width="0.9" stroke-linecap="butt"/>
<line x1="379.4" y1="216.31" x2="381.2" y2="216.31" stroke="#000" stroke-width="0.9" stroke-linecap="butt"/>
<line x1="388.8" y1="226.2" x2="388.8" y2="226.8" stroke="#000" stroke-width="1.0" stroke-linecap="butt"/>
<line x1="386.01" y1="226.2" x2="391.59" y2="226.2" stroke="#000" stroke-width="1.0" stroke-linecap="butt"/>
<rect x="384.3" y="226.8" width="9" height="68.8" fill="#000" stroke="none" stroke-width="1"/>
<line x1="403.3" y1="225.5" x2="403.3" y2="226.8" stroke="#000" stroke-width="1.0" stroke-linecap="butt"/>
<line x1="400.2" y1="225.5" x2="406.4" y2="225.5" stroke="#000" stroke-width="1.0" stroke-linecap="butt"/>
<rect x="398.9" y="227.4" width="8.8" height="68.2" fill="#fff" stroke="#000" stroke-width="1.2"/>
<line x1="417.9" y1="223.8" x2="417.9" y2="229.5" stroke="#3a3a3a" stroke-width="1.0" stroke-linecap="butt"/>
<line x1="415.05" y1="223.8" x2="420.75" y2="223.8" stroke="#3a3a3a" stroke-width="1.0" stroke-linecap="butt"/>
<rect x="413.3" y="229.5" width="9.2" height="66.1" fill="#808080" stroke="none" stroke-width="1"/>
<line x1="380.65" y1="295.6" x2="427" y2="295.6" stroke="#000" stroke-width="1.1" stroke-linecap="butt"/>
<line x1="388.8" y1="295.6" x2="388.8" y2="299.2" stroke="#000" stroke-width="1.0" stroke-linecap="butt"/>
<text transform="translate(392.3 306.5) rotate(-45) scale(0.95 1)" font-size="8.3" text-anchor="end" fill="#111" stroke="#111" stroke-width="0.22">CNV</text>
<line x1="403.3" y1="295.6" x2="403.3" y2="299.2" stroke="#000" stroke-width="1.0" stroke-linecap="butt"/>
<text transform="translate(406.8 306.5) rotate(-45) scale(0.95 1)" font-size="8.3" text-anchor="end" fill="#111" stroke="#111" stroke-width="0.22">ABX</text>
<line x1="418" y1="295.6" x2="418" y2="299.2" stroke="#000" stroke-width="1.0" stroke-linecap="butt"/>
<text transform="translate(421.5 306.5) rotate(-45) scale(0.95 1)" font-size="8.3" text-anchor="end" fill="#111" stroke="#111" stroke-width="0.22">NEO</text>
<path d="M388.8 207.3V204.5H418V207.3" fill="none" stroke="#000" stroke-width="1.15"/>
<line x1="403.3" y1="204.5" x2="403.3" y2="206.74" stroke="#000" stroke-width="1.0" stroke-linecap="butt"/>
<text transform="translate(403.4 202.5) scale(0.92 1)" font-size="8.06" text-anchor="middle" fill="#111" stroke="#111" stroke-width="0.22">NS</text>
<text transform="translate(338.4 249.4) rotate(-90) scale(0.935 1)" font-size="9.95" font-weight="bold" text-anchor="middle" fill="#111" stroke="#111" stroke-width="0.12">BM IMs</text>
<text transform="translate(354.4 252.2) rotate(-90) scale(0.935 1)" font-size="8.88" font-weight="bold" text-anchor="middle" fill="#111" stroke="#111" stroke-width="0.12">% Viable</text>
<line x1="468.3" y1="205.5" x2="468.3" y2="296.15" stroke="#000" stroke-width="1.1" stroke-linecap="butt"/>
<line x1="464.9" y1="295.6" x2="468.3" y2="295.6" stroke="#000" stroke-width="1.0" stroke-linecap="butt"/>
<text transform="translate(461.3 297.9) scale(0.92 1)" font-size="8.48" text-anchor="end" fill="#111" stroke="#111" stroke-width="0.22">40</text>
<line x1="464.9" y1="273.57" x2="468.3" y2="273.57" stroke="#000" stroke-width="1.0" stroke-linecap="butt"/>
<text transform="translate(461.3 275.87) scale(0.92 1)" font-size="8.48" text-anchor="end" fill="#111" stroke="#111" stroke-width="0.22">45</text>
<line x1="464.9" y1="251.54" x2="468.3" y2="251.54" stroke="#000" stroke-width="1.0" stroke-linecap="butt"/>
<text transform="translate(461.3 253.84) scale(0.92 1)" font-size="8.48" text-anchor="end" fill="#111" stroke="#111" stroke-width="0.22">50</text>
<line x1="464.9" y1="229.51" x2="468.3" y2="229.51" stroke="#000" stroke-width="1.0" stroke-linecap="butt"/>
<text transform="translate(461.3 231.81) scale(0.92 1)" font-size="8.48" text-anchor="end" fill="#111" stroke="#111" stroke-width="0.22">55</text>
<line x1="464.9" y1="207.48" x2="468.3" y2="207.48" stroke="#000" stroke-width="1.0" stroke-linecap="butt"/>
<text transform="translate(461.3 209.78) scale(0.92 1)" font-size="8.48" text-anchor="end" fill="#111" stroke="#111" stroke-width="0.22">60</text>
<line x1="466.5" y1="284.59" x2="468.3" y2="284.59" stroke="#000" stroke-width="0.9" stroke-linecap="butt"/>
<line x1="466.5" y1="262.56" x2="468.3" y2="262.56" stroke="#000" stroke-width="0.9" stroke-linecap="butt"/>
<line x1="466.5" y1="240.53" x2="468.3" y2="240.53" stroke="#000" stroke-width="0.9" stroke-linecap="butt"/>
<line x1="466.5" y1="218.5" x2="468.3" y2="218.5" stroke="#000" stroke-width="0.9" stroke-linecap="butt"/>
<line x1="475.9" y1="224.5" x2="475.9" y2="235" stroke="#000" stroke-width="1.0" stroke-linecap="butt"/>
<line x1="473.05" y1="224.5" x2="478.75" y2="224.5" stroke="#000" stroke-width="1.0" stroke-linecap="butt"/>
<rect x="471.3" y="235" width="9.2" height="60.6" fill="#000" stroke="none" stroke-width="1"/>
<line x1="490.25" y1="258.8" x2="490.25" y2="268.8" stroke="#000" stroke-width="1.0" stroke-linecap="butt"/>
<line x1="487" y1="258.8" x2="493.5" y2="258.8" stroke="#000" stroke-width="1.0" stroke-linecap="butt"/>
<rect x="485.6" y="269.4" width="9.3" height="26.2" fill="#fff" stroke="#000" stroke-width="1.2"/>
<line x1="505.15" y1="261.8" x2="505.15" y2="275" stroke="#3a3a3a" stroke-width="1.0" stroke-linecap="butt"/>
<line x1="502.45" y1="261.8" x2="507.85" y2="261.8" stroke="#3a3a3a" stroke-width="1.0" stroke-linecap="butt"/>
<rect x="500.8" y="275" width="8.7" height="20.6" fill="#808080" stroke="none" stroke-width="1"/>
<line x1="467.75" y1="295.6" x2="513.8" y2="295.6" stroke="#000" stroke-width="1.1" stroke-linecap="butt"/>
<line x1="475.8" y1="295.6" x2="475.8" y2="299.2" stroke="#000" stroke-width="1.0" stroke-linecap="butt"/>
<text transform="translate(479.3 306.5) rotate(-45) scale(0.95 1)" font-size="8.3" text-anchor="end" fill="#111" stroke="#111" stroke-width="0.22">CNV</text>
<line x1="490.2" y1="295.6" x2="490.2" y2="299.2" stroke="#000" stroke-width="1.0" stroke-linecap="butt"/>
<text transform="translate(493.7 306.5) rotate(-45) scale(0.95 1)" font-size="8.3" text-anchor="end" fill="#111" stroke="#111" stroke-width="0.22">ABX</text>
<line x1="505.2" y1="295.6" x2="505.2" y2="299.2" stroke="#000" stroke-width="1.0" stroke-linecap="butt"/>
<text transform="translate(508.7 306.5) rotate(-45) scale(0.95 1)" font-size="8.3" text-anchor="end" fill="#111" stroke="#111" stroke-width="0.22">NEO</text>
<path d="M475.8 203.2V200.4H491.3V203.2" fill="none" stroke="#000" stroke-width="1.15"/>
<text transform="translate(483.85 201.4) scale(1 1)" font-size="8" font-weight="bold" text-anchor="middle" fill="#111" stroke="#111" stroke-width="0.12" letter-spacing="0.55">*</text>
<path d="M475.8 196.4V193.6H505.8V196.4" fill="none" stroke="#000" stroke-width="1.15"/>
<text transform="translate(491.1 193.7) scale(1 1)" font-size="8" font-weight="bold" text-anchor="middle" fill="#111" stroke="#111" stroke-width="0.12" letter-spacing="0.55">*</text>
<text transform="translate(445.6 252.2) rotate(-90) scale(0.935 1)" font-size="8.88" font-weight="bold" text-anchor="middle" fill="#111" stroke="#111" stroke-width="0.12">% Viable</text>
<line x1="380" y1="353.3" x2="380" y2="444.85" stroke="#000" stroke-width="1.1" stroke-linecap="butt"/>
<line x1="376.6" y1="444.3" x2="380" y2="444.3" stroke="#000" stroke-width="1.0" stroke-linecap="butt"/>
<text transform="translate(373 446.6) scale(0.92 1)" font-size="8.48" text-anchor="end" fill="#111" stroke="#111" stroke-width="0.22">0</text>
<line x1="376.6" y1="426.54" x2="380" y2="426.54" stroke="#000" stroke-width="1.0" stroke-linecap="butt"/>
<text transform="translate(373 428.84) scale(0.92 1)" font-size="8.48" text-anchor="end" fill="#111" stroke="#111" stroke-width="0.22">10</text>
<line x1="376.6" y1="408.78" x2="380" y2="408.78" stroke="#000" stroke-width="1.0" stroke-linecap="butt"/>
<text transform="translate(373 411.08) scale(0.92 1)" font-size="8.48" text-anchor="end" fill="#111" stroke="#111" stroke-width="0.22">20</text>
<line x1="376.6" y1="391.02" x2="380" y2="391.02" stroke="#000" stroke-width="1.0" stroke-linecap="butt"/>
<text transform="translate(373 393.32) scale(0.92 1)" font-size="8.48" text-anchor="end" fill="#111" stroke="#111" stroke-width="0.22">30</text>
<line x1="376.6" y1="373.26" x2="380" y2="373.26" stroke="#000" stroke-width="1.0" stroke-linecap="butt"/>
<text transform="translate(373 375.56) scale(0.92 1)" font-size="8.48" text-anchor="end" fill="#111" stroke="#111" stroke-width="0.22">40</text>
<line x1="376.6" y1="355.5" x2="380" y2="355.5" stroke="#000" stroke-width="1.0" stroke-linecap="butt"/>
<text transform="translate(373 357.8) scale(0.92 1)" font-size="8.48" text-anchor="end" fill="#111" stroke="#111" stroke-width="0.22">50</text>
<line x1="378.2" y1="435.42" x2="380" y2="435.42" stroke="#000" stroke-width="0.9" stroke-linecap="butt"/>
<line x1="378.2" y1="417.66" x2="380" y2="417.66" stroke="#000" stroke-width="0.9" stroke-linecap="butt"/>
<line x1="378.2" y1="399.9" x2="380" y2="399.9" stroke="#000" stroke-width="0.9" stroke-linecap="butt"/>
<line x1="378.2" y1="382.14" x2="380" y2="382.14" stroke="#000" stroke-width="0.9" stroke-linecap="butt"/>
<line x1="378.2" y1="364.38" x2="380" y2="364.38" stroke="#000" stroke-width="0.9" stroke-linecap="butt"/>
<line x1="387.5" y1="357" x2="387.5" y2="361.8" stroke="#000" stroke-width="1.0" stroke-linecap="butt"/>
<line x1="384.71" y1="357" x2="390.29" y2="357" stroke="#000" stroke-width="1.0" stroke-linecap="butt"/>
<rect x="383" y="361.8" width="9" height="82.5" fill="#000" stroke="none" stroke-width="1"/>
<line x1="402.2" y1="391.3" x2="402.2" y2="395.8" stroke="#000" stroke-width="1.0" stroke-linecap="butt"/>
<line x1="398.98" y1="391.3" x2="405.42" y2="391.3" stroke="#000" stroke-width="1.0" stroke-linecap="butt"/>
<rect x="397.6" y="396.4" width="9.2" height="47.9" fill="#fff" stroke="#000" stroke-width="1.2"/>
<line x1="416.75" y1="382.5" x2="416.75" y2="385.5" stroke="#3a3a3a" stroke-width="1.0" stroke-linecap="butt"/>
<line x1="413.93" y1="382.5" x2="419.57" y2="382.5" stroke="#3a3a3a" stroke-width="1.0" stroke-linecap="butt"/>
<rect x="412.2" y="385.5" width="9.1" height="58.8" fill="#808080" stroke="none" stroke-width="1"/>
<line x1="379.45" y1="444.3" x2="425" y2="444.3" stroke="#000" stroke-width="1.1" stroke-linecap="butt"/>
<line x1="387" y1="444.3" x2="387" y2="447.9" stroke="#000" stroke-width="1.0" stroke-linecap="butt"/>
<text transform="translate(390.5 455.2) rotate(-45) scale(0.95 1)" font-size="8.3" text-anchor="end" fill="#111" stroke="#111" stroke-width="0.22">CNV</text>
<line x1="402" y1="444.3" x2="402" y2="447.9" stroke="#000" stroke-width="1.0" stroke-linecap="butt"/>
<text transform="translate(405.5 455.2) rotate(-45) scale(0.95 1)" font-size="8.3" text-anchor="end" fill="#111" stroke="#111" stroke-width="0.22">ABX</text>
<line x1="416.5" y1="444.3" x2="416.5" y2="447.9" stroke="#000" stroke-width="1.0" stroke-linecap="butt"/>
<text transform="translate(420 455.2) rotate(-45) scale(0.95 1)" font-size="8.3" text-anchor="end" fill="#111" stroke="#111" stroke-width="0.22">NEO</text>
<path d="M387 342.3V339.5H416.8V342.3" fill="none" stroke="#000" stroke-width="1.15"/>
<text transform="translate(402.2 341) scale(1 1)" font-size="8" font-weight="bold" text-anchor="middle" fill="#111" stroke="#111" stroke-width="0.12" letter-spacing="0.55">**</text>
<path d="M387 352.8V350H402.5V352.8" fill="none" stroke="#000" stroke-width="1.15"/>
<text transform="translate(395.05 351.1) scale(1 1)" font-size="8" font-weight="bold" text-anchor="middle" fill="#111" stroke="#111" stroke-width="0.12" letter-spacing="0.55">***</text>
<text transform="translate(341.6 398.6) rotate(-90) scale(0.935 1)" font-size="9.95" font-weight="bold" text-anchor="middle" fill="#111" stroke="#111" stroke-width="0.12">Splenic PMNs</text>
<text transform="translate(358 400) rotate(-90) scale(0.935 1)" font-size="8.88" font-weight="bold" text-anchor="middle" fill="#111" stroke="#111" stroke-width="0.12">% Viable</text>
<line x1="468.3" y1="353.3" x2="468.3" y2="444.85" stroke="#000" stroke-width="1.1" stroke-linecap="butt"/>
<line x1="464.9" y1="444.3" x2="468.3" y2="444.3" stroke="#000" stroke-width="1.0" stroke-linecap="butt"/>
<text transform="translate(461.3 446.6) scale(0.92 1)" font-size="8.48" text-anchor="end" fill="#111" stroke="#111" stroke-width="0.22">0</text>
<line x1="464.9" y1="414.7" x2="468.3" y2="414.7" stroke="#000" stroke-width="1.0" stroke-linecap="butt"/>
<text transform="translate(461.3 417) scale(0.92 1)" font-size="8.48" text-anchor="end" fill="#111" stroke="#111" stroke-width="0.22">5</text>
<line x1="464.9" y1="385.1" x2="468.3" y2="385.1" stroke="#000" stroke-width="1.0" stroke-linecap="butt"/>
<text transform="translate(461.3 387.4) scale(0.92 1)" font-size="8.48" text-anchor="end" fill="#111" stroke="#111" stroke-width="0.22">10</text>
<line x1="464.9" y1="355.5" x2="468.3" y2="355.5" stroke="#000" stroke-width="1.0" stroke-linecap="butt"/>
<text transform="translate(461.3 357.8) scale(0.92 1)" font-size="8.48" text-anchor="end" fill="#111" stroke="#111" stroke-width="0.22">15</text>
<line x1="466.5" y1="429.5" x2="468.3" y2="429.5" stroke="#000" stroke-width="0.9" stroke-linecap="butt"/>
<line x1="466.5" y1="399.9" x2="468.3" y2="399.9" stroke="#000" stroke-width="0.9" stroke-linecap="butt"/>
<line x1="466.5" y1="370.3" x2="468.3" y2="370.3" stroke="#000" stroke-width="0.9" stroke-linecap="butt"/>
<line x1="475.9" y1="385" x2="475.9" y2="406.3" stroke="#000" stroke-width="1.0" stroke-linecap="butt"/>
<line x1="473.05" y1="385" x2="478.75" y2="385" stroke="#000" stroke-width="1.0" stroke-linecap="butt"/>
<rect x="471.3" y="406.3" width="9.2" height="38" fill="#000" stroke="none" stroke-width="1"/>
<line x1="490.25" y1="437.5" x2="490.25" y2="438.3" stroke="#000" stroke-width="1.0" stroke-linecap="butt"/>
<line x1="487" y1="437.5" x2="493.5" y2="437.5" stroke="#000" stroke-width="1.0" stroke-linecap="butt"/>
<rect x="485.6" y="438.9" width="9.3" height="5.4" fill="#fff" stroke="#000" stroke-width="1.2"/>
<line x1="505.15" y1="439.8" x2="505.15" y2="440.8" stroke="#3a3a3a" stroke-width="1.0" stroke-linecap="butt"/>
<line x1="502.45" y1="439.8" x2="507.85" y2="439.8" stroke="#3a3a3a" stroke-width="1.0" stroke-linecap="butt"/>
<rect x="500.8" y="440.8" width="8.7" height="3.5" fill="#808080" stroke="none" stroke-width="1"/>
<line x1="467.75" y1="444.3" x2="513.8" y2="444.3" stroke="#000" stroke-width="1.1" stroke-linecap="butt"/>
<line x1="475.8" y1="444.3" x2="475.8" y2="447.9" stroke="#000" stroke-width="1.0" stroke-linecap="butt"/>
<text transform="translate(479.3 455.2) rotate(-45) scale(0.95 1)" font-size="8.3" text-anchor="end" fill="#111" stroke="#111" stroke-width="0.22">CNV</text>
<line x1="490.2" y1="444.3" x2="490.2" y2="447.9" stroke="#000" stroke-width="1.0" stroke-linecap="butt"/>
<text transform="translate(493.7 455.2) rotate(-45) scale(0.95 1)" font-size="8.3" text-anchor="end" fill="#111" stroke="#111" stroke-width="0.22">ABX</text>
<line x1="505.2" y1="444.3" x2="505.2" y2="447.9" stroke="#000" stroke-width="1.0" stroke-linecap="butt"/>
<text transform="translate(508.7 455.2) rotate(-45) scale(0.95 1)" font-size="8.3" text-anchor="end" fill="#111" stroke="#111" stroke-width="0.22">NEO</text>
<path d="M475.8 352.3V349.5H505V352.3" fill="none" stroke="#000" stroke-width="1.15"/>
<line x1="490.5" y1="349.5" x2="490.5" y2="351.74" stroke="#000" stroke-width="1.0" stroke-linecap="butt"/>
<text transform="translate(490.4 347.5) scale(0.92 1)" font-size="8.06" text-anchor="middle" fill="#111" stroke="#111" stroke-width="0.22">NS</text>
<text transform="translate(445.6 400) rotate(-90) scale(0.935 1)" font-size="8.88" font-weight="bold" text-anchor="middle" fill="#111" stroke="#111" stroke-width="0.12">% Viable</text>
<line x1="380" y1="499.5" x2="380" y2="590.05" stroke="#000" stroke-width="1.1" stroke-linecap="butt"/>
<line x1="376.6" y1="589.5" x2="380" y2="589.5" stroke="#000" stroke-width="1.0" stroke-linecap="butt"/>
<text transform="translate(373 591.8) scale(0.92 1)" font-size="8.48" text-anchor="end" fill="#111" stroke="#111" stroke-width="0.22">0</text>
<line x1="376.6" y1="571.85" x2="380" y2="571.85" stroke="#000" stroke-width="1.0" stroke-linecap="butt"/>
<text transform="translate(373 574.15) scale(0.92 1)" font-size="8.48" text-anchor="end" fill="#111" stroke="#111" stroke-width="0.22">10</text>
<line x1="376.6" y1="554.2" x2="380" y2="554.2" stroke="#000" stroke-width="1.0" stroke-linecap="butt"/>
<text transform="translate(373 556.5) scale(0.92 1)" font-size="8.48" text-anchor="end" fill="#111" stroke="#111" stroke-width="0.22">20</text>
<line x1="376.6" y1="536.55" x2="380" y2="536.55" stroke="#000" stroke-width="1.0" stroke-linecap="butt"/>
<text transform="translate(373 538.85) scale(0.92 1)" font-size="8.48" text-anchor="end" fill="#111" stroke="#111" stroke-width="0.22">30</text>
<line x1="376.6" y1="518.9" x2="380" y2="518.9" stroke="#000" stroke-width="1.0" stroke-linecap="butt"/>
<text transform="translate(373 521.2) scale(0.92 1)" font-size="8.48" text-anchor="end" fill="#111" stroke="#111" stroke-width="0.22">40</text>
<line x1="376.6" y1="501.25" x2="380" y2="501.25" stroke="#000" stroke-width="1.0" stroke-linecap="butt"/>
<text transform="translate(373 503.55) scale(0.92 1)" font-size="8.48" text-anchor="end" fill="#111" stroke="#111" stroke-width="0.22">50</text>
<line x1="378.2" y1="580.67" x2="380" y2="580.67" stroke="#000" stroke-width="0.9" stroke-linecap="butt"/>
<line x1="378.2" y1="563.02" x2="380" y2="563.02" stroke="#000" stroke-width="0.9" stroke-linecap="butt"/>
<line x1="378.2" y1="545.38" x2="380" y2="545.38" stroke="#000" stroke-width="0.9" stroke-linecap="butt"/>
<line x1="378.2" y1="527.73" x2="380" y2="527.73" stroke="#000" stroke-width="0.9" stroke-linecap="butt"/>
<line x1="378.2" y1="510.07" x2="380" y2="510.07" stroke="#000" stroke-width="0.9" stroke-linecap="butt"/>
<line x1="387.5" y1="508.8" x2="387.5" y2="516.8" stroke="#000" stroke-width="1.0" stroke-linecap="butt"/>
<line x1="384.71" y1="508.8" x2="390.29" y2="508.8" stroke="#000" stroke-width="1.0" stroke-linecap="butt"/>
<rect x="383" y="516.8" width="9" height="72.7" fill="#000" stroke="none" stroke-width="1"/>
<line x1="402.2" y1="525.5" x2="402.2" y2="529.5" stroke="#000" stroke-width="1.0" stroke-linecap="butt"/>
<line x1="398.98" y1="525.5" x2="405.42" y2="525.5" stroke="#000" stroke-width="1.0" stroke-linecap="butt"/>
<rect x="397.6" y="530.1" width="9.2" height="59.4" fill="#fff" stroke="#000" stroke-width="1.2"/>
<line x1="416.75" y1="527.5" x2="416.75" y2="530.8" stroke="#3a3a3a" stroke-width="1.0" stroke-linecap="butt"/>
<line x1="413.93" y1="527.5" x2="419.57" y2="527.5" stroke="#3a3a3a" stroke-width="1.0" stroke-linecap="butt"/>
<rect x="412.2" y="530.8" width="9.1" height="58.7" fill="#808080" stroke="none" stroke-width="1"/>
<line x1="379.45" y1="589.5" x2="425" y2="589.5" stroke="#000" stroke-width="1.1" stroke-linecap="butt"/>
<line x1="387" y1="589.5" x2="387" y2="593.1" stroke="#000" stroke-width="1.0" stroke-linecap="butt"/>
<text transform="translate(390.5 600.4) rotate(-45) scale(0.95 1)" font-size="8.3" text-anchor="end" fill="#111" stroke="#111" stroke-width="0.22">CNV</text>
<line x1="402" y1="589.5" x2="402" y2="593.1" stroke="#000" stroke-width="1.0" stroke-linecap="butt"/>
<text transform="translate(405.5 600.4) rotate(-45) scale(0.95 1)" font-size="8.3" text-anchor="end" fill="#111" stroke="#111" stroke-width="0.22">ABX</text>
<line x1="416.5" y1="589.5" x2="416.5" y2="593.1" stroke="#000" stroke-width="1.0" stroke-linecap="butt"/>
<text transform="translate(420 600.4) rotate(-45) scale(0.95 1)" font-size="8.3" text-anchor="end" fill="#111" stroke="#111" stroke-width="0.22">NEO</text>
<path d="M387.5 499.6V496.8H416.8V499.6" fill="none" stroke="#000" stroke-width="1.15"/>
<line x1="402.3" y1="496.8" x2="402.3" y2="499.04" stroke="#000" stroke-width="1.0" stroke-linecap="butt"/>
<text transform="translate(402.15 494.8) scale(0.92 1)" font-size="8.06" text-anchor="middle" fill="#111" stroke="#111" stroke-width="0.22">NS</text>
<text transform="translate(341.6 545) rotate(-90) scale(0.935 1)" font-size="9.95" font-weight="bold" text-anchor="middle" fill="#111" stroke="#111" stroke-width="0.12">Splenic IMs</text>
<text transform="translate(358 546) rotate(-90) scale(0.935 1)" font-size="8.88" font-weight="bold" text-anchor="middle" fill="#111" stroke="#111" stroke-width="0.12">% Viable</text>
<line x1="468.3" y1="498.8" x2="468.3" y2="590.05" stroke="#000" stroke-width="1.1" stroke-linecap="butt"/>
<line x1="464.9" y1="589.5" x2="468.3" y2="589.5" stroke="#000" stroke-width="1.0" stroke-linecap="butt"/>
<text transform="translate(461.3 591.8) scale(0.92 1)" font-size="8.48" text-anchor="end" fill="#111" stroke="#111" stroke-width="0.22">0</text>
<line x1="464.9" y1="567.44" x2="468.3" y2="567.44" stroke="#000" stroke-width="1.0" stroke-linecap="butt"/>
<text transform="translate(461.3 569.74) scale(0.92 1)" font-size="8.48" text-anchor="end" fill="#111" stroke="#111" stroke-width="0.22">5</text>
<line x1="464.9" y1="545.38" x2="468.3" y2="545.38" stroke="#000" stroke-width="1.0" stroke-linecap="butt"/>
<text transform="translate(461.3 547.68) scale(0.92 1)" font-size="8.48" text-anchor="end" fill="#111" stroke="#111" stroke-width="0.22">10</text>
<line x1="464.9" y1="523.32" x2="468.3" y2="523.32" stroke="#000" stroke-width="1.0" stroke-linecap="butt"/>
<text transform="translate(461.3 525.62) scale(0.92 1)" font-size="8.48" text-anchor="end" fill="#111" stroke="#111" stroke-width="0.22">15</text>
<line x1="464.9" y1="501.26" x2="468.3" y2="501.26" stroke="#000" stroke-width="1.0" stroke-linecap="butt"/>
<text transform="translate(461.3 503.56) scale(0.92 1)" font-size="8.48" text-anchor="end" fill="#111" stroke="#111" stroke-width="0.22">20</text>
<line x1="466.5" y1="578.47" x2="468.3" y2="578.47" stroke="#000" stroke-width="0.9" stroke-linecap="butt"/>
<line x1="466.5" y1="556.41" x2="468.3" y2="556.41" stroke="#000" stroke-width="0.9" stroke-linecap="butt"/>
<line x1="466.5" y1="534.35" x2="468.3" y2="534.35" stroke="#000" stroke-width="0.9" stroke-linecap="butt"/>
<line x1="466.5" y1="512.29" x2="468.3" y2="512.29" stroke="#000" stroke-width="0.9" stroke-linecap="butt"/>
<line x1="475.9" y1="503.3" x2="475.9" y2="512.5" stroke="#000" stroke-width="1.0" stroke-linecap="butt"/>
<line x1="473.05" y1="503.3" x2="478.75" y2="503.3" stroke="#000" stroke-width="1.0" stroke-linecap="butt"/>
<rect x="471.3" y="512.5" width="9.2" height="77" fill="#000" stroke="none" stroke-width="1"/>
<line x1="490.25" y1="538.3" x2="490.25" y2="543.8" stroke="#000" stroke-width="1.0" stroke-linecap="butt"/>
<line x1="487" y1="538.3" x2="493.5" y2="538.3" stroke="#000" stroke-width="1.0" stroke-linecap="butt"/>
<rect x="485.6" y="544.4" width="9.3" height="45.1" fill="#fff" stroke="#000" stroke-width="1.2"/>
<line x1="505.15" y1="551.3" x2="505.15" y2="554.5" stroke="#3a3a3a" stroke-width="1.0" stroke-linecap="butt"/>
<line x1="502.45" y1="551.3" x2="507.85" y2="551.3" stroke="#3a3a3a" stroke-width="1.0" stroke-linecap="butt"/>
<rect x="500.8" y="554.5" width="8.7" height="35" fill="#808080" stroke="none" stroke-width="1"/>
<line x1="467.75" y1="589.5" x2="513.8" y2="589.5" stroke="#000" stroke-width="1.1" stroke-linecap="butt"/>
<line x1="475.8" y1="589.5" x2="475.8" y2="593.1" stroke="#000" stroke-width="1.0" stroke-linecap="butt"/>
<text transform="translate(479.3 600.4) rotate(-45) scale(0.95 1)" font-size="8.3" text-anchor="end" fill="#111" stroke="#111" stroke-width="0.22">CNV</text>
<line x1="490.2" y1="589.5" x2="490.2" y2="593.1" stroke="#000" stroke-width="1.0" stroke-linecap="butt"/>
<text transform="translate(493.7 600.4) rotate(-45) scale(0.95 1)" font-size="8.3" text-anchor="end" fill="#111" stroke="#111" stroke-width="0.22">ABX</text>
<line x1="505.2" y1="589.5" x2="505.2" y2="593.1" stroke="#000" stroke-width="1.0" stroke-linecap="butt"/>
<text transform="translate(508.7 600.4) rotate(-45) scale(0.95 1)" font-size="8.3" text-anchor="end" fill="#111" stroke="#111" stroke-width="0.22">NEO</text>
<path d="M475.8 500.3V497.5H491.3V500.3" fill="none" stroke="#000" stroke-width="1.15"/>
<text transform="translate(483.85 498.6) scale(1 1)" font-size="8" font-weight="bold" text-anchor="middle" fill="#111" stroke="#111" stroke-width="0.12" letter-spacing="0.55">**</text>
<path d="M475.8 491.6V488.8H505V491.6" fill="none" stroke="#000" stroke-width="1.15"/>
<text transform="translate(490.7 489.2) scale(1 1)" font-size="8" font-weight="bold" text-anchor="middle" fill="#111" stroke="#111" stroke-width="0.12" letter-spacing="0.55">**</text>
<text transform="translate(445.6 546) rotate(-90) scale(0.935 1)" font-size="8.88" font-weight="bold" text-anchor="middle" fill="#111" stroke="#111" stroke-width="0.12">% Viable</text>
<rect x="0.6" y="0.5" width="518.9" height="619" fill="none" stroke="#000" stroke-width="1.2"/>
</g></svg></body></html>
